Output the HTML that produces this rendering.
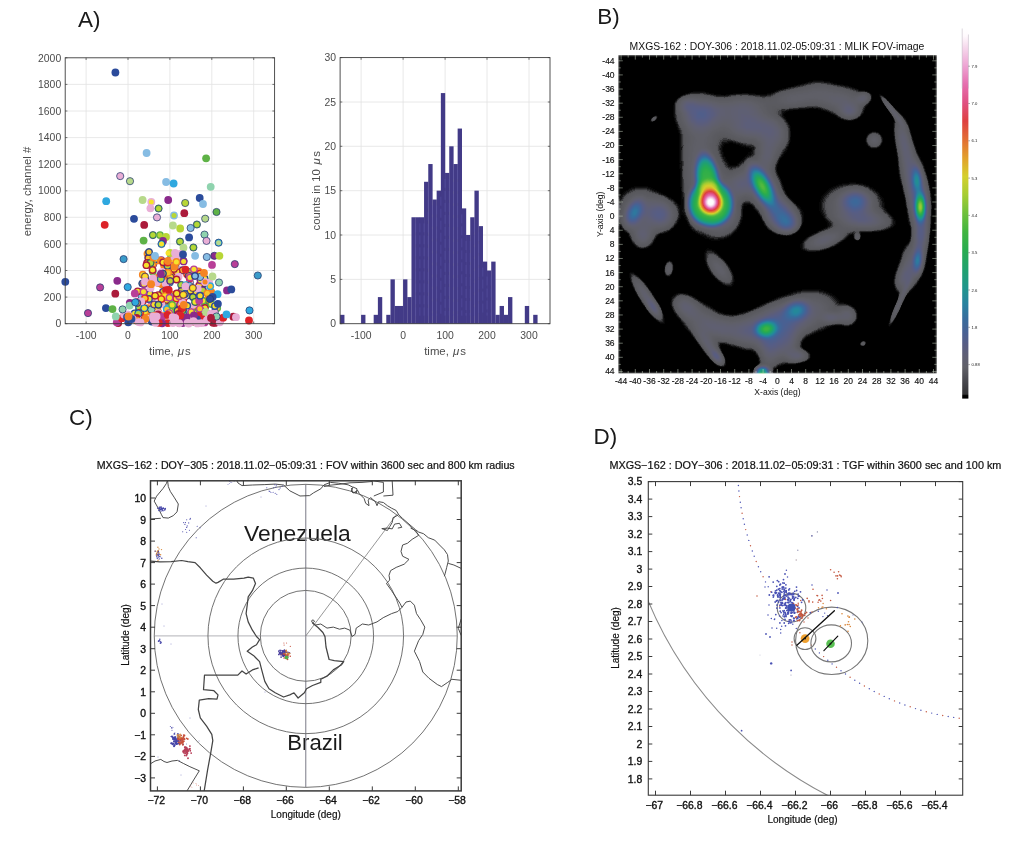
<!DOCTYPE html>
<html lang="en"><head><meta charset="utf-8"><title>Figure</title>
<style>
html,body{margin:0;padding:0;background:#fff;}
body{width:1029px;height:865px;overflow:hidden;font-family:"Liberation Sans",sans-serif;}
svg{display:block;font-family:"Liberation Sans",sans-serif;}
</style></head><body>
<svg width="1029" height="865" viewBox="0 0 1029 865">
<rect width="1029" height="865" fill="#ffffff"/>

<g font-size="22.5" fill="#1a1a1a">
<text x="78" y="27">A)</text>
<text x="597.2" y="23.8">B)</text>
<text x="69" y="425">C)</text>
<text x="593.5" y="443.8">D)</text>
</g>
<g id="panelA">
<line x1="86.1" y1="57.8" x2="86.1" y2="323.7" stroke="#e2e2e2" stroke-width="0.8"/>
<line x1="128.0" y1="57.8" x2="128.0" y2="323.7" stroke="#e2e2e2" stroke-width="0.8"/>
<line x1="169.9" y1="57.8" x2="169.9" y2="323.7" stroke="#e2e2e2" stroke-width="0.8"/>
<line x1="211.8" y1="57.8" x2="211.8" y2="323.7" stroke="#e2e2e2" stroke-width="0.8"/>
<line x1="253.7" y1="57.8" x2="253.7" y2="323.7" stroke="#e2e2e2" stroke-width="0.8"/>
<line x1="65.2" y1="297.1" x2="274.6" y2="297.1" stroke="#e2e2e2" stroke-width="0.8"/>
<line x1="65.2" y1="270.5" x2="274.6" y2="270.5" stroke="#e2e2e2" stroke-width="0.8"/>
<line x1="65.2" y1="243.9" x2="274.6" y2="243.9" stroke="#e2e2e2" stroke-width="0.8"/>
<line x1="65.2" y1="217.3" x2="274.6" y2="217.3" stroke="#e2e2e2" stroke-width="0.8"/>
<line x1="65.2" y1="190.8" x2="274.6" y2="190.8" stroke="#e2e2e2" stroke-width="0.8"/>
<line x1="65.2" y1="164.2" x2="274.6" y2="164.2" stroke="#e2e2e2" stroke-width="0.8"/>
<line x1="65.2" y1="137.6" x2="274.6" y2="137.6" stroke="#e2e2e2" stroke-width="0.8"/>
<line x1="65.2" y1="111.0" x2="274.6" y2="111.0" stroke="#e2e2e2" stroke-width="0.8"/>
<line x1="65.2" y1="84.4" x2="274.6" y2="84.4" stroke="#e2e2e2" stroke-width="0.8"/>
<circle cx="187.1" cy="274.2" r="3.9" fill="#dc2328"/>
<circle cx="187.1" cy="274.2" r="2.5" fill="#f6e22b"/>
<circle cx="183.7" cy="298.1" r="3.9" fill="#dc2328"/>
<circle cx="176.3" cy="311.6" r="3.9" fill="#b83f98"/>
<circle cx="166.3" cy="263.7" r="3.6" fill="#2b4b9b" stroke="#243a6e" stroke-width="0.75"/>
<circle cx="166.3" cy="263.7" r="2.5" fill="#b8d636"/>
<circle cx="146.8" cy="280.8" r="3.9" fill="#2fa8df"/>
<circle cx="146.8" cy="280.8" r="2.5" fill="#f6e22b"/>
<circle cx="168.2" cy="263.2" r="3.9" fill="#f58423"/>
<circle cx="168.2" cy="263.2" r="2.5" fill="#f6e22b"/>
<circle cx="192.9" cy="305.9" r="3.9" fill="#e9aed6"/>
<circle cx="177.4" cy="258.4" r="3.6" fill="#e9aed6" stroke="#243a6e" stroke-width="0.75"/>
<circle cx="207.6" cy="299.7" r="3.9" fill="#f58423"/>
<circle cx="198.5" cy="271.5" r="3.9" fill="#f58423"/>
<circle cx="198.5" cy="271.5" r="2.5" fill="#f9c52b"/>
<circle cx="190.0" cy="282.7" r="3.6" fill="#e9aed6" stroke="#243a6e" stroke-width="0.75"/>
<circle cx="140.7" cy="292.2" r="3.9" fill="#8a2a8b"/>
<circle cx="140.7" cy="292.2" r="2.5" fill="#f9c52b"/>
<circle cx="166.4" cy="296.3" r="3.9" fill="#dc2328"/>
<circle cx="189.1" cy="272.1" r="3.6" fill="#2fa8df" stroke="#243a6e" stroke-width="0.75"/>
<circle cx="189.1" cy="272.1" r="2.5" fill="#b8d636"/>
<circle cx="199.8" cy="298.9" r="3.9" fill="#2b4b9b"/>
<circle cx="199.8" cy="298.9" r="2.5" fill="#f6e22b"/>
<circle cx="204.9" cy="306.1" r="3.6" fill="#5eb246" stroke="#243a6e" stroke-width="0.75"/>
<circle cx="204.9" cy="306.1" r="2.5" fill="#b8d636"/>
<circle cx="139.1" cy="309.7" r="3.6" fill="#5eb246" stroke="#243a6e" stroke-width="0.75"/>
<circle cx="139.1" cy="309.7" r="2.5" fill="#b8d636"/>
<circle cx="143.8" cy="292.6" r="3.9" fill="#2fa8df"/>
<circle cx="143.8" cy="292.6" r="2.5" fill="#f6e22b"/>
<circle cx="199.1" cy="273.8" r="3.9" fill="#f58423"/>
<circle cx="169.8" cy="282.5" r="3.6" fill="#86bce3" stroke="#243a6e" stroke-width="0.75"/>
<circle cx="150.1" cy="299.2" r="3.9" fill="#dc2328"/>
<circle cx="165.6" cy="301.7" r="3.9" fill="#dc2328"/>
<circle cx="165.6" cy="301.7" r="2.5" fill="#f6e22b"/>
<circle cx="179.7" cy="269.9" r="3.6" fill="#2fa8df" stroke="#243a6e" stroke-width="0.75"/>
<circle cx="173.2" cy="263.6" r="3.9" fill="#f58423"/>
<circle cx="173.2" cy="263.6" r="2.5" fill="#f9c52b"/>
<circle cx="165.3" cy="272.2" r="3.9" fill="#e9aed6"/>
<circle cx="168.9" cy="293.3" r="3.9" fill="#ab1b3b"/>
<circle cx="168.9" cy="293.3" r="2.5" fill="#f9c52b"/>
<circle cx="202.7" cy="300.8" r="3.9" fill="#5eb246"/>
<circle cx="202.7" cy="300.8" r="2.5" fill="#f6e22b"/>
<circle cx="142.3" cy="283.5" r="3.6" fill="#2b4b9b" stroke="#243a6e" stroke-width="0.75"/>
<circle cx="142.3" cy="283.5" r="2.5" fill="#f6e22b"/>
<circle cx="161.9" cy="284.2" r="3.9" fill="#f58423"/>
<circle cx="149.7" cy="311.5" r="3.9" fill="#f58423"/>
<circle cx="174.2" cy="305.6" r="3.9" fill="#5eb246"/>
<circle cx="174.2" cy="305.6" r="2.5" fill="#f9c52b"/>
<circle cx="164.3" cy="273.1" r="3.9" fill="#dc2328"/>
<circle cx="164.3" cy="273.1" r="2.5" fill="#f6e22b"/>
<circle cx="205.0" cy="307.9" r="3.9" fill="#ab1b3b"/>
<circle cx="205.0" cy="307.9" r="2.5" fill="#f6e22b"/>
<circle cx="181.2" cy="284.9" r="3.6" fill="#5eb246" stroke="#243a6e" stroke-width="0.75"/>
<circle cx="181.2" cy="284.9" r="2.5" fill="#b8d636"/>
<circle cx="188.8" cy="275.8" r="3.6" fill="#8a2a8b" stroke="#243a6e" stroke-width="0.75"/>
<circle cx="188.8" cy="275.8" r="2.5" fill="#b8d636"/>
<circle cx="181.2" cy="258.4" r="3.9" fill="#e9aed6"/>
<circle cx="166.7" cy="288.1" r="3.9" fill="#2b4b9b"/>
<circle cx="166.7" cy="288.1" r="2.5" fill="#f6e22b"/>
<circle cx="142.8" cy="274.7" r="3.9" fill="#f58423"/>
<circle cx="142.8" cy="274.7" r="2.5" fill="#f6e22b"/>
<circle cx="176.0" cy="305.2" r="3.9" fill="#5eb246"/>
<circle cx="176.0" cy="305.2" r="2.5" fill="#f6e22b"/>
<circle cx="191.5" cy="312.7" r="3.6" fill="#e9aed6" stroke="#243a6e" stroke-width="0.75"/>
<circle cx="186.5" cy="293.7" r="3.9" fill="#f58423"/>
<circle cx="186.5" cy="293.7" r="2.5" fill="#f6e22b"/>
<circle cx="211.5" cy="304.1" r="3.9" fill="#5eb246"/>
<circle cx="211.5" cy="304.1" r="2.5" fill="#f6e22b"/>
<circle cx="143.0" cy="301.0" r="3.9" fill="#dc2328"/>
<circle cx="143.0" cy="301.0" r="2.5" fill="#f6e22b"/>
<circle cx="158.4" cy="283.1" r="3.9" fill="#f58423"/>
<circle cx="158.4" cy="283.1" r="2.5" fill="#f6e22b"/>
<circle cx="185.6" cy="285.6" r="3.9" fill="#2b4b9b"/>
<circle cx="185.6" cy="285.6" r="2.5" fill="#f6e22b"/>
<circle cx="141.6" cy="296.1" r="3.6" fill="#86bce3" stroke="#243a6e" stroke-width="0.75"/>
<circle cx="153.3" cy="263.9" r="3.9" fill="#8a2a8b"/>
<circle cx="153.3" cy="263.9" r="2.5" fill="#f6e22b"/>
<circle cx="150.6" cy="300.3" r="3.9" fill="#b83f98"/>
<circle cx="168.1" cy="274.7" r="3.9" fill="#f58423"/>
<circle cx="168.1" cy="274.7" r="2.5" fill="#f6e22b"/>
<circle cx="198.1" cy="310.6" r="3.9" fill="#f58423"/>
<circle cx="198.1" cy="310.6" r="2.5" fill="#f6e22b"/>
<circle cx="201.1" cy="311.0" r="3.6" fill="#2b4b9b" stroke="#243a6e" stroke-width="0.75"/>
<circle cx="201.1" cy="311.0" r="2.5" fill="#b8d636"/>
<circle cx="187.2" cy="295.5" r="3.6" fill="#2b4b9b" stroke="#243a6e" stroke-width="0.75"/>
<circle cx="187.2" cy="295.5" r="2.5" fill="#b8d636"/>
<circle cx="171.6" cy="294.7" r="3.9" fill="#f58423"/>
<circle cx="194.1" cy="292.4" r="3.6" fill="#8a2a8b" stroke="#243a6e" stroke-width="0.75"/>
<circle cx="194.1" cy="292.4" r="2.5" fill="#f6e22b"/>
<circle cx="175.9" cy="263.0" r="3.6" fill="#ab1b3b" stroke="#243a6e" stroke-width="0.75"/>
<circle cx="175.9" cy="263.0" r="2.5" fill="#f6e22b"/>
<circle cx="165.3" cy="274.0" r="3.9" fill="#dc2328"/>
<circle cx="165.3" cy="274.0" r="2.5" fill="#f6e22b"/>
<circle cx="177.0" cy="299.5" r="3.9" fill="#e9aed6"/>
<circle cx="173.6" cy="258.0" r="3.9" fill="#2fa8df"/>
<circle cx="173.6" cy="258.0" r="2.5" fill="#f9c52b"/>
<circle cx="168.3" cy="293.6" r="3.6" fill="#2fa8df" stroke="#243a6e" stroke-width="0.75"/>
<circle cx="168.3" cy="293.6" r="2.5" fill="#b8d636"/>
<circle cx="203.8" cy="283.5" r="3.6" fill="#8a2a8b" stroke="#243a6e" stroke-width="0.75"/>
<circle cx="203.8" cy="283.5" r="2.5" fill="#b8d636"/>
<circle cx="197.9" cy="311.3" r="3.9" fill="#5eb246"/>
<circle cx="197.9" cy="311.3" r="2.5" fill="#f6e22b"/>
<circle cx="170.6" cy="298.5" r="3.9" fill="#dc2328"/>
<circle cx="170.6" cy="298.5" r="2.5" fill="#f6e22b"/>
<circle cx="170.4" cy="297.8" r="3.9" fill="#2fa8df"/>
<circle cx="170.4" cy="297.8" r="2.5" fill="#f6e22b"/>
<circle cx="183.7" cy="312.4" r="3.9" fill="#f58423"/>
<circle cx="211.3" cy="292.2" r="3.9" fill="#f58423"/>
<circle cx="164.7" cy="296.3" r="3.6" fill="#ab1b3b" stroke="#243a6e" stroke-width="0.75"/>
<circle cx="164.7" cy="296.3" r="2.5" fill="#f6e22b"/>
<circle cx="143.6" cy="310.2" r="3.9" fill="#2fa8df"/>
<circle cx="143.6" cy="310.2" r="2.5" fill="#f6e22b"/>
<circle cx="183.5" cy="261.0" r="3.6" fill="#f58423" stroke="#243a6e" stroke-width="0.75"/>
<circle cx="183.5" cy="261.0" r="2.5" fill="#f9c52b"/>
<circle cx="182.8" cy="270.0" r="3.9" fill="#e9aed6"/>
<circle cx="170.7" cy="306.2" r="3.9" fill="#dc2328"/>
<circle cx="170.7" cy="306.2" r="2.5" fill="#f6e22b"/>
<circle cx="174.4" cy="260.5" r="3.9" fill="#ab1b3b"/>
<circle cx="174.4" cy="260.5" r="2.5" fill="#f6e22b"/>
<circle cx="166.8" cy="308.2" r="3.9" fill="#2fa8df"/>
<circle cx="166.8" cy="308.2" r="2.5" fill="#f6e22b"/>
<circle cx="167.1" cy="293.0" r="3.9" fill="#e9aed6"/>
<circle cx="217.2" cy="308.0" r="3.9" fill="#5eb246"/>
<circle cx="217.2" cy="308.0" r="2.5" fill="#f9c52b"/>
<circle cx="195.3" cy="312.2" r="3.9" fill="#f58423"/>
<circle cx="195.3" cy="312.2" r="2.5" fill="#f6e22b"/>
<circle cx="197.2" cy="301.9" r="3.9" fill="#dc2328"/>
<circle cx="197.2" cy="301.9" r="2.5" fill="#f6e22b"/>
<circle cx="146.4" cy="281.2" r="3.9" fill="#2b4b9b"/>
<circle cx="146.4" cy="281.2" r="2.5" fill="#f6e22b"/>
<circle cx="183.1" cy="298.8" r="3.9" fill="#dc2328"/>
<circle cx="183.1" cy="298.8" r="2.5" fill="#f6e22b"/>
<circle cx="179.6" cy="307.6" r="3.9" fill="#2b4b9b"/>
<circle cx="179.6" cy="307.6" r="2.5" fill="#f6e22b"/>
<circle cx="149.9" cy="294.1" r="3.6" fill="#2b4b9b" stroke="#243a6e" stroke-width="0.75"/>
<circle cx="149.9" cy="294.1" r="2.5" fill="#f6e22b"/>
<circle cx="183.6" cy="311.8" r="3.6" fill="#2fa8df" stroke="#243a6e" stroke-width="0.75"/>
<circle cx="183.6" cy="311.8" r="2.5" fill="#b8d636"/>
<circle cx="174.5" cy="309.8" r="3.9" fill="#b83f98"/>
<circle cx="156.7" cy="260.5" r="3.9" fill="#f58423"/>
<circle cx="156.7" cy="260.5" r="2.5" fill="#f6e22b"/>
<circle cx="149.4" cy="282.9" r="3.9" fill="#dc2328"/>
<circle cx="149.4" cy="282.9" r="2.5" fill="#f6e22b"/>
<circle cx="167.8" cy="291.8" r="3.9" fill="#e9aed6"/>
<circle cx="152.7" cy="271.4" r="3.9" fill="#5eb246"/>
<circle cx="152.7" cy="271.4" r="2.5" fill="#f9c52b"/>
<circle cx="137.7" cy="291.3" r="3.9" fill="#ab1b3b"/>
<circle cx="137.7" cy="291.3" r="2.5" fill="#f6e22b"/>
<circle cx="182.5" cy="310.2" r="3.6" fill="#5eb246" stroke="#243a6e" stroke-width="0.75"/>
<circle cx="182.5" cy="310.2" r="2.5" fill="#b8d636"/>
<circle cx="189.7" cy="278.2" r="3.9" fill="#dc2328"/>
<circle cx="189.7" cy="278.2" r="2.5" fill="#f9c52b"/>
<circle cx="153.6" cy="303.0" r="3.9" fill="#e9aed6"/>
<circle cx="155.4" cy="259.2" r="3.9" fill="#2b4b9b"/>
<circle cx="155.4" cy="259.2" r="2.5" fill="#f6e22b"/>
<circle cx="200.2" cy="276.6" r="3.9" fill="#5eb246"/>
<circle cx="200.2" cy="276.6" r="2.5" fill="#f6e22b"/>
<circle cx="145.3" cy="311.4" r="3.9" fill="#f58423"/>
<circle cx="145.3" cy="311.4" r="2.5" fill="#f6e22b"/>
<circle cx="189.3" cy="286.6" r="3.9" fill="#f58423"/>
<circle cx="189.3" cy="286.6" r="2.5" fill="#f6e22b"/>
<circle cx="200.1" cy="273.5" r="3.9" fill="#dc2328"/>
<circle cx="200.1" cy="273.5" r="2.5" fill="#f9c52b"/>
<circle cx="189.0" cy="289.8" r="3.6" fill="#2b4b9b" stroke="#243a6e" stroke-width="0.75"/>
<circle cx="189.0" cy="289.8" r="2.5" fill="#b8d636"/>
<circle cx="186.1" cy="285.1" r="3.9" fill="#2fa8df"/>
<circle cx="186.1" cy="285.1" r="2.5" fill="#f6e22b"/>
<circle cx="189.5" cy="285.9" r="3.6" fill="#86bce3" stroke="#243a6e" stroke-width="0.75"/>
<circle cx="180.3" cy="269.8" r="3.9" fill="#e9aed6"/>
<circle cx="147.5" cy="253.8" r="3.9" fill="#f58423"/>
<circle cx="147.5" cy="253.8" r="2.5" fill="#f9c52b"/>
<circle cx="134.6" cy="313.3" r="3.9" fill="#2b4b9b"/>
<circle cx="134.6" cy="313.3" r="2.5" fill="#f6e22b"/>
<circle cx="139.2" cy="307.0" r="3.6" fill="#2fa8df" stroke="#243a6e" stroke-width="0.75"/>
<circle cx="139.2" cy="307.0" r="2.5" fill="#b8d636"/>
<circle cx="181.3" cy="291.1" r="3.6" fill="#8a2a8b" stroke="#243a6e" stroke-width="0.75"/>
<circle cx="181.3" cy="291.1" r="2.5" fill="#b8d636"/>
<circle cx="163.0" cy="291.8" r="3.6" fill="#8a2a8b" stroke="#243a6e" stroke-width="0.75"/>
<circle cx="163.0" cy="291.8" r="2.5" fill="#b8d636"/>
<circle cx="166.8" cy="299.9" r="3.6" fill="#dc2328" stroke="#243a6e" stroke-width="0.75"/>
<circle cx="166.8" cy="299.9" r="2.5" fill="#f6e22b"/>
<circle cx="154.6" cy="310.0" r="3.9" fill="#8a2a8b"/>
<circle cx="154.6" cy="310.0" r="2.5" fill="#f6e22b"/>
<circle cx="140.0" cy="312.7" r="3.9" fill="#dc2328"/>
<circle cx="140.0" cy="312.7" r="2.5" fill="#f6e22b"/>
<circle cx="172.2" cy="259.7" r="3.9" fill="#8a2a8b"/>
<circle cx="172.2" cy="259.7" r="2.5" fill="#f6e22b"/>
<circle cx="164.1" cy="265.4" r="3.9" fill="#f58423"/>
<circle cx="204.6" cy="278.5" r="3.6" fill="#2b4b9b" stroke="#243a6e" stroke-width="0.75"/>
<circle cx="204.6" cy="278.5" r="2.5" fill="#f6e22b"/>
<circle cx="161.3" cy="260.1" r="3.9" fill="#8a2a8b"/>
<circle cx="160.7" cy="260.6" r="3.9" fill="#f58423"/>
<circle cx="145.1" cy="298.9" r="3.6" fill="#e9aed6" stroke="#243a6e" stroke-width="0.75"/>
<circle cx="167.9" cy="279.9" r="3.9" fill="#f58423"/>
<circle cx="165.6" cy="283.3" r="3.9" fill="#e9aed6"/>
<circle cx="150.5" cy="288.1" r="3.9" fill="#e9aed6"/>
<circle cx="199.2" cy="285.4" r="3.9" fill="#ab1b3b"/>
<circle cx="199.2" cy="285.4" r="2.5" fill="#f6e22b"/>
<circle cx="159.6" cy="276.5" r="3.9" fill="#2b4b9b"/>
<circle cx="159.6" cy="276.5" r="2.5" fill="#f9c52b"/>
<circle cx="202.9" cy="290.2" r="3.6" fill="#8a2a8b" stroke="#243a6e" stroke-width="0.75"/>
<circle cx="202.9" cy="290.2" r="2.5" fill="#b8d636"/>
<circle cx="161.3" cy="304.4" r="3.9" fill="#e9aed6"/>
<circle cx="134.8" cy="293.4" r="3.9" fill="#b83f98"/>
<circle cx="174.4" cy="267.1" r="3.6" fill="#2b4b9b" stroke="#243a6e" stroke-width="0.75"/>
<circle cx="174.4" cy="267.1" r="2.5" fill="#b8d636"/>
<circle cx="182.6" cy="270.3" r="3.6" fill="#dc2328" stroke="#243a6e" stroke-width="0.75"/>
<circle cx="182.6" cy="270.3" r="2.5" fill="#f9c52b"/>
<circle cx="166.2" cy="290.2" r="3.9" fill="#dc2328"/>
<circle cx="174.3" cy="273.2" r="3.9" fill="#f58423"/>
<circle cx="152.4" cy="264.6" r="3.9" fill="#f58423"/>
<circle cx="152.4" cy="264.6" r="2.5" fill="#f9c52b"/>
<circle cx="190.0" cy="277.5" r="3.9" fill="#b83f98"/>
<circle cx="190.0" cy="277.5" r="2.5" fill="#f6e22b"/>
<circle cx="196.9" cy="312.4" r="3.9" fill="#ab1b3b"/>
<circle cx="196.9" cy="312.4" r="2.5" fill="#f6e22b"/>
<circle cx="162.3" cy="274.7" r="3.9" fill="#dc2328"/>
<circle cx="162.3" cy="274.7" r="2.5" fill="#f6e22b"/>
<circle cx="180.0" cy="304.8" r="3.9" fill="#8a2a8b"/>
<circle cx="180.0" cy="304.8" r="2.5" fill="#f9c52b"/>
<circle cx="148.2" cy="308.1" r="3.9" fill="#f58423"/>
<circle cx="145.0" cy="276.6" r="3.6" fill="#f58423" stroke="#243a6e" stroke-width="0.75"/>
<circle cx="145.0" cy="276.6" r="2.5" fill="#f6e22b"/>
<circle cx="173.8" cy="310.2" r="3.6" fill="#dc2328" stroke="#243a6e" stroke-width="0.75"/>
<circle cx="173.8" cy="310.2" r="2.5" fill="#f6e22b"/>
<circle cx="157.5" cy="310.2" r="3.9" fill="#f58423"/>
<circle cx="157.5" cy="310.2" r="2.5" fill="#f6e22b"/>
<circle cx="176.7" cy="271.8" r="3.9" fill="#ab1b3b"/>
<circle cx="176.7" cy="271.8" r="2.5" fill="#f6e22b"/>
<circle cx="214.8" cy="312.1" r="3.6" fill="#e9aed6" stroke="#243a6e" stroke-width="0.75"/>
<circle cx="138.3" cy="313.5" r="3.6" fill="#2fa8df" stroke="#243a6e" stroke-width="0.75"/>
<circle cx="138.3" cy="313.5" r="2.5" fill="#b8d636"/>
<circle cx="158.7" cy="313.3" r="3.9" fill="#dc2328"/>
<circle cx="158.7" cy="313.3" r="2.5" fill="#f6e22b"/>
<circle cx="185.5" cy="269.6" r="3.9" fill="#dc2328"/>
<circle cx="178.6" cy="276.7" r="3.9" fill="#e9aed6"/>
<circle cx="143.9" cy="284.0" r="3.9" fill="#8a2a8b"/>
<circle cx="143.9" cy="284.0" r="2.5" fill="#f6e22b"/>
<circle cx="148.3" cy="257.9" r="3.6" fill="#ab1b3b" stroke="#243a6e" stroke-width="0.75"/>
<circle cx="148.3" cy="257.9" r="2.5" fill="#f9c52b"/>
<circle cx="170.5" cy="277.5" r="3.6" fill="#f58423" stroke="#243a6e" stroke-width="0.75"/>
<circle cx="170.5" cy="277.5" r="2.5" fill="#f6e22b"/>
<circle cx="181.7" cy="299.3" r="3.9" fill="#5eb246"/>
<circle cx="181.7" cy="299.3" r="2.5" fill="#f6e22b"/>
<circle cx="177.5" cy="310.4" r="3.6" fill="#2b4b9b" stroke="#243a6e" stroke-width="0.75"/>
<circle cx="177.5" cy="310.4" r="2.5" fill="#f9c52b"/>
<circle cx="151.4" cy="309.5" r="3.6" fill="#8fd3ae" stroke="#243a6e" stroke-width="0.75"/>
<circle cx="149.0" cy="298.9" r="3.9" fill="#2b4b9b"/>
<circle cx="149.0" cy="298.9" r="2.5" fill="#f6e22b"/>
<circle cx="158.0" cy="277.6" r="3.9" fill="#f58423"/>
<circle cx="144.9" cy="298.3" r="3.9" fill="#dc2328"/>
<circle cx="144.9" cy="298.3" r="2.5" fill="#f9c52b"/>
<circle cx="182.8" cy="301.7" r="3.9" fill="#dc2328"/>
<circle cx="182.8" cy="301.7" r="2.5" fill="#f6e22b"/>
<circle cx="184.5" cy="295.5" r="3.9" fill="#e9aed6"/>
<circle cx="170.8" cy="258.7" r="3.6" fill="#2fa8df" stroke="#243a6e" stroke-width="0.75"/>
<circle cx="170.8" cy="258.7" r="2.5" fill="#b8d636"/>
<circle cx="184.1" cy="306.8" r="3.9" fill="#dc2328"/>
<circle cx="184.1" cy="306.8" r="2.5" fill="#f9c52b"/>
<circle cx="209.2" cy="282.7" r="3.9" fill="#e9aed6"/>
<circle cx="144.3" cy="308.2" r="3.6" fill="#2fa8df" stroke="#243a6e" stroke-width="0.75"/>
<circle cx="144.3" cy="308.2" r="2.5" fill="#f6e22b"/>
<circle cx="129.8" cy="302.9" r="3.9" fill="#8a2a8b"/>
<circle cx="176.4" cy="298.4" r="3.9" fill="#dc2328"/>
<circle cx="176.4" cy="298.4" r="2.5" fill="#f6e22b"/>
<circle cx="179.9" cy="294.1" r="3.9" fill="#8a2a8b"/>
<circle cx="179.9" cy="294.1" r="2.5" fill="#f6e22b"/>
<circle cx="174.0" cy="268.9" r="3.9" fill="#ab1b3b"/>
<circle cx="174.0" cy="268.9" r="2.5" fill="#f6e22b"/>
<circle cx="167.6" cy="291.8" r="3.9" fill="#dc2328"/>
<circle cx="167.6" cy="291.8" r="2.5" fill="#f9c52b"/>
<circle cx="137.7" cy="301.9" r="3.9" fill="#b83f98"/>
<circle cx="137.7" cy="301.9" r="2.5" fill="#f6e22b"/>
<circle cx="190.4" cy="290.7" r="3.6" fill="#ab1b3b" stroke="#243a6e" stroke-width="0.75"/>
<circle cx="190.4" cy="290.7" r="2.5" fill="#f6e22b"/>
<circle cx="193.9" cy="269.3" r="3.9" fill="#b83f98"/>
<circle cx="193.9" cy="269.3" r="2.5" fill="#f6e22b"/>
<circle cx="163.2" cy="262.3" r="3.9" fill="#ab1b3b"/>
<circle cx="163.2" cy="262.3" r="2.5" fill="#f6e22b"/>
<circle cx="172.8" cy="265.2" r="3.9" fill="#f58423"/>
<circle cx="172.8" cy="265.2" r="2.5" fill="#f6e22b"/>
<circle cx="170.2" cy="311.2" r="3.9" fill="#5eb246"/>
<circle cx="170.2" cy="311.2" r="2.5" fill="#f6e22b"/>
<circle cx="182.5" cy="302.8" r="3.9" fill="#e9aed6"/>
<circle cx="166.8" cy="309.2" r="3.9" fill="#2fa8df"/>
<circle cx="166.8" cy="309.2" r="2.5" fill="#f9c52b"/>
<circle cx="192.9" cy="297.1" r="3.6" fill="#2b4b9b" stroke="#243a6e" stroke-width="0.75"/>
<circle cx="192.9" cy="297.1" r="2.5" fill="#b8d636"/>
<circle cx="158.3" cy="295.1" r="3.9" fill="#ab1b3b"/>
<circle cx="158.3" cy="295.1" r="2.5" fill="#f6e22b"/>
<circle cx="187.2" cy="305.7" r="3.9" fill="#2b4b9b"/>
<circle cx="187.2" cy="305.7" r="2.5" fill="#f6e22b"/>
<circle cx="197.8" cy="288.7" r="3.9" fill="#e9aed6"/>
<circle cx="156.8" cy="282.5" r="3.9" fill="#e9aed6"/>
<circle cx="183.6" cy="261.4" r="3.9" fill="#8a2a8b"/>
<circle cx="183.6" cy="261.4" r="2.5" fill="#f6e22b"/>
<circle cx="176.5" cy="279.5" r="3.9" fill="#ab1b3b"/>
<circle cx="176.5" cy="279.5" r="2.5" fill="#f6e22b"/>
<circle cx="207.3" cy="293.3" r="3.9" fill="#f58423"/>
<circle cx="207.3" cy="293.3" r="2.5" fill="#f9c52b"/>
<circle cx="185.5" cy="286.5" r="3.9" fill="#e9aed6"/>
<circle cx="147.1" cy="263.0" r="3.9" fill="#ab1b3b"/>
<circle cx="147.1" cy="263.0" r="2.5" fill="#f9c52b"/>
<circle cx="167.2" cy="297.2" r="3.9" fill="#b83f98"/>
<circle cx="167.2" cy="297.2" r="2.5" fill="#f6e22b"/>
<circle cx="179.1" cy="296.2" r="3.9" fill="#b83f98"/>
<circle cx="179.1" cy="296.2" r="2.5" fill="#f9c52b"/>
<circle cx="165.0" cy="296.1" r="3.9" fill="#f58423"/>
<circle cx="165.0" cy="296.1" r="2.5" fill="#f6e22b"/>
<circle cx="200.5" cy="280.3" r="3.9" fill="#8a2a8b"/>
<circle cx="200.5" cy="280.3" r="2.5" fill="#f6e22b"/>
<circle cx="141.2" cy="301.4" r="3.9" fill="#e9aed6"/>
<circle cx="167.5" cy="266.1" r="3.6" fill="#2b4b9b" stroke="#243a6e" stroke-width="0.75"/>
<circle cx="167.5" cy="266.1" r="2.5" fill="#b8d636"/>
<circle cx="158.3" cy="313.1" r="3.9" fill="#e9aed6"/>
<circle cx="165.7" cy="272.6" r="3.9" fill="#dc2328"/>
<circle cx="207.2" cy="313.4" r="3.6" fill="#2b4b9b" stroke="#243a6e" stroke-width="0.75"/>
<circle cx="207.2" cy="313.4" r="2.5" fill="#b8d636"/>
<circle cx="174.7" cy="262.1" r="3.9" fill="#e9aed6"/>
<circle cx="193.9" cy="313.0" r="3.9" fill="#5eb246"/>
<circle cx="193.9" cy="313.0" r="2.5" fill="#f6e22b"/>
<circle cx="168.7" cy="289.8" r="3.9" fill="#dc2328"/>
<circle cx="169.5" cy="297.7" r="3.9" fill="#b83f98"/>
<circle cx="169.5" cy="297.7" r="2.5" fill="#f6e22b"/>
<circle cx="191.2" cy="312.1" r="3.9" fill="#b83f98"/>
<circle cx="191.2" cy="312.1" r="2.5" fill="#f6e22b"/>
<circle cx="137.2" cy="303.0" r="3.6" fill="#8a2a8b" stroke="#243a6e" stroke-width="0.75"/>
<circle cx="137.2" cy="303.0" r="2.5" fill="#b8d636"/>
<circle cx="155.1" cy="295.8" r="3.9" fill="#ab1b3b"/>
<circle cx="155.1" cy="295.8" r="2.5" fill="#f6e22b"/>
<circle cx="181.5" cy="308.6" r="3.9" fill="#dc2328"/>
<circle cx="161.3" cy="299.1" r="3.9" fill="#dc2328"/>
<circle cx="161.3" cy="299.1" r="2.5" fill="#f6e22b"/>
<circle cx="167.5" cy="262.5" r="3.9" fill="#dc2328"/>
<circle cx="214.9" cy="306.1" r="3.9" fill="#2b4b9b"/>
<circle cx="214.9" cy="306.1" r="2.5" fill="#f6e22b"/>
<circle cx="162.1" cy="272.0" r="3.9" fill="#e9aed6"/>
<circle cx="195.1" cy="301.9" r="3.6" fill="#5eb246" stroke="#243a6e" stroke-width="0.75"/>
<circle cx="195.1" cy="301.9" r="2.5" fill="#f6e22b"/>
<circle cx="210.2" cy="286.2" r="3.9" fill="#2fa8df"/>
<circle cx="210.2" cy="286.2" r="2.5" fill="#f9c52b"/>
<circle cx="169.2" cy="313.1" r="3.9" fill="#b83f98"/>
<circle cx="169.2" cy="313.1" r="2.5" fill="#f6e22b"/>
<circle cx="152.6" cy="270.0" r="3.9" fill="#ab1b3b"/>
<circle cx="152.6" cy="270.0" r="2.5" fill="#f6e22b"/>
<circle cx="145.0" cy="281.5" r="3.9" fill="#e9aed6"/>
<circle cx="160.8" cy="278.9" r="3.6" fill="#2fa8df" stroke="#243a6e" stroke-width="0.75"/>
<circle cx="160.8" cy="278.9" r="2.5" fill="#b8d636"/>
<circle cx="154.2" cy="304.5" r="3.6" fill="#b83f98" stroke="#243a6e" stroke-width="0.75"/>
<circle cx="154.2" cy="304.5" r="2.5" fill="#f6e22b"/>
<circle cx="199.8" cy="308.8" r="3.9" fill="#b83f98"/>
<circle cx="199.8" cy="308.8" r="2.5" fill="#f9c52b"/>
<circle cx="150.5" cy="262.9" r="3.6" fill="#5eb246" stroke="#243a6e" stroke-width="0.75"/>
<circle cx="150.5" cy="262.9" r="2.5" fill="#b8d636"/>
<circle cx="171.9" cy="259.8" r="3.9" fill="#b83f98"/>
<circle cx="171.9" cy="259.8" r="2.5" fill="#f6e22b"/>
<circle cx="199.2" cy="300.7" r="3.9" fill="#b83f98"/>
<circle cx="192.8" cy="288.0" r="3.6" fill="#f58423" stroke="#243a6e" stroke-width="0.75"/>
<circle cx="192.8" cy="288.0" r="2.5" fill="#f6e22b"/>
<circle cx="167.9" cy="261.0" r="3.9" fill="#f58423"/>
<circle cx="170.2" cy="281.0" r="3.6" fill="#8a2a8b" stroke="#243a6e" stroke-width="0.75"/>
<circle cx="170.2" cy="281.0" r="2.5" fill="#b8d636"/>
<circle cx="158.4" cy="304.8" r="3.6" fill="#2b4b9b" stroke="#243a6e" stroke-width="0.75"/>
<circle cx="158.4" cy="304.8" r="2.5" fill="#b8d636"/>
<circle cx="174.4" cy="266.6" r="3.9" fill="#f58423"/>
<circle cx="176.7" cy="293.4" r="3.9" fill="#ab1b3b"/>
<circle cx="176.7" cy="293.4" r="2.5" fill="#f6e22b"/>
<circle cx="200.1" cy="295.7" r="3.9" fill="#2b4b9b"/>
<circle cx="200.1" cy="295.7" r="2.5" fill="#f6e22b"/>
<circle cx="174.4" cy="256.7" r="3.9" fill="#e9aed6"/>
<circle cx="153.2" cy="257.5" r="3.9" fill="#f58423"/>
<circle cx="143.5" cy="291.7" r="3.9" fill="#b83f98"/>
<circle cx="143.5" cy="291.7" r="2.5" fill="#f6e22b"/>
<circle cx="153.0" cy="278.5" r="3.9" fill="#e9aed6"/>
<circle cx="183.8" cy="304.8" r="3.9" fill="#f58423"/>
<circle cx="151.1" cy="284.2" r="3.9" fill="#f58423"/>
<circle cx="146.4" cy="265.2" r="3.9" fill="#ab1b3b"/>
<circle cx="146.4" cy="265.2" r="2.5" fill="#f6e22b"/>
<circle cx="168.0" cy="272.8" r="3.9" fill="#f58423"/>
<circle cx="168.0" cy="272.8" r="2.5" fill="#f9c52b"/>
<circle cx="184.9" cy="294.0" r="3.9" fill="#2b4b9b"/>
<circle cx="184.9" cy="294.0" r="2.5" fill="#f6e22b"/>
<circle cx="176.4" cy="261.9" r="3.9" fill="#f58423"/>
<circle cx="176.4" cy="261.9" r="2.5" fill="#f6e22b"/>
<circle cx="172.1" cy="304.9" r="3.9" fill="#5eb246"/>
<circle cx="172.1" cy="304.9" r="2.5" fill="#f6e22b"/>
<circle cx="162.9" cy="273.6" r="3.6" fill="#2b4b9b" stroke="#243a6e" stroke-width="0.75"/>
<circle cx="162.9" cy="273.6" r="2.5" fill="#b8d636"/>
<circle cx="160.9" cy="274.0" r="3.9" fill="#8a2a8b"/>
<circle cx="183.3" cy="294.8" r="3.6" fill="#f58423" stroke="#243a6e" stroke-width="0.75"/>
<circle cx="183.3" cy="294.8" r="2.5" fill="#f6e22b"/>
<circle cx="220.1" cy="320.5" r="3.9" fill="#b83f98"/>
<circle cx="179.7" cy="323.2" r="3.9" fill="#ab1b3b"/>
<circle cx="175.2" cy="317.9" r="3.9" fill="#2b4b9b"/>
<circle cx="173.4" cy="317.4" r="3.9" fill="#8a2a8b"/>
<circle cx="144.7" cy="318.8" r="3.9" fill="#ab1b3b"/>
<circle cx="182.2" cy="319.2" r="3.9" fill="#ab1b3b"/>
<circle cx="164.6" cy="315.8" r="3.9" fill="#f58423"/>
<circle cx="158.2" cy="314.3" r="3.9" fill="#ab1b3b"/>
<circle cx="198.8" cy="315.9" r="3.9" fill="#dc2328"/>
<circle cx="162.1" cy="317.0" r="3.9" fill="#b83f98"/>
<circle cx="136.6" cy="318.0" r="3.9" fill="#ab1b3b"/>
<circle cx="213.0" cy="322.7" r="3.9" fill="#ab1b3b"/>
<circle cx="174.5" cy="321.5" r="3.9" fill="#dc2328"/>
<circle cx="128.3" cy="322.3" r="3.9" fill="#2b4b9b"/>
<circle cx="179.3" cy="316.1" r="3.9" fill="#dc2328"/>
<circle cx="153.4" cy="321.0" r="3.9" fill="#dc2328"/>
<circle cx="153.0" cy="316.4" r="3.9" fill="#b83f98"/>
<circle cx="137.0" cy="320.7" r="3.9" fill="#f58423"/>
<circle cx="204.6" cy="322.4" r="3.9" fill="#b83f98"/>
<circle cx="193.6" cy="321.5" r="3.9" fill="#ab1b3b"/>
<circle cx="167.9" cy="323.1" r="3.9" fill="#dc2328"/>
<circle cx="151.8" cy="321.6" r="3.9" fill="#2b4b9b"/>
<circle cx="118.2" cy="323.1" r="3.9" fill="#ab1b3b"/>
<circle cx="116.8" cy="322.3" r="3.9" fill="#b83f98"/>
<circle cx="178.5" cy="317.9" r="3.9" fill="#ab1b3b"/>
<circle cx="203.2" cy="319.2" r="3.9" fill="#dc2328"/>
<circle cx="178.5" cy="313.8" r="3.9" fill="#ab1b3b"/>
<circle cx="182.6" cy="323.0" r="3.9" fill="#8a2a8b"/>
<circle cx="154.6" cy="321.7" r="3.9" fill="#2b4b9b"/>
<circle cx="178.7" cy="316.2" r="3.9" fill="#b83f98"/>
<circle cx="197.0" cy="319.5" r="3.9" fill="#2b4b9b"/>
<circle cx="186.6" cy="317.4" r="3.9" fill="#8a2a8b"/>
<circle cx="145.5" cy="318.7" r="3.9" fill="#f58423"/>
<circle cx="154.0" cy="315.9" r="3.9" fill="#f58423"/>
<circle cx="217.9" cy="318.1" r="3.9" fill="#dc2328"/>
<circle cx="214.8" cy="322.9" r="3.9" fill="#ab1b3b"/>
<circle cx="162.1" cy="323.3" r="3.9" fill="#8a2a8b"/>
<circle cx="121.9" cy="318.2" r="3.9" fill="#dc2328"/>
<circle cx="158.8" cy="322.8" r="3.9" fill="#dc2328"/>
<circle cx="180.4" cy="315.3" r="3.9" fill="#dc2328"/>
<circle cx="193.9" cy="315.3" r="3.9" fill="#8a2a8b"/>
<circle cx="167.6" cy="314.8" r="3.9" fill="#dc2328"/>
<circle cx="219.8" cy="322.3" r="3.9" fill="#e9aed6"/>
<circle cx="172.9" cy="323.1" r="3.9" fill="#e9aed6"/>
<circle cx="153.1" cy="316.4" r="3.9" fill="#e9aed6"/>
<circle cx="209.7" cy="317.9" r="3.9" fill="#e9aed6"/>
<circle cx="179.3" cy="323.3" r="3.9" fill="#e9aed6"/>
<circle cx="140.5" cy="322.4" r="3.9" fill="#e9aed6"/>
<circle cx="138.7" cy="322.1" r="3.9" fill="#e9aed6"/>
<circle cx="175.2" cy="317.8" r="3.9" fill="#e9aed6"/>
<circle cx="201.3" cy="323.1" r="3.9" fill="#e9aed6"/>
<circle cx="172.7" cy="317.1" r="3.9" fill="#e9aed6"/>
<circle cx="156.6" cy="316.5" r="3.9" fill="#e9aed6"/>
<circle cx="132.7" cy="318.9" r="3.9" fill="#e9aed6"/>
<circle cx="187.6" cy="322.8" r="3.9" fill="#e9aed6"/>
<circle cx="155.7" cy="317.0" r="3.9" fill="#e9aed6"/>
<circle cx="154.7" cy="318.2" r="3.9" fill="#e9aed6"/>
<circle cx="197.4" cy="323.4" r="3.9" fill="#e9aed6"/>
<circle cx="155.4" cy="317.1" r="3.9" fill="#e9aed6"/>
<circle cx="153.5" cy="319.2" r="3.9" fill="#e9aed6"/>
<circle cx="128.2" cy="314.7" r="3.9" fill="#e9aed6"/>
<circle cx="206.9" cy="320.1" r="3.9" fill="#e9aed6"/>
<circle cx="155.4" cy="322.8" r="3.9" fill="#e9aed6"/>
<circle cx="188.7" cy="323.6" r="3.9" fill="#e9aed6"/>
<circle cx="193.5" cy="321.1" r="3.9" fill="#e9aed6"/>
<circle cx="124.1" cy="314.6" r="3.9" fill="#e9aed6"/>
<circle cx="208.6" cy="314.8" r="3.9" fill="#e9aed6"/>
<circle cx="115.4" cy="72.5" r="3.9" fill="#2b4b9b"/>
<circle cx="146.6" cy="153.0" r="3.9" fill="#86bce3"/>
<circle cx="206.1" cy="158.3" r="3.9" fill="#5eb246"/>
<circle cx="120.2" cy="176.1" r="3.6" fill="#e9aed6" stroke="#243a6e" stroke-width="0.75"/>
<circle cx="130.0" cy="181.2" r="3.6" fill="#b7d98b" stroke="#243a6e" stroke-width="0.75"/>
<circle cx="166.1" cy="182.0" r="3.9" fill="#86bce3"/>
<circle cx="173.6" cy="183.5" r="3.9" fill="#2fa8df"/>
<circle cx="210.7" cy="186.8" r="3.9" fill="#8fd3ae"/>
<circle cx="106.2" cy="201.2" r="3.9" fill="#2fa8df"/>
<circle cx="142.6" cy="200.0" r="3.9" fill="#b7d98b"/>
<circle cx="168.2" cy="200.0" r="3.9" fill="#8a2a8b"/>
<circle cx="199.7" cy="198.0" r="3.9" fill="#2b4b9b"/>
<circle cx="203.0" cy="204.0" r="3.9" fill="#86bce3"/>
<circle cx="185.2" cy="203.0" r="3.6" fill="#b8d636" stroke="#243a6e" stroke-width="0.75"/>
<circle cx="151.3" cy="202.0" r="3.9" fill="#e9aed6"/>
<circle cx="151.3" cy="202.0" r="2.5" fill="#f6e22b"/>
<circle cx="150.4" cy="208.3" r="3.9" fill="#e9aed6"/>
<circle cx="158.6" cy="208.5" r="3.6" fill="#5eb246" stroke="#243a6e" stroke-width="0.75"/>
<circle cx="158.6" cy="208.5" r="2.5" fill="#b8d636"/>
<circle cx="216.5" cy="212.0" r="3.6" fill="#5eb246" stroke="#243a6e" stroke-width="0.75"/>
<circle cx="184.3" cy="213.2" r="3.9" fill="#ab1b3b"/>
<circle cx="174.0" cy="215.5" r="3.9" fill="#86bce3"/>
<circle cx="174.0" cy="215.5" r="2.5" fill="#b8d636"/>
<circle cx="157.0" cy="217.4" r="3.6" fill="#e9aed6" stroke="#243a6e" stroke-width="0.75"/>
<circle cx="205.2" cy="218.7" r="3.6" fill="#b7d98b" stroke="#243a6e" stroke-width="0.75"/>
<circle cx="134.0" cy="218.8" r="3.9" fill="#2b4b9b"/>
<circle cx="104.7" cy="224.8" r="3.9" fill="#dc2328"/>
<circle cx="144.2" cy="224.9" r="3.9" fill="#ab1b3b"/>
<circle cx="196.9" cy="224.5" r="3.6" fill="#5eb246" stroke="#243a6e" stroke-width="0.75"/>
<circle cx="196.9" cy="224.5" r="2.5" fill="#b8d636"/>
<circle cx="172.9" cy="225.5" r="3.9" fill="#b7d98b"/>
<circle cx="180.2" cy="228.5" r="3.9" fill="#b8d636"/>
<circle cx="190.6" cy="228.0" r="3.6" fill="#86bce3" stroke="#243a6e" stroke-width="0.75"/>
<circle cx="204.5" cy="234.6" r="3.6" fill="#8fd3ae" stroke="#243a6e" stroke-width="0.75"/>
<circle cx="152.9" cy="235.1" r="3.6" fill="#5eb246" stroke="#243a6e" stroke-width="0.75"/>
<circle cx="152.9" cy="235.1" r="2.5" fill="#b8d636"/>
<circle cx="160.0" cy="235.1" r="3.9" fill="#5eb246"/>
<circle cx="160.0" cy="235.1" r="2.5" fill="#b8d636"/>
<circle cx="166.0" cy="237.0" r="3.9" fill="#b8d636"/>
<circle cx="189.1" cy="237.4" r="3.9" fill="#2b4b9b"/>
<circle cx="206.5" cy="240.9" r="3.6" fill="#e9aed6" stroke="#243a6e" stroke-width="0.75"/>
<circle cx="143.6" cy="240.6" r="3.9" fill="#5eb246"/>
<circle cx="163.0" cy="241.0" r="3.9" fill="#8a2a8b"/>
<circle cx="161.5" cy="244.0" r="3.6" fill="#2fa8df" stroke="#243a6e" stroke-width="0.75"/>
<circle cx="161.5" cy="244.0" r="2.5" fill="#f6e22b"/>
<circle cx="180.0" cy="241.6" r="3.6" fill="#5eb246" stroke="#243a6e" stroke-width="0.75"/>
<circle cx="180.0" cy="241.6" r="2.5" fill="#b8d636"/>
<circle cx="218.6" cy="242.7" r="3.6" fill="#2fa8df" stroke="#243a6e" stroke-width="0.75"/>
<circle cx="218.6" cy="242.7" r="2.5" fill="#b7d98b"/>
<circle cx="193.4" cy="247.5" r="3.6" fill="#5eb246" stroke="#243a6e" stroke-width="0.75"/>
<circle cx="193.4" cy="247.5" r="2.5" fill="#b8d636"/>
<circle cx="183.5" cy="247.7" r="3.9" fill="#b7d98b"/>
<circle cx="123.6" cy="259.1" r="3.6" fill="#3a9bc9" stroke="#243a6e" stroke-width="0.75"/>
<circle cx="214.3" cy="255.8" r="3.6" fill="#8a2a8b" stroke="#243a6e" stroke-width="0.75"/>
<circle cx="219.4" cy="255.8" r="3.9" fill="#b8d636"/>
<circle cx="206.8" cy="257.0" r="3.6" fill="#86bce3" stroke="#243a6e" stroke-width="0.75"/>
<circle cx="195.1" cy="255.8" r="3.9" fill="#86bce3"/>
<circle cx="212.0" cy="264.9" r="3.9" fill="#b83f98"/>
<circle cx="234.8" cy="264.1" r="3.6" fill="#b83f98" stroke="#243a6e" stroke-width="0.75"/>
<circle cx="257.8" cy="275.5" r="3.6" fill="#3a9bc9" stroke="#243a6e" stroke-width="0.75"/>
<circle cx="65.3" cy="281.8" r="3.9" fill="#2b4b9b"/>
<circle cx="117.3" cy="280.8" r="3.9" fill="#8a2a8b"/>
<circle cx="100.1" cy="287.4" r="3.6" fill="#b83f98" stroke="#243a6e" stroke-width="0.75"/>
<circle cx="127.7" cy="287.1" r="3.6" fill="#2fa8df" stroke="#243a6e" stroke-width="0.75"/>
<circle cx="115.3" cy="293.7" r="3.9" fill="#ab1b3b"/>
<circle cx="227.0" cy="290.4" r="3.9" fill="#8a2a8b"/>
<circle cx="231.3" cy="289.4" r="3.9" fill="#2b4b9b"/>
<circle cx="217.6" cy="294.2" r="3.9" fill="#2fa8df"/>
<circle cx="212.6" cy="297.0" r="3.9" fill="#2b4b9b"/>
<circle cx="217.9" cy="303.8" r="3.9" fill="#2b4b9b"/>
<circle cx="249.5" cy="310.4" r="3.6" fill="#2fa8df" stroke="#243a6e" stroke-width="0.75"/>
<circle cx="88.0" cy="313.1" r="3.6" fill="#b83f98" stroke="#243a6e" stroke-width="0.75"/>
<circle cx="105.9" cy="308.1" r="3.9" fill="#2b4b9b"/>
<circle cx="112.5" cy="309.1" r="3.9" fill="#5eb246"/>
<circle cx="122.6" cy="309.4" r="3.6" fill="#8fd3ae" stroke="#243a6e" stroke-width="0.75"/>
<circle cx="129.7" cy="305.6" r="3.9" fill="#8fd3ae"/>
<circle cx="135.3" cy="302.3" r="3.6" fill="#2fa8df" stroke="#243a6e" stroke-width="0.75"/>
<circle cx="115.8" cy="316.4" r="3.9" fill="#8fd3ae"/>
<circle cx="249.0" cy="320.5" r="3.9" fill="#dc2328"/>
<circle cx="223.2" cy="317.7" r="3.9" fill="#dc2328"/>
<circle cx="233.3" cy="316.7" r="3.9" fill="#ab1b3b"/>
<circle cx="236.0" cy="317.2" r="3.9" fill="#e9aed6"/>
<circle cx="226.5" cy="314.4" r="3.9" fill="#2fa8df"/>
<circle cx="212.5" cy="276.5" r="3.9" fill="#b7d98b"/>
<circle cx="205.0" cy="282.0" r="3.9" fill="#e9aed6"/>
<circle cx="205.0" cy="282.0" r="2.5" fill="#f58423"/>
<circle cx="200.0" cy="277.0" r="3.6" fill="#86bce3" stroke="#243a6e" stroke-width="0.75"/>
<circle cx="195.0" cy="276.0" r="3.6" fill="#2b4b9b" stroke="#243a6e" stroke-width="0.75"/>
<circle cx="195.0" cy="276.0" r="2.5" fill="#86bce3"/>
<circle cx="219.0" cy="282.5" r="3.6" fill="#8fd3ae" stroke="#243a6e" stroke-width="0.75"/>
<circle cx="204.0" cy="273.0" r="3.9" fill="#f58423"/>
<circle cx="210.0" cy="299.0" r="3.6" fill="#2b4b9b" stroke="#243a6e" stroke-width="0.75"/>
<circle cx="131.5" cy="319.0" r="3.9" fill="#2b4b9b"/>
<circle cx="127.0" cy="317.0" r="3.9" fill="#2b4b9b"/>
<circle cx="128.5" cy="316.5" r="3.9" fill="#f58423"/>
<circle cx="206.0" cy="312.0" r="3.9" fill="#b7d98b"/>
<circle cx="211.0" cy="314.0" r="3.9" fill="#e9aed6"/>
<circle cx="216.5" cy="316.5" r="3.6" fill="#8fd3ae" stroke="#243a6e" stroke-width="0.75"/>
<circle cx="211.0" cy="318.0" r="3.9" fill="#ab1b3b"/>
<circle cx="170.0" cy="253.0" r="3.9" fill="#b8d636"/>
<circle cx="168.0" cy="253.0" r="2.5" fill="#f6e22b"/>
<circle cx="175.0" cy="253.0" r="3.9" fill="#e9aed6"/>
<circle cx="180.0" cy="254.0" r="3.9" fill="#e9aed6"/>
<circle cx="183.0" cy="254.5" r="3.9" fill="#2b4b9b"/>
<circle cx="149.0" cy="252.0" r="3.6" fill="#2b4b9b" stroke="#243a6e" stroke-width="0.75"/>
<circle cx="149.0" cy="252.0" r="2.5" fill="#f9c52b"/>
<circle cx="155.0" cy="256.0" r="3.9" fill="#86bce3"/>
<rect x="65.2" y="57.8" width="209.4" height="265.9" fill="none" stroke="#3c3c3c" stroke-width="0.9"/>
<line x1="86.1" y1="323.7" x2="86.1" y2="321.5" stroke="#3c3c3c" stroke-width="0.7"/>
<line x1="86.1" y1="57.8" x2="86.1" y2="60.0" stroke="#3c3c3c" stroke-width="0.7"/>
<text x="86.1" y="338.7" font-size="10.4" fill="#4c4c4c" text-anchor="middle">-100</text>
<line x1="128.0" y1="323.7" x2="128.0" y2="321.5" stroke="#3c3c3c" stroke-width="0.7"/>
<line x1="128.0" y1="57.8" x2="128.0" y2="60.0" stroke="#3c3c3c" stroke-width="0.7"/>
<text x="128.0" y="338.7" font-size="10.4" fill="#4c4c4c" text-anchor="middle">0</text>
<line x1="169.9" y1="323.7" x2="169.9" y2="321.5" stroke="#3c3c3c" stroke-width="0.7"/>
<line x1="169.9" y1="57.8" x2="169.9" y2="60.0" stroke="#3c3c3c" stroke-width="0.7"/>
<text x="169.9" y="338.7" font-size="10.4" fill="#4c4c4c" text-anchor="middle">100</text>
<line x1="211.8" y1="323.7" x2="211.8" y2="321.5" stroke="#3c3c3c" stroke-width="0.7"/>
<line x1="211.8" y1="57.8" x2="211.8" y2="60.0" stroke="#3c3c3c" stroke-width="0.7"/>
<text x="211.8" y="338.7" font-size="10.4" fill="#4c4c4c" text-anchor="middle">200</text>
<line x1="253.7" y1="323.7" x2="253.7" y2="321.5" stroke="#3c3c3c" stroke-width="0.7"/>
<line x1="253.7" y1="57.8" x2="253.7" y2="60.0" stroke="#3c3c3c" stroke-width="0.7"/>
<text x="253.7" y="338.7" font-size="10.4" fill="#4c4c4c" text-anchor="middle">300</text>
<line x1="65.2" y1="323.7" x2="67.4" y2="323.7" stroke="#3c3c3c" stroke-width="0.7"/>
<line x1="274.6" y1="323.7" x2="272.40000000000003" y2="323.7" stroke="#3c3c3c" stroke-width="0.7"/>
<text x="61.2" y="327.4" font-size="10.4" fill="#4c4c4c" text-anchor="end">0</text>
<line x1="65.2" y1="297.1" x2="67.4" y2="297.1" stroke="#3c3c3c" stroke-width="0.7"/>
<line x1="274.6" y1="297.1" x2="272.40000000000003" y2="297.1" stroke="#3c3c3c" stroke-width="0.7"/>
<text x="61.2" y="300.8" font-size="10.4" fill="#4c4c4c" text-anchor="end">200</text>
<line x1="65.2" y1="270.5" x2="67.4" y2="270.5" stroke="#3c3c3c" stroke-width="0.7"/>
<line x1="274.6" y1="270.5" x2="272.40000000000003" y2="270.5" stroke="#3c3c3c" stroke-width="0.7"/>
<text x="61.2" y="274.2" font-size="10.4" fill="#4c4c4c" text-anchor="end">400</text>
<line x1="65.2" y1="243.9" x2="67.4" y2="243.9" stroke="#3c3c3c" stroke-width="0.7"/>
<line x1="274.6" y1="243.9" x2="272.40000000000003" y2="243.9" stroke="#3c3c3c" stroke-width="0.7"/>
<text x="61.2" y="247.6" font-size="10.4" fill="#4c4c4c" text-anchor="end">600</text>
<line x1="65.2" y1="217.3" x2="67.4" y2="217.3" stroke="#3c3c3c" stroke-width="0.7"/>
<line x1="274.6" y1="217.3" x2="272.40000000000003" y2="217.3" stroke="#3c3c3c" stroke-width="0.7"/>
<text x="61.2" y="221.0" font-size="10.4" fill="#4c4c4c" text-anchor="end">800</text>
<line x1="65.2" y1="190.8" x2="67.4" y2="190.8" stroke="#3c3c3c" stroke-width="0.7"/>
<line x1="274.6" y1="190.8" x2="272.40000000000003" y2="190.8" stroke="#3c3c3c" stroke-width="0.7"/>
<text x="61.2" y="194.4" font-size="10.4" fill="#4c4c4c" text-anchor="end">1000</text>
<line x1="65.2" y1="164.2" x2="67.4" y2="164.2" stroke="#3c3c3c" stroke-width="0.7"/>
<line x1="274.6" y1="164.2" x2="272.40000000000003" y2="164.2" stroke="#3c3c3c" stroke-width="0.7"/>
<text x="61.2" y="167.9" font-size="10.4" fill="#4c4c4c" text-anchor="end">1200</text>
<line x1="65.2" y1="137.6" x2="67.4" y2="137.6" stroke="#3c3c3c" stroke-width="0.7"/>
<line x1="274.6" y1="137.6" x2="272.40000000000003" y2="137.6" stroke="#3c3c3c" stroke-width="0.7"/>
<text x="61.2" y="141.3" font-size="10.4" fill="#4c4c4c" text-anchor="end">1400</text>
<line x1="65.2" y1="111.0" x2="67.4" y2="111.0" stroke="#3c3c3c" stroke-width="0.7"/>
<line x1="274.6" y1="111.0" x2="272.40000000000003" y2="111.0" stroke="#3c3c3c" stroke-width="0.7"/>
<text x="61.2" y="114.7" font-size="10.4" fill="#4c4c4c" text-anchor="end">1600</text>
<line x1="65.2" y1="84.4" x2="67.4" y2="84.4" stroke="#3c3c3c" stroke-width="0.7"/>
<line x1="274.6" y1="84.4" x2="272.40000000000003" y2="84.4" stroke="#3c3c3c" stroke-width="0.7"/>
<text x="61.2" y="88.1" font-size="10.4" fill="#4c4c4c" text-anchor="end">1800</text>
<line x1="65.2" y1="57.8" x2="67.4" y2="57.8" stroke="#3c3c3c" stroke-width="0.7"/>
<line x1="274.6" y1="57.8" x2="272.40000000000003" y2="57.8" stroke="#3c3c3c" stroke-width="0.7"/>
<text x="61.2" y="61.5" font-size="10.4" fill="#4c4c4c" text-anchor="end">2000</text>
<text x="169.9" y="354.5" font-size="11.4" fill="#4c4c4c" text-anchor="middle">time, <tspan font-style="italic" dx="1">μ</tspan><tspan dx="1">s</tspan></text>
<text transform="translate(30.6,191.5) rotate(-90)" font-size="11.4" fill="#4c4c4c" text-anchor="middle">energy, channel #</text>
<line x1="361.1" y1="57.6" x2="361.1" y2="323.7" stroke="#e2e2e2" stroke-width="0.8"/>
<line x1="403.1" y1="57.6" x2="403.1" y2="323.7" stroke="#e2e2e2" stroke-width="0.8"/>
<line x1="445.1" y1="57.6" x2="445.1" y2="323.7" stroke="#e2e2e2" stroke-width="0.8"/>
<line x1="487.0" y1="57.6" x2="487.0" y2="323.7" stroke="#e2e2e2" stroke-width="0.8"/>
<line x1="529.0" y1="57.6" x2="529.0" y2="323.7" stroke="#e2e2e2" stroke-width="0.8"/>
<line x1="340.1" y1="279.4" x2="550.0" y2="279.4" stroke="#e2e2e2" stroke-width="0.8"/>
<line x1="340.1" y1="235.0" x2="550.0" y2="235.0" stroke="#e2e2e2" stroke-width="0.8"/>
<line x1="340.1" y1="190.7" x2="550.0" y2="190.7" stroke="#e2e2e2" stroke-width="0.8"/>
<line x1="340.1" y1="146.3" x2="550.0" y2="146.3" stroke="#e2e2e2" stroke-width="0.8"/>
<line x1="340.1" y1="102.0" x2="550.0" y2="102.0" stroke="#e2e2e2" stroke-width="0.8"/>
<rect x="340.10" y="314.83" width="4.35" height="8.87" fill="#423a87"/>
<rect x="361.09" y="314.83" width="4.35" height="8.87" fill="#423a87"/>
<rect x="373.68" y="314.83" width="4.35" height="8.87" fill="#423a87"/>
<rect x="377.88" y="297.09" width="4.35" height="26.61" fill="#423a87"/>
<rect x="386.28" y="314.83" width="4.35" height="8.87" fill="#423a87"/>
<rect x="390.48" y="279.35" width="4.35" height="44.35" fill="#423a87"/>
<rect x="394.67" y="305.96" width="4.35" height="17.74" fill="#423a87"/>
<rect x="398.87" y="305.96" width="4.35" height="17.74" fill="#423a87"/>
<rect x="403.07" y="279.35" width="4.35" height="44.35" fill="#423a87"/>
<rect x="407.27" y="297.09" width="4.35" height="26.61" fill="#423a87"/>
<rect x="411.47" y="217.26" width="4.35" height="106.44" fill="#423a87"/>
<rect x="415.66" y="217.26" width="4.35" height="106.44" fill="#423a87"/>
<rect x="419.86" y="217.26" width="4.35" height="106.44" fill="#423a87"/>
<rect x="424.06" y="181.78" width="4.35" height="141.92" fill="#423a87"/>
<rect x="428.26" y="164.04" width="4.35" height="159.66" fill="#423a87"/>
<rect x="432.46" y="199.52" width="4.35" height="124.18" fill="#423a87"/>
<rect x="436.65" y="190.65" width="4.35" height="133.05" fill="#423a87"/>
<rect x="440.85" y="93.08" width="4.35" height="230.62" fill="#423a87"/>
<rect x="445.05" y="172.91" width="4.35" height="150.79" fill="#423a87"/>
<rect x="449.25" y="146.30" width="4.35" height="177.40" fill="#423a87"/>
<rect x="453.45" y="164.04" width="4.35" height="159.66" fill="#423a87"/>
<rect x="457.64" y="128.56" width="4.35" height="195.14" fill="#423a87"/>
<rect x="461.84" y="208.39" width="4.35" height="115.31" fill="#423a87"/>
<rect x="466.04" y="235.00" width="4.35" height="88.70" fill="#423a87"/>
<rect x="470.24" y="217.26" width="4.35" height="106.44" fill="#423a87"/>
<rect x="474.44" y="190.65" width="4.35" height="133.05" fill="#423a87"/>
<rect x="478.63" y="226.13" width="4.35" height="97.57" fill="#423a87"/>
<rect x="482.83" y="261.61" width="4.35" height="62.09" fill="#423a87"/>
<rect x="487.03" y="270.48" width="4.35" height="53.22" fill="#423a87"/>
<rect x="491.23" y="261.61" width="4.35" height="62.09" fill="#423a87"/>
<rect x="495.43" y="314.83" width="4.35" height="8.87" fill="#423a87"/>
<rect x="499.62" y="305.96" width="4.35" height="17.74" fill="#423a87"/>
<rect x="503.82" y="314.83" width="4.35" height="8.87" fill="#423a87"/>
<rect x="508.02" y="297.09" width="4.35" height="26.61" fill="#423a87"/>
<rect x="524.81" y="305.96" width="4.35" height="17.74" fill="#423a87"/>
<rect x="533.21" y="314.83" width="4.35" height="8.87" fill="#423a87"/>
<line x1="415.66" y1="223.3" x2="415.66" y2="315.7" stroke="#5a55a8" stroke-width="0.5" stroke-dasharray="9 3"/>
<line x1="419.86" y1="223.3" x2="419.86" y2="315.7" stroke="#5a55a8" stroke-width="0.5" stroke-dasharray="9 3"/>
<line x1="424.06" y1="223.3" x2="424.06" y2="315.7" stroke="#5a55a8" stroke-width="0.5" stroke-dasharray="9 3"/>
<line x1="428.26" y1="187.8" x2="428.26" y2="315.7" stroke="#5a55a8" stroke-width="0.5" stroke-dasharray="9 3"/>
<line x1="432.46" y1="205.5" x2="432.46" y2="315.7" stroke="#5a55a8" stroke-width="0.5" stroke-dasharray="9 3"/>
<line x1="436.65" y1="205.5" x2="436.65" y2="315.7" stroke="#5a55a8" stroke-width="0.5" stroke-dasharray="9 3"/>
<line x1="440.85" y1="196.7" x2="440.85" y2="315.7" stroke="#5a55a8" stroke-width="0.5" stroke-dasharray="9 3"/>
<line x1="445.05" y1="178.9" x2="445.05" y2="315.7" stroke="#5a55a8" stroke-width="0.5" stroke-dasharray="9 3"/>
<line x1="449.25" y1="178.9" x2="449.25" y2="315.7" stroke="#5a55a8" stroke-width="0.5" stroke-dasharray="9 3"/>
<line x1="453.45" y1="170.0" x2="453.45" y2="315.7" stroke="#5a55a8" stroke-width="0.5" stroke-dasharray="9 3"/>
<line x1="457.64" y1="170.0" x2="457.64" y2="315.7" stroke="#5a55a8" stroke-width="0.5" stroke-dasharray="9 3"/>
<line x1="461.84" y1="214.4" x2="461.84" y2="315.7" stroke="#5a55a8" stroke-width="0.5" stroke-dasharray="9 3"/>
<line x1="466.04" y1="241.0" x2="466.04" y2="315.7" stroke="#5a55a8" stroke-width="0.5" stroke-dasharray="9 3"/>
<line x1="470.24" y1="241.0" x2="470.24" y2="315.7" stroke="#5a55a8" stroke-width="0.5" stroke-dasharray="9 3"/>
<line x1="474.44" y1="223.3" x2="474.44" y2="315.7" stroke="#5a55a8" stroke-width="0.5" stroke-dasharray="9 3"/>
<line x1="478.63" y1="232.1" x2="478.63" y2="315.7" stroke="#5a55a8" stroke-width="0.5" stroke-dasharray="9 3"/>
<line x1="482.83" y1="267.6" x2="482.83" y2="315.7" stroke="#5a55a8" stroke-width="0.5" stroke-dasharray="9 3"/>
<line x1="487.03" y1="276.5" x2="487.03" y2="315.7" stroke="#5a55a8" stroke-width="0.5" stroke-dasharray="9 3"/>
<line x1="491.23" y1="276.5" x2="491.23" y2="315.7" stroke="#5a55a8" stroke-width="0.5" stroke-dasharray="9 3"/>
<rect x="340.1" y="57.6" width="209.9" height="266.1" fill="none" stroke="#3c3c3c" stroke-width="0.9"/>
<line x1="361.1" y1="57.6" x2="361.1" y2="59.800000000000004" stroke="#3c3c3c" stroke-width="0.7"/>
<text x="361.1" y="338.7" font-size="10.4" fill="#4c4c4c" text-anchor="middle">-100</text>
<line x1="403.1" y1="57.6" x2="403.1" y2="59.800000000000004" stroke="#3c3c3c" stroke-width="0.7"/>
<text x="403.1" y="338.7" font-size="10.4" fill="#4c4c4c" text-anchor="middle">0</text>
<line x1="445.1" y1="57.6" x2="445.1" y2="59.800000000000004" stroke="#3c3c3c" stroke-width="0.7"/>
<text x="445.1" y="338.7" font-size="10.4" fill="#4c4c4c" text-anchor="middle">100</text>
<line x1="487.0" y1="57.6" x2="487.0" y2="59.800000000000004" stroke="#3c3c3c" stroke-width="0.7"/>
<text x="487.0" y="338.7" font-size="10.4" fill="#4c4c4c" text-anchor="middle">200</text>
<line x1="529.0" y1="57.6" x2="529.0" y2="59.800000000000004" stroke="#3c3c3c" stroke-width="0.7"/>
<text x="529.0" y="338.7" font-size="10.4" fill="#4c4c4c" text-anchor="middle">300</text>
<line x1="340.1" y1="323.7" x2="342.3" y2="323.7" stroke="#3c3c3c" stroke-width="0.7"/>
<line x1="550.0" y1="323.7" x2="547.8" y2="323.7" stroke="#3c3c3c" stroke-width="0.7"/>
<text x="336.1" y="327.4" font-size="10.4" fill="#4c4c4c" text-anchor="end">0</text>
<line x1="340.1" y1="279.4" x2="342.3" y2="279.4" stroke="#3c3c3c" stroke-width="0.7"/>
<line x1="550.0" y1="279.4" x2="547.8" y2="279.4" stroke="#3c3c3c" stroke-width="0.7"/>
<text x="336.1" y="283.1" font-size="10.4" fill="#4c4c4c" text-anchor="end">5</text>
<line x1="340.1" y1="235.0" x2="342.3" y2="235.0" stroke="#3c3c3c" stroke-width="0.7"/>
<line x1="550.0" y1="235.0" x2="547.8" y2="235.0" stroke="#3c3c3c" stroke-width="0.7"/>
<text x="336.1" y="238.7" font-size="10.4" fill="#4c4c4c" text-anchor="end">10</text>
<line x1="340.1" y1="190.7" x2="342.3" y2="190.7" stroke="#3c3c3c" stroke-width="0.7"/>
<line x1="550.0" y1="190.7" x2="547.8" y2="190.7" stroke="#3c3c3c" stroke-width="0.7"/>
<text x="336.1" y="194.3" font-size="10.4" fill="#4c4c4c" text-anchor="end">15</text>
<line x1="340.1" y1="146.3" x2="342.3" y2="146.3" stroke="#3c3c3c" stroke-width="0.7"/>
<line x1="550.0" y1="146.3" x2="547.8" y2="146.3" stroke="#3c3c3c" stroke-width="0.7"/>
<text x="336.1" y="150.0" font-size="10.4" fill="#4c4c4c" text-anchor="end">20</text>
<line x1="340.1" y1="102.0" x2="342.3" y2="102.0" stroke="#3c3c3c" stroke-width="0.7"/>
<line x1="550.0" y1="102.0" x2="547.8" y2="102.0" stroke="#3c3c3c" stroke-width="0.7"/>
<text x="336.1" y="105.7" font-size="10.4" fill="#4c4c4c" text-anchor="end">25</text>
<line x1="340.1" y1="57.6" x2="342.3" y2="57.6" stroke="#3c3c3c" stroke-width="0.7"/>
<line x1="550.0" y1="57.6" x2="547.8" y2="57.6" stroke="#3c3c3c" stroke-width="0.7"/>
<text x="336.1" y="61.3" font-size="10.4" fill="#4c4c4c" text-anchor="end">30</text>
<text x="445.1" y="354.5" font-size="11.4" fill="#4c4c4c" text-anchor="middle">time, <tspan font-style="italic" dx="1">μ</tspan><tspan dx="1">s</tspan></text>
<text transform="translate(319.6,190.8) rotate(-90)" font-size="11.4" fill="#4c4c4c" text-anchor="middle">counts in 10 <tspan font-style="italic" dx="1.5">μ</tspan><tspan dx="1.5">s</tspan></text>
</g>
<g id="panelB">
<defs>
<radialGradient id="gb"><stop offset="0" stop-color="#fff" stop-opacity="1"/><stop offset="0.18" stop-color="#fff" stop-opacity="0.9"/><stop offset="0.35" stop-color="#fff" stop-opacity="0.68"/><stop offset="0.5" stop-color="#fff" stop-opacity="0.44"/><stop offset="0.65" stop-color="#fff" stop-opacity="0.24"/><stop offset="0.8" stop-color="#fff" stop-opacity="0.09"/><stop offset="1" stop-color="#fff" stop-opacity="0"/></radialGradient>
<radialGradient id="gp"><stop offset="0" stop-color="#fff" stop-opacity="1"/><stop offset="0.35" stop-color="#fff" stop-opacity="0.95"/><stop offset="0.55" stop-color="#fff" stop-opacity="0.75"/><stop offset="0.7" stop-color="#fff" stop-opacity="0.45"/><stop offset="0.85" stop-color="#fff" stop-opacity="0.18"/><stop offset="1" stop-color="#fff" stop-opacity="0"/></radialGradient>
<radialGradient id="gq"><stop offset="0" stop-color="#fff" stop-opacity="1"/><stop offset="0.55" stop-color="#fff" stop-opacity="0.96"/><stop offset="0.7" stop-color="#fff" stop-opacity="0.78"/><stop offset="0.8" stop-color="#fff" stop-opacity="0.5"/><stop offset="0.9" stop-color="#fff" stop-opacity="0.2"/><stop offset="1" stop-color="#fff" stop-opacity="0"/></radialGradient>
<radialGradient id="gc"><stop offset="0" stop-color="#fff" stop-opacity="1"/><stop offset="0.2" stop-color="#fff" stop-opacity="0.985"/><stop offset="0.3" stop-color="#fff" stop-opacity="0.9"/><stop offset="0.4" stop-color="#fff" stop-opacity="0.74"/><stop offset="0.55" stop-color="#fff" stop-opacity="0.57"/><stop offset="0.72" stop-color="#fff" stop-opacity="0.4"/><stop offset="0.82" stop-color="#fff" stop-opacity="0.27"/><stop offset="0.92" stop-color="#fff" stop-opacity="0.13"/><stop offset="1" stop-color="#fff" stop-opacity="0"/></radialGradient>
<filter id="cm" x="0" y="0" width="1" height="1" filterUnits="objectBoundingBox" color-interpolation-filters="sRGB">
<feGaussianBlur stdDeviation="0.8"/>
<feComponentTransfer><feFuncR type="table" tableValues="0.000 0.000 0.000 0.000 0.000 0.070 0.205 0.340 0.350 0.354 0.359 0.364 0.369 0.374 0.376 0.375 0.375 0.374 0.373 0.369 0.363 0.358 0.352 0.346 0.336 0.325 0.313 0.302 0.290 0.279 0.268 0.257 0.246 0.235 0.224 0.214 0.204 0.194 0.184 0.175 0.165 0.156 0.152 0.147 0.143 0.139 0.134 0.130 0.125 0.125 0.125 0.125 0.125 0.125 0.125 0.125 0.125 0.129 0.133 0.137 0.141 0.145 0.149 0.153 0.157 0.169 0.180 0.192 0.204 0.216 0.227 0.239 0.251 0.274 0.296 0.319 0.341 0.364 0.386 0.409 0.431 0.458 0.485 0.512 0.539 0.566 0.593 0.620 0.647 0.670 0.693 0.716 0.739 0.762 0.785 0.808 0.831 0.838 0.845 0.852 0.859 0.866 0.873 0.879 0.886 0.886 0.886 0.886 0.886 0.886 0.886 0.886 0.886 0.884 0.882 0.880 0.878 0.876 0.875 0.873 0.871 0.872 0.873 0.874 0.875 0.875 0.876 0.877 0.878 0.881 0.884 0.887 0.890 0.893 0.896 0.899 0.902 0.906 0.910 0.914 0.918 0.922 0.925 0.929 0.933 0.937 0.941 0.945 0.949 0.953 0.957 0.961 0.965 0.972 0.979 0.987 0.994 1.000 1.000 1.000 1.000"/><feFuncG type="table" tableValues="0.000 0.000 0.000 0.000 0.000 0.070 0.205 0.340 0.350 0.354 0.359 0.364 0.369 0.374 0.376 0.375 0.375 0.374 0.373 0.372 0.370 0.368 0.367 0.365 0.367 0.369 0.372 0.374 0.376 0.384 0.391 0.399 0.406 0.413 0.421 0.432 0.445 0.459 0.472 0.486 0.499 0.512 0.523 0.534 0.545 0.556 0.566 0.577 0.588 0.594 0.600 0.606 0.612 0.618 0.624 0.629 0.635 0.640 0.645 0.650 0.655 0.660 0.665 0.670 0.675 0.678 0.682 0.686 0.690 0.694 0.698 0.702 0.706 0.712 0.718 0.724 0.729 0.735 0.741 0.747 0.753 0.759 0.766 0.772 0.778 0.785 0.791 0.798 0.804 0.805 0.807 0.808 0.810 0.811 0.813 0.814 0.816 0.792 0.769 0.745 0.722 0.698 0.675 0.651 0.627 0.603 0.578 0.554 0.529 0.505 0.480 0.456 0.431 0.409 0.386 0.364 0.341 0.319 0.296 0.274 0.251 0.259 0.267 0.275 0.282 0.290 0.298 0.306 0.314 0.328 0.343 0.358 0.373 0.387 0.402 0.417 0.431 0.458 0.485 0.512 0.539 0.566 0.593 0.620 0.647 0.673 0.699 0.725 0.751 0.777 0.803 0.829 0.855 0.881 0.907 0.933 0.959 0.982 0.988 0.994 1.000"/><feFuncB type="table" tableValues="0.000 0.000 0.000 0.000 0.000 0.073 0.214 0.355 0.368 0.375 0.382 0.389 0.396 0.404 0.412 0.422 0.431 0.441 0.451 0.462 0.475 0.487 0.499 0.511 0.524 0.536 0.548 0.560 0.573 0.579 0.585 0.591 0.597 0.603 0.609 0.613 0.616 0.618 0.621 0.623 0.625 0.625 0.614 0.603 0.593 0.582 0.571 0.560 0.549 0.534 0.520 0.505 0.490 0.475 0.461 0.446 0.431 0.417 0.402 0.387 0.373 0.358 0.343 0.328 0.314 0.306 0.298 0.290 0.282 0.275 0.267 0.259 0.251 0.249 0.247 0.245 0.243 0.241 0.239 0.237 0.235 0.230 0.225 0.221 0.216 0.211 0.206 0.201 0.196 0.193 0.190 0.187 0.184 0.181 0.178 0.175 0.173 0.173 0.173 0.173 0.173 0.173 0.173 0.173 0.173 0.176 0.180 0.184 0.188 0.192 0.196 0.200 0.204 0.210 0.216 0.222 0.227 0.233 0.239 0.245 0.251 0.283 0.316 0.348 0.380 0.413 0.445 0.477 0.510 0.532 0.554 0.576 0.598 0.620 0.642 0.664 0.686 0.704 0.723 0.741 0.759 0.777 0.795 0.813 0.831 0.844 0.856 0.868 0.880 0.893 0.905 0.917 0.929 0.942 0.956 0.969 0.982 0.993 0.995 0.998 1.000"/></feComponentTransfer>
<feGaussianBlur stdDeviation="0.55"/>
</filter>
<clipPath id="clipB"><rect x="618.2" y="55.0" width="318.7" height="318.6"/></clipPath>
<linearGradient id="cbg" x1="0" y1="1" x2="0" y2="0">
<stop offset="0.000" stop-color="rgb(0,0,0)"/>
<stop offset="0.008" stop-color="rgb(0,0,0)"/>
<stop offset="0.012" stop-color="rgb(52,52,54)"/>
<stop offset="0.050" stop-color="rgb(74,74,80)"/>
<stop offset="0.085" stop-color="rgb(96,96,104)"/>
<stop offset="0.115" stop-color="rgb(95,95,116)"/>
<stop offset="0.145" stop-color="rgb(88,93,131)"/>
<stop offset="0.175" stop-color="rgb(74,96,146)"/>
<stop offset="0.215" stop-color="rgb(56,108,156)"/>
<stop offset="0.255" stop-color="rgb(40,130,160)"/>
<stop offset="0.300" stop-color="rgb(32,150,140)"/>
<stop offset="0.350" stop-color="rgb(32,162,110)"/>
<stop offset="0.400" stop-color="rgb(40,172,80)"/>
<stop offset="0.450" stop-color="rgb(64,180,64)"/>
<stop offset="0.500" stop-color="rgb(110,192,60)"/>
<stop offset="0.550" stop-color="rgb(165,205,50)"/>
<stop offset="0.600" stop-color="rgb(212,208,44)"/>
<stop offset="0.650" stop-color="rgb(226,160,44)"/>
<stop offset="0.700" stop-color="rgb(226,110,52)"/>
<stop offset="0.750" stop-color="rgb(222,64,64)"/>
<stop offset="0.800" stop-color="rgb(224,80,130)"/>
<stop offset="0.850" stop-color="rgb(230,110,175)"/>
<stop offset="0.900" stop-color="rgb(238,165,212)"/>
<stop offset="0.950" stop-color="rgb(246,218,237)"/>
<stop offset="0.980" stop-color="rgb(255,250,253)"/>
<stop offset="1.000" stop-color="rgb(255,255,255)"/>
</linearGradient></defs>
<g clip-path="url(#clipB)"><g filter="url(#cm)"><rect x="618.2" y="55.0" width="318.7" height="318.6" fill="#000"/>
<ellipse cx="710.5" cy="203.5" rx="25.6" ry="26.4" fill="url(#gq)" fill-opacity="0.37" transform="rotate(0 710.5 203.5)"/>
<ellipse cx="707.5" cy="180" rx="14.4" ry="32.0" fill="url(#gp)" fill-opacity="0.36" transform="rotate(-8 707.5 180)"/>
<ellipse cx="710.7" cy="202.3" rx="13.6" ry="14.2" fill="url(#gc)" fill-opacity="1.0" transform="rotate(0 710.7 202.3)"/>
<ellipse cx="711" cy="196" rx="41.6" ry="64.0" fill="url(#gb)" fill-opacity="0.131" transform="rotate(-5 711 196)"/>
<ellipse cx="698" cy="140" rx="33.3" ry="77.7" fill="url(#gb)" fill-opacity="0.08" transform="rotate(0 698 140)"/>
<ellipse cx="740" cy="185" rx="20.4" ry="24.1" fill="url(#gb)" fill-opacity="0.085" transform="rotate(0 740 185)"/>
<ellipse cx="724" cy="214" rx="27.8" ry="31.5" fill="url(#gb)" fill-opacity="0.08" transform="rotate(0 724 214)"/>
<ellipse cx="697" cy="212" rx="14.8" ry="25.9" fill="url(#gb)" fill-opacity="0.06" transform="rotate(0 697 212)"/>
<ellipse cx="785" cy="218" rx="31.5" ry="24.1" fill="url(#gb)" fill-opacity="0.085" transform="rotate(-20 785 218)"/>
<ellipse cx="767" cy="155" rx="16.7" ry="24.1" fill="url(#gb)" fill-opacity="0.075" transform="rotate(-10 767 155)"/>
<ellipse cx="699" cy="113" rx="37.0" ry="25.9" fill="url(#gb)" fill-opacity="0.1" transform="rotate(0 699 113)"/>
<ellipse cx="686" cy="104" rx="16.7" ry="13.0" fill="url(#gb)" fill-opacity="0.06" transform="rotate(0 686 104)"/>
<ellipse cx="735" cy="119" rx="51.8" ry="38.9" fill="url(#gb)" fill-opacity="0.075" transform="rotate(0 735 119)"/>
<ellipse cx="758.6" cy="127" rx="44.4" ry="27.8" fill="url(#gb)" fill-opacity="0.095" transform="rotate(0 758.6 127)"/>
<ellipse cx="776" cy="140" rx="24.1" ry="31.5" fill="url(#gb)" fill-opacity="0.075" transform="rotate(0 776 140)"/>
<ellipse cx="745" cy="105" rx="55.5" ry="18.5" fill="url(#gb)" fill-opacity="0.055" transform="rotate(-5 745 105)"/>
<ellipse cx="762.3" cy="186.3" rx="12.8" ry="32.0" fill="url(#gb)" fill-opacity="0.4" transform="rotate(-27 762.3 186.3)"/>
<ellipse cx="763" cy="187" rx="27.2" ry="49.6" fill="url(#gb)" fill-opacity="0.156" transform="rotate(-25 763 187)"/>
<ellipse cx="780" cy="214" rx="20.8" ry="27.2" fill="url(#gb)" fill-opacity="0.115" transform="rotate(-20 780 214)"/>
<ellipse cx="789" cy="224" rx="16.7" ry="14.8" fill="url(#gb)" fill-opacity="0.1" transform="rotate(0 789 224)"/>
<ellipse cx="790" cy="99" rx="33.3" ry="20.4" fill="url(#gb)" fill-opacity="0.075" transform="rotate(0 790 99)"/>
<ellipse cx="818" cy="94" rx="35.1" ry="24.1" fill="url(#gb)" fill-opacity="0.08" transform="rotate(0 818 94)"/>
<ellipse cx="846" cy="102" rx="35.1" ry="25.9" fill="url(#gb)" fill-opacity="0.09" transform="rotate(0 846 102)"/>
<ellipse cx="850" cy="112" rx="16.7" ry="13.0" fill="url(#gb)" fill-opacity="0.07" transform="rotate(0 850 112)"/>
<ellipse cx="864" cy="98" rx="13.0" ry="9.2" fill="url(#gb)" fill-opacity="0.07" transform="rotate(-20 864 98)"/>
<ellipse cx="874.2" cy="140.1" rx="14.8" ry="14.8" fill="url(#gb)" fill-opacity="0.085" transform="rotate(0 874.2 140.1)"/>
<ellipse cx="891" cy="109" rx="4.8" ry="31.5" fill="url(#gb)" fill-opacity="0.1" transform="rotate(-38 891 109)"/>
<ellipse cx="903" cy="138" rx="13.9" ry="38.9" fill="url(#gb)" fill-opacity="0.105" transform="rotate(-10 903 138)"/>
<ellipse cx="911" cy="172" rx="19.2" ry="41.6" fill="url(#gb)" fill-opacity="0.115" transform="rotate(-8 911 172)"/>
<ellipse cx="917" cy="180" rx="7.2" ry="20.8" fill="url(#gb)" fill-opacity="0.18" transform="rotate(-5 917 180)"/>
<ellipse cx="920.4" cy="207" rx="8.0" ry="20.8" fill="url(#gb)" fill-opacity="0.5" transform="rotate(0 920.4 207)"/>
<ellipse cx="919" cy="203" rx="18.4" ry="48.0" fill="url(#gb)" fill-opacity="0.156" transform="rotate(-3 919 203)"/>
<ellipse cx="921" cy="236" rx="12.8" ry="32.0" fill="url(#gb)" fill-opacity="0.115" transform="rotate(3 921 236)"/>
<ellipse cx="917.7" cy="261" rx="7.2" ry="19.2" fill="url(#gb)" fill-opacity="0.18" transform="rotate(5 917.7 261)"/>
<ellipse cx="913" cy="262" rx="20.8" ry="35.2" fill="url(#gb)" fill-opacity="0.107" transform="rotate(8 913 262)"/>
<ellipse cx="904" cy="280" rx="16.7" ry="24.1" fill="url(#gb)" fill-opacity="0.09" transform="rotate(15 904 280)"/>
<ellipse cx="898.5" cy="305" rx="4.8" ry="38.9" fill="url(#gb)" fill-opacity="0.1" transform="rotate(24 898.5 305)"/>
<ellipse cx="855.7" cy="201.1" rx="22.4" ry="17.6" fill="url(#gb)" fill-opacity="0.131" transform="rotate(0 855.7 201.1)"/>
<ellipse cx="852" cy="206" rx="51.8" ry="37.0" fill="url(#gb)" fill-opacity="0.1" transform="rotate(0 852 206)"/>
<ellipse cx="868" cy="221" rx="46.2" ry="16.7" fill="url(#gb)" fill-opacity="0.085" transform="rotate(5 868 221)"/>
<ellipse cx="824" cy="240" rx="38.9" ry="15.7" fill="url(#gb)" fill-opacity="0.1" transform="rotate(-18 824 240)"/>
<ellipse cx="857.5" cy="237.2" rx="5.6" ry="6.5" fill="url(#gb)" fill-opacity="0.075" transform="rotate(0 857.5 237.2)"/>
<ellipse cx="634" cy="213" rx="12.8" ry="22.4" fill="url(#gb)" fill-opacity="0.164" transform="rotate(25 634 213)"/>
<ellipse cx="641" cy="211" rx="38.9" ry="38.9" fill="url(#gb)" fill-opacity="0.11" transform="rotate(0 641 211)"/>
<ellipse cx="663" cy="215" rx="24.1" ry="25.9" fill="url(#gb)" fill-opacity="0.115" transform="rotate(0 663 215)"/>
<ellipse cx="643" cy="237" rx="18.5" ry="20.4" fill="url(#gb)" fill-opacity="0.085" transform="rotate(0 643 237)"/>
<ellipse cx="654" cy="118.8" rx="9.2" ry="4.1" fill="url(#gb)" fill-opacity="0.07" transform="rotate(-40 654 118.8)"/>
<ellipse cx="668.9" cy="268.6" rx="8.0" ry="14.8" fill="url(#gb)" fill-opacity="0.08" transform="rotate(8 668.9 268.6)"/>
<ellipse cx="719.5" cy="269" rx="15.7" ry="35.1" fill="url(#gb)" fill-opacity="0.09" transform="rotate(-38 719.5 269)"/>
<ellipse cx="647" cy="298" rx="11.1" ry="48.1" fill="url(#gb)" fill-opacity="0.105" transform="rotate(-33 647 298)"/>
<ellipse cx="654" cy="308" rx="7.4" ry="14.8" fill="url(#gb)" fill-opacity="0.06" transform="rotate(-33 654 308)"/>
<ellipse cx="684" cy="305" rx="24.1" ry="18.5" fill="url(#gb)" fill-opacity="0.085" transform="rotate(35 684 305)"/>
<ellipse cx="701" cy="320" rx="35.1" ry="27.8" fill="url(#gb)" fill-opacity="0.09" transform="rotate(30 701 320)"/>
<ellipse cx="722" cy="329" rx="31.5" ry="22.2" fill="url(#gb)" fill-opacity="0.075" transform="rotate(0 722 329)"/>
<ellipse cx="745" cy="332" rx="35.1" ry="29.6" fill="url(#gb)" fill-opacity="0.085" transform="rotate(0 745 332)"/>
<ellipse cx="766" cy="329" rx="16.0" ry="12.0" fill="url(#gb)" fill-opacity="0.34" transform="rotate(-10 766 329)"/>
<ellipse cx="774" cy="326" rx="44.8" ry="32.0" fill="url(#gb)" fill-opacity="0.156" transform="rotate(-10 774 326)"/>
<ellipse cx="796.5" cy="310" rx="19.2" ry="14.4" fill="url(#gb)" fill-opacity="0.172" transform="rotate(-15 796.5 310)"/>
<ellipse cx="806" cy="312" rx="55.5" ry="35.1" fill="url(#gb)" fill-opacity="0.11" transform="rotate(-8 806 312)"/>
<ellipse cx="847.5" cy="316" rx="16.7" ry="16.7" fill="url(#gb)" fill-opacity="0.09" transform="rotate(0 847.5 316)"/>
<ellipse cx="832" cy="318" rx="14.8" ry="9.2" fill="url(#gb)" fill-opacity="0.07" transform="rotate(0 832 318)"/>
<ellipse cx="711" cy="349" rx="12.0" ry="35.1" fill="url(#gb)" fill-opacity="0.102" transform="rotate(-38 711 349)"/>
<ellipse cx="717" cy="357" rx="7.4" ry="13.0" fill="url(#gb)" fill-opacity="0.08" transform="rotate(-38 717 357)"/>
<ellipse cx="770" cy="350" rx="19.2" ry="35.2" fill="url(#gb)" fill-opacity="0.107" transform="rotate(5 770 350)"/>
<ellipse cx="762.3" cy="371.5" rx="11.2" ry="8.0" fill="url(#gb)" fill-opacity="0.36" transform="rotate(0 762.3 371.5)"/>
<ellipse cx="788" cy="348" rx="20.4" ry="27.8" fill="url(#gb)" fill-opacity="0.09" transform="rotate(0 788 348)"/>
<ellipse cx="800" cy="356" rx="18.5" ry="11.1" fill="url(#gb)" fill-opacity="0.085" transform="rotate(0 800 356)"/>
<ellipse cx="863" cy="343.6" rx="6.1" ry="4.8" fill="url(#gb)" fill-opacity="0.075" transform="rotate(-30 863 343.6)"/>
</g></g>
<path d="M621.10 55.0v4.6M621.10 373.6v-4.6M618.2 60.80h4.6M936.9 60.80h-4.6M628.20 55.0v2.6M628.20 373.6v-2.6M618.2 67.86h2.6M936.9 67.86h-2.6M635.30 55.0v4.6M635.30 373.6v-4.6M618.2 74.92h4.6M936.9 74.92h-4.6M642.40 55.0v2.6M642.40 373.6v-2.6M618.2 81.98h2.6M936.9 81.98h-2.6M649.50 55.0v4.6M649.50 373.6v-4.6M618.2 89.04h4.6M936.9 89.04h-4.6M656.60 55.0v2.6M656.60 373.6v-2.6M618.2 96.10h2.6M936.9 96.10h-2.6M663.70 55.0v4.6M663.70 373.6v-4.6M618.2 103.16h4.6M936.9 103.16h-4.6M670.80 55.0v2.6M670.80 373.6v-2.6M618.2 110.22h2.6M936.9 110.22h-2.6M677.90 55.0v4.6M677.90 373.6v-4.6M618.2 117.28h4.6M936.9 117.28h-4.6M685.00 55.0v2.6M685.00 373.6v-2.6M618.2 124.34h2.6M936.9 124.34h-2.6M692.10 55.0v4.6M692.10 373.6v-4.6M618.2 131.40h4.6M936.9 131.40h-4.6M699.20 55.0v2.6M699.20 373.6v-2.6M618.2 138.46h2.6M936.9 138.46h-2.6M706.30 55.0v4.6M706.30 373.6v-4.6M618.2 145.52h4.6M936.9 145.52h-4.6M713.40 55.0v2.6M713.40 373.6v-2.6M618.2 152.58h2.6M936.9 152.58h-2.6M720.50 55.0v4.6M720.50 373.6v-4.6M618.2 159.64h4.6M936.9 159.64h-4.6M727.60 55.0v2.6M727.60 373.6v-2.6M618.2 166.70h2.6M936.9 166.70h-2.6M734.70 55.0v4.6M734.70 373.6v-4.6M618.2 173.76h4.6M936.9 173.76h-4.6M741.80 55.0v2.6M741.80 373.6v-2.6M618.2 180.82h2.6M936.9 180.82h-2.6M748.90 55.0v4.6M748.90 373.6v-4.6M618.2 187.88h4.6M936.9 187.88h-4.6M756.00 55.0v2.6M756.00 373.6v-2.6M618.2 194.94h2.6M936.9 194.94h-2.6M763.10 55.0v4.6M763.10 373.6v-4.6M618.2 202.00h4.6M936.9 202.00h-4.6M770.20 55.0v2.6M770.20 373.6v-2.6M618.2 209.06h2.6M936.9 209.06h-2.6M777.30 55.0v4.6M777.30 373.6v-4.6M618.2 216.12h4.6M936.9 216.12h-4.6M784.40 55.0v2.6M784.40 373.6v-2.6M618.2 223.18h2.6M936.9 223.18h-2.6M791.50 55.0v4.6M791.50 373.6v-4.6M618.2 230.24h4.6M936.9 230.24h-4.6M798.60 55.0v2.6M798.60 373.6v-2.6M618.2 237.30h2.6M936.9 237.30h-2.6M805.70 55.0v4.6M805.70 373.6v-4.6M618.2 244.36h4.6M936.9 244.36h-4.6M812.80 55.0v2.6M812.80 373.6v-2.6M618.2 251.42h2.6M936.9 251.42h-2.6M819.90 55.0v4.6M819.90 373.6v-4.6M618.2 258.48h4.6M936.9 258.48h-4.6M827.00 55.0v2.6M827.00 373.6v-2.6M618.2 265.54h2.6M936.9 265.54h-2.6M834.10 55.0v4.6M834.10 373.6v-4.6M618.2 272.60h4.6M936.9 272.60h-4.6M841.20 55.0v2.6M841.20 373.6v-2.6M618.2 279.66h2.6M936.9 279.66h-2.6M848.30 55.0v4.6M848.30 373.6v-4.6M618.2 286.72h4.6M936.9 286.72h-4.6M855.40 55.0v2.6M855.40 373.6v-2.6M618.2 293.78h2.6M936.9 293.78h-2.6M862.50 55.0v4.6M862.50 373.6v-4.6M618.2 300.84h4.6M936.9 300.84h-4.6M869.60 55.0v2.6M869.60 373.6v-2.6M618.2 307.90h2.6M936.9 307.90h-2.6M876.70 55.0v4.6M876.70 373.6v-4.6M618.2 314.96h4.6M936.9 314.96h-4.6M883.80 55.0v2.6M883.80 373.6v-2.6M618.2 322.02h2.6M936.9 322.02h-2.6M890.90 55.0v4.6M890.90 373.6v-4.6M618.2 329.08h4.6M936.9 329.08h-4.6M898.00 55.0v2.6M898.00 373.6v-2.6M618.2 336.14h2.6M936.9 336.14h-2.6M905.10 55.0v4.6M905.10 373.6v-4.6M618.2 343.20h4.6M936.9 343.20h-4.6M912.20 55.0v2.6M912.20 373.6v-2.6M618.2 350.26h2.6M936.9 350.26h-2.6M919.30 55.0v4.6M919.30 373.6v-4.6M618.2 357.32h4.6M936.9 357.32h-4.6M926.40 55.0v2.6M926.40 373.6v-2.6M618.2 364.38h2.6M936.9 364.38h-2.6M933.50 55.0v4.6M933.50 373.6v-4.6M618.2 371.44h4.6M936.9 371.44h-4.6" stroke="#ccd8c6" stroke-width="0.55" fill="none" opacity="0.9"/>
<text x="621.1" y="384.4" font-size="8.5" fill="#111" stroke="#111" stroke-width="0.15" text-anchor="middle">-44</text>
<text x="614.6" y="63.7" font-size="8.5" fill="#111" stroke="#111" stroke-width="0.15" text-anchor="end">-44</text>
<text x="635.3" y="384.4" font-size="8.5" fill="#111" stroke="#111" stroke-width="0.15" text-anchor="middle">-40</text>
<text x="614.6" y="77.8" font-size="8.5" fill="#111" stroke="#111" stroke-width="0.15" text-anchor="end">-40</text>
<text x="649.5" y="384.4" font-size="8.5" fill="#111" stroke="#111" stroke-width="0.15" text-anchor="middle">-36</text>
<text x="614.6" y="91.9" font-size="8.5" fill="#111" stroke="#111" stroke-width="0.15" text-anchor="end">-36</text>
<text x="663.7" y="384.4" font-size="8.5" fill="#111" stroke="#111" stroke-width="0.15" text-anchor="middle">-32</text>
<text x="614.6" y="106.1" font-size="8.5" fill="#111" stroke="#111" stroke-width="0.15" text-anchor="end">-32</text>
<text x="677.9" y="384.4" font-size="8.5" fill="#111" stroke="#111" stroke-width="0.15" text-anchor="middle">-28</text>
<text x="614.6" y="120.2" font-size="8.5" fill="#111" stroke="#111" stroke-width="0.15" text-anchor="end">-28</text>
<text x="692.1" y="384.4" font-size="8.5" fill="#111" stroke="#111" stroke-width="0.15" text-anchor="middle">-24</text>
<text x="614.6" y="134.3" font-size="8.5" fill="#111" stroke="#111" stroke-width="0.15" text-anchor="end">-24</text>
<text x="706.3" y="384.4" font-size="8.5" fill="#111" stroke="#111" stroke-width="0.15" text-anchor="middle">-20</text>
<text x="614.6" y="148.4" font-size="8.5" fill="#111" stroke="#111" stroke-width="0.15" text-anchor="end">-20</text>
<text x="720.5" y="384.4" font-size="8.5" fill="#111" stroke="#111" stroke-width="0.15" text-anchor="middle">-16</text>
<text x="614.6" y="162.5" font-size="8.5" fill="#111" stroke="#111" stroke-width="0.15" text-anchor="end">-16</text>
<text x="734.7" y="384.4" font-size="8.5" fill="#111" stroke="#111" stroke-width="0.15" text-anchor="middle">-12</text>
<text x="614.6" y="176.7" font-size="8.5" fill="#111" stroke="#111" stroke-width="0.15" text-anchor="end">-12</text>
<text x="748.9" y="384.4" font-size="8.5" fill="#111" stroke="#111" stroke-width="0.15" text-anchor="middle">-8</text>
<text x="614.6" y="190.8" font-size="8.5" fill="#111" stroke="#111" stroke-width="0.15" text-anchor="end">-8</text>
<text x="763.1" y="384.4" font-size="8.5" fill="#111" stroke="#111" stroke-width="0.15" text-anchor="middle">-4</text>
<text x="614.6" y="204.9" font-size="8.5" fill="#111" stroke="#111" stroke-width="0.15" text-anchor="end">-4</text>
<text x="777.3" y="384.4" font-size="8.5" fill="#111" stroke="#111" stroke-width="0.15" text-anchor="middle">0</text>
<text x="614.6" y="219.0" font-size="8.5" fill="#111" stroke="#111" stroke-width="0.15" text-anchor="end">0</text>
<text x="791.5" y="384.4" font-size="8.5" fill="#111" stroke="#111" stroke-width="0.15" text-anchor="middle">4</text>
<text x="614.6" y="233.1" font-size="8.5" fill="#111" stroke="#111" stroke-width="0.15" text-anchor="end">4</text>
<text x="805.7" y="384.4" font-size="8.5" fill="#111" stroke="#111" stroke-width="0.15" text-anchor="middle">8</text>
<text x="614.6" y="247.3" font-size="8.5" fill="#111" stroke="#111" stroke-width="0.15" text-anchor="end">8</text>
<text x="819.9" y="384.4" font-size="8.5" fill="#111" stroke="#111" stroke-width="0.15" text-anchor="middle">12</text>
<text x="614.6" y="261.4" font-size="8.5" fill="#111" stroke="#111" stroke-width="0.15" text-anchor="end">12</text>
<text x="834.1" y="384.4" font-size="8.5" fill="#111" stroke="#111" stroke-width="0.15" text-anchor="middle">16</text>
<text x="614.6" y="275.5" font-size="8.5" fill="#111" stroke="#111" stroke-width="0.15" text-anchor="end">16</text>
<text x="848.3" y="384.4" font-size="8.5" fill="#111" stroke="#111" stroke-width="0.15" text-anchor="middle">20</text>
<text x="614.6" y="289.6" font-size="8.5" fill="#111" stroke="#111" stroke-width="0.15" text-anchor="end">20</text>
<text x="862.5" y="384.4" font-size="8.5" fill="#111" stroke="#111" stroke-width="0.15" text-anchor="middle">24</text>
<text x="614.6" y="303.7" font-size="8.5" fill="#111" stroke="#111" stroke-width="0.15" text-anchor="end">24</text>
<text x="876.7" y="384.4" font-size="8.5" fill="#111" stroke="#111" stroke-width="0.15" text-anchor="middle">28</text>
<text x="614.6" y="317.9" font-size="8.5" fill="#111" stroke="#111" stroke-width="0.15" text-anchor="end">28</text>
<text x="890.9" y="384.4" font-size="8.5" fill="#111" stroke="#111" stroke-width="0.15" text-anchor="middle">32</text>
<text x="614.6" y="332.0" font-size="8.5" fill="#111" stroke="#111" stroke-width="0.15" text-anchor="end">32</text>
<text x="905.1" y="384.4" font-size="8.5" fill="#111" stroke="#111" stroke-width="0.15" text-anchor="middle">36</text>
<text x="614.6" y="346.1" font-size="8.5" fill="#111" stroke="#111" stroke-width="0.15" text-anchor="end">36</text>
<text x="919.3" y="384.4" font-size="8.5" fill="#111" stroke="#111" stroke-width="0.15" text-anchor="middle">40</text>
<text x="614.6" y="360.2" font-size="8.5" fill="#111" stroke="#111" stroke-width="0.15" text-anchor="end">40</text>
<text x="933.5" y="384.4" font-size="8.5" fill="#111" stroke="#111" stroke-width="0.15" text-anchor="middle">44</text>
<text x="614.6" y="374.3" font-size="8.5" fill="#111" stroke="#111" stroke-width="0.15" text-anchor="end">44</text>
<text x="777.5" y="394.5" font-size="8.6" fill="#111" text-anchor="middle">X-axis (deg)</text>
<text transform="translate(602.5,214.3) rotate(-90)" font-size="8.6" fill="#111" text-anchor="middle">Y-axis (deg)</text>
<text x="629.6" y="49.6" font-size="10.2" fill="#111" textLength="294.7" lengthAdjust="spacingAndGlyphs">MXGS-162 : DOY-306 : 2018.11.02-05:09:31 : MLIK FOV-image</text>
<rect x="962.2" y="28.5" width="6.2" height="370.1" fill="url(#cbg)"/>
<path d="M962.2 88.5V28.5M968.4 88.5V34.5" stroke="#b8b0bc" stroke-width="0.5" fill="none"/>
<line x1="968.4" y1="364.6" x2="969.9" y2="364.6" stroke="#444" stroke-width="0.5"/>
<text x="971.6" y="366.1" font-size="4.2" fill="#222">0.88</text>
<line x1="968.4" y1="327.3" x2="969.9" y2="327.3" stroke="#444" stroke-width="0.5"/>
<text x="971.6" y="328.8" font-size="4.2" fill="#222">1.8</text>
<line x1="968.4" y1="290.0" x2="969.9" y2="290.0" stroke="#444" stroke-width="0.5"/>
<text x="971.6" y="291.5" font-size="4.2" fill="#222">2.6</text>
<line x1="968.4" y1="252.7" x2="969.9" y2="252.7" stroke="#444" stroke-width="0.5"/>
<text x="971.6" y="254.2" font-size="4.2" fill="#222">3.5</text>
<line x1="968.4" y1="215.4" x2="969.9" y2="215.4" stroke="#444" stroke-width="0.5"/>
<text x="971.6" y="216.9" font-size="4.2" fill="#222">4.4</text>
<line x1="968.4" y1="178.1" x2="969.9" y2="178.1" stroke="#444" stroke-width="0.5"/>
<text x="971.6" y="179.6" font-size="4.2" fill="#222">5.3</text>
<line x1="968.4" y1="140.8" x2="969.9" y2="140.8" stroke="#444" stroke-width="0.5"/>
<text x="971.6" y="142.3" font-size="4.2" fill="#222">6.1</text>
<line x1="968.4" y1="103.5" x2="969.9" y2="103.5" stroke="#444" stroke-width="0.5"/>
<text x="971.6" y="105.0" font-size="4.2" fill="#222">7.0</text>
<line x1="968.4" y1="66.2" x2="969.9" y2="66.2" stroke="#444" stroke-width="0.5"/>
<text x="971.6" y="67.7" font-size="4.2" fill="#222">7.9</text>
</g>
<g id="panelC">
<defs><clipPath id="clipC"><rect x="150.5" y="480.8" width="310.7" height="310.1"/></clipPath></defs>
<g clip-path="url(#clipC)">
<text x="244" y="540.8" font-size="22.6" fill="#1a1a1a" textLength="106.8" lengthAdjust="spacingAndGlyphs">Venezuela</text>
<text x="287.3" y="749.8" font-size="22.6" fill="#1a1a1a" textLength="55.4" lengthAdjust="spacingAndGlyphs">Brazil</text>
<line x1="154.25" y1="635.85" x2="457.25" y2="635.85" stroke="#c2c2c6" stroke-width="1.1"/>
<line x1="305.75" y1="484.35" x2="305.75" y2="787.35" stroke="#8c8c96" stroke-width="1.15"/>
<circle cx="305.75" cy="635.85" r="45.4" fill="none" stroke="#626262" stroke-width="0.9"/>
<circle cx="305.75" cy="635.85" r="67.8" fill="none" stroke="#626262" stroke-width="0.9"/>
<circle cx="305.75" cy="635.85" r="97.8" fill="none" stroke="#626262" stroke-width="0.9"/>
<circle cx="305.75" cy="635.85" r="151.5" fill="none" stroke="#626262" stroke-width="0.9"/>
<line x1="305.8" y1="635.9" x2="396.6" y2="514.6" stroke="#6a6a6a" stroke-width="0.7"/>
<path d="M167.3 480.8L166.4 483.5L163.0 488.5L156.6 496.2L154.2 501.1L158.6 508.9L161.5 514.7L163.0 517.6L168.3 518.1L173.2 515.7L177.1 511.8L178.3 504.0L174.1 497.2L170.3 491.4L168.3 486.5L167.6 480.8" fill="none" stroke="#454545" stroke-width="0.95" stroke-linejoin="round"/>
<path d="M236.8 480.8L238.0 483.0L242.0 485.6L252.4 485.0L264.8 484.6L275.2 484.1L283.6 485.0L289.8 490.8L298.1 495.0L300.0 496.0L309.6 495.6L313.6 492.8L320.8 488.8L324.1 484.8L330.5 482.4L338.5 483.2L348.1 484.8L352.9 487.2L351.3 491.2L353.7 492.8L357.7 490.4L359.3 493.6L364.1 498.5L365.7 503.3L369.0 505.7L368.2 500.1L370.6 497.6L375.4 501.7L377.0 505.7L378.6 501.7L383.4 502.5L387.4 505.7L391.4 508.1L396.2 510.5L398.6 514.5L396.2 516.1L393.0 517.7L392.2 522.5L389.8 526.5L387.4 530.5L381.8 528.6L387.4 528.1L392.2 528.9L394.6 524.1L399.4 523.3L401.8 527.3L397.8 528.1" fill="none" stroke="#454545" stroke-width="0.95" stroke-linejoin="round"/>
<path d="M351.5 488.0L352.5 492.5L356.5 493.0L357.0 488.8L353.0 487.0" fill="none" stroke="#454545" stroke-width="0.95" stroke-linejoin="round"/>
<path d="M398.6 514.5L402.6 518.5L409.0 524.1L415.5 529.7L418.7 532.1L423.5 533.7L428.3 537.7L434.7 540.1L439.5 545.0L444.3 549.8L447.5 554.6L448.3 561.0L446.7 567.4L445.1 573.8L444.3 576.2" fill="none" stroke="#454545" stroke-width="0.95" stroke-linejoin="round"/>
<path d="M448.3 563.4L453.9 565.0L461.2 568.4" fill="none" stroke="#454545" stroke-width="0.95" stroke-linejoin="round"/>
<path d="M373.0 480.8L383.4 482.4L383.4 492.0L373.8 496.0" fill="none" stroke="#454545" stroke-width="0.95" stroke-linejoin="round"/>
<path d="M392.2 480.8L393.0 495.2L383.4 496.0" fill="none" stroke="#454545" stroke-width="0.95" stroke-linejoin="round"/>
<path d="M324.0 486.5L330.0 485.2L340.0 484.2L350.0 482.8L362.0 482.4L372.0 481.5" fill="none" stroke="#454545" stroke-width="0.95" stroke-linejoin="round"/>
<path d="M150.8 518.9L160.8 518.3" fill="none" stroke="#454545" stroke-width="0.95" stroke-linejoin="round"/>
<path d="M150.8 561.1L160.0 561.8L171.2 561.6L181.6 560.5L187.9 561.6L195.1 562.6L200.3 567.8L206.6 575.1L212.8 581.3L216.0 583.2L218.0 582.4L223.2 579.2L233.6 579.2L244.0 578.2L248.2 577.2L253.4 578.2L255.5 583.4L252.4 590.7L248.2 596.9L247.2 605.2L246.1 613.6L248.2 621.9L252.4 630.2L256.5 636.5L259.6 639.6L256.5 644.8L252.4 647.0L247.2 651.2L253.4 655.4L259.6 661.6L261.7 669.9L264.8 681.4L269.0 688.7L275.2 692.8L283.6 697.0L289.8 694.9L294.0 692.8L298.1 698.0L304.4 692.8L306.5 688.7L312.5 685.5L320.8 682.4L320.8 679.3L327.0 676.2L333.3 669.9L341.6 664.7L343.7 661.6L334.3 660.6L329.1 659.5L327.5 653.0L326.0 647.0L325.0 636.6L322.9 632.5L318.0 627.5L312.5 622.9" fill="none" stroke="#454545" stroke-width="1.25" stroke-linejoin="round"/>
<path d="M258.6 667.9L252.4 669.9L246.1 674.1L242.0 671.0L237.8 675.1L204.5 675.1L203.5 689.7L213.9 690.7L218.0 694.9L217.0 699.1L208.7 698.7L199.3 700.1L198.3 709.5L200.3 717.8L206.6 726.1L211.8 734.4L212.8 740.7L210.7 753.2L207.6 769.8L204.2 790.9" fill="none" stroke="#454545" stroke-width="1.25" stroke-linejoin="round"/>
<path d="M150.8 763.6L155.0 761.0L160.8 759.4L164.0 761.5L167.0 762.5L172.0 761.0L177.5 760.4L183.7 763.6L189.9 766.7L199.3 770.8L193.0 781.0L187.0 790.9" fill="none" stroke="#454545" stroke-width="0.95" stroke-linejoin="round"/>
<path d="M312.5 622.9L315.6 625.0L320.8 624.0L327.0 628.1L333.3 627.1L339.5 629.2L344.7 628.1L349.9 630.2L352.0 636.5L355.1 634.4L356.2 628.1L362.4 624.0L368.7 625.0L377.0 621.9L383.2 617.7L391.6 613.6L397.8 611.5L402.0 607.3" fill="none" stroke="#454545" stroke-width="0.95" stroke-linejoin="round"/>
<path d="M312.5 622.9L311.5 620.8L313.2 619.8L314.6 621.5L312.5 622.9" fill="none" stroke="#454545" stroke-width="0.95" stroke-linejoin="round"/>
<path d="M410.6 528.1L415.5 530.5L418.7 535.3L412.2 539.3L407.4 543.3L402.6 545.0L401.0 551.4L402.6 556.2L409.0 559.4L404.2 564.2L396.2 567.4L390.6 570.6L389.0 575.4L389.8 580.0L386.4 583.4L391.6 590.7L395.7 596.9L399.9 603.2L402.0 607.3L406.0 602.0L410.3 601.1L414.4 605.2L416.5 613.6L420.7 619.8L424.8 627.1L422.8 634.4L418.6 640.7L414.4 651.2L419.6 661.6L422.8 672.0L429.0 678.3L437.3 684.5L441.5 686.6L447.7 682.4L451.9 679.3L461.2 680.3" fill="none" stroke="#454545" stroke-width="0.95" stroke-linejoin="round"/>
<path d="M461.2 619.0L458.3 628.3L461.2 635.5" fill="none" stroke="#454545" stroke-width="0.95" stroke-linejoin="round"/>
<circle cx="280.0" cy="653.8" r="0.85" fill="#4a3f9e"/>
<circle cx="284.7" cy="651.9" r="0.85" fill="#4a3f9e"/>
<circle cx="279.8" cy="652.9" r="0.85" fill="#4a3f9e"/>
<circle cx="283.6" cy="655.3" r="0.85" fill="#4a3f9e"/>
<circle cx="280.0" cy="650.3" r="0.85" fill="#4a3f9e"/>
<circle cx="284.1" cy="654.0" r="0.85" fill="#4a3f9e"/>
<circle cx="285.8" cy="655.1" r="0.85" fill="#4a3f9e"/>
<circle cx="282.4" cy="652.4" r="0.85" fill="#4a3f9e"/>
<circle cx="288.0" cy="652.4" r="0.85" fill="#4a3f9e"/>
<circle cx="281.0" cy="650.6" r="0.85" fill="#4a3f9e"/>
<circle cx="282.8" cy="653.3" r="0.85" fill="#4a3f9e"/>
<circle cx="281.9" cy="652.9" r="0.85" fill="#4a3f9e"/>
<circle cx="283.2" cy="654.5" r="0.85" fill="#4a3f9e"/>
<circle cx="284.9" cy="653.4" r="0.85" fill="#4a3f9e"/>
<circle cx="278.8" cy="654.5" r="0.85" fill="#4a3f9e"/>
<circle cx="279.6" cy="652.6" r="0.85" fill="#4a3f9e"/>
<circle cx="279.5" cy="653.0" r="0.85" fill="#4a3f9e"/>
<circle cx="281.0" cy="653.4" r="0.85" fill="#4a3f9e"/>
<circle cx="289.5" cy="652.9" r="0.85" fill="#4a3f9e"/>
<circle cx="284.4" cy="650.2" r="0.85" fill="#4a3f9e"/>
<circle cx="282.0" cy="654.4" r="0.85" fill="#4a3f9e"/>
<circle cx="282.4" cy="653.8" r="0.85" fill="#4a3f9e"/>
<circle cx="282.8" cy="650.9" r="0.85" fill="#4a3f9e"/>
<circle cx="283.8" cy="651.3" r="0.85" fill="#4a3f9e"/>
<circle cx="286.5" cy="651.9" r="0.85" fill="#4a3f9e"/>
<circle cx="284.0" cy="653.0" r="0.85" fill="#4a3f9e"/>
<circle cx="284.6" cy="651.7" r="0.85" fill="#4a3f9e"/>
<circle cx="284.7" cy="652.7" r="0.85" fill="#4a3f9e"/>
<circle cx="285.3" cy="654.3" r="0.85" fill="#4a3f9e"/>
<circle cx="282.9" cy="651.4" r="0.85" fill="#4a3f9e"/>
<circle cx="284.2" cy="654.0" r="0.85" fill="#4a3f9e"/>
<circle cx="286.0" cy="652.2" r="0.85" fill="#4a3f9e"/>
<circle cx="283.8" cy="654.1" r="0.85" fill="#4a3f9e"/>
<circle cx="283.2" cy="653.4" r="0.85" fill="#4a3f9e"/>
<circle cx="283.0" cy="651.7" r="0.85" fill="#4a3f9e"/>
<circle cx="280.5" cy="652.2" r="0.85" fill="#4a3f9e"/>
<circle cx="283.8" cy="656.2" r="0.85" fill="#4a3f9e"/>
<circle cx="284.7" cy="655.2" r="0.85" fill="#4a3f9e"/>
<circle cx="284.2" cy="654.5" r="0.85" fill="#4a3f9e"/>
<circle cx="283.0" cy="654.6" r="0.85" fill="#4a3f9e"/>
<circle cx="286.3" cy="652.3" r="0.85" fill="#4a3f9e"/>
<circle cx="281.1" cy="657.1" r="0.85" fill="#4a3f9e"/>
<circle cx="283.1" cy="655.0" r="0.85" fill="#4a3f9e"/>
<circle cx="284.4" cy="650.6" r="0.85" fill="#4a3f9e"/>
<circle cx="287.7" cy="656.7" r="0.85" fill="#4a3f9e"/>
<circle cx="283.0" cy="654.6" r="0.85" fill="#4a3f9e"/>
<circle cx="282.9" cy="651.1" r="0.85" fill="#4a3f9e"/>
<circle cx="282.4" cy="653.8" r="0.85" fill="#4a3f9e"/>
<circle cx="284.9" cy="654.5" r="0.85" fill="#4a3f9e"/>
<circle cx="282.7" cy="655.8" r="0.85" fill="#4a3f9e"/>
<circle cx="281.0" cy="654.7" r="0.85" fill="#4a3f9e"/>
<circle cx="284.9" cy="652.4" r="0.85" fill="#4a3f9e"/>
<circle cx="278.8" cy="651.1" r="0.85" fill="#4a3f9e"/>
<circle cx="283.1" cy="654.1" r="0.85" fill="#4a3f9e"/>
<circle cx="285.9" cy="650.9" r="0.85" fill="#4a3f9e"/>
<circle cx="286.3" cy="656.4" r="0.8" fill="#c8503c"/>
<circle cx="286.0" cy="650.9" r="0.8" fill="#c8503c"/>
<circle cx="287.6" cy="659.4" r="0.8" fill="#c8503c"/>
<circle cx="287.9" cy="653.5" r="0.8" fill="#c8503c"/>
<circle cx="285.6" cy="655.6" r="0.8" fill="#c8503c"/>
<circle cx="290.3" cy="656.3" r="0.8" fill="#c8503c"/>
<circle cx="286.5" cy="658.0" r="0.8" fill="#c8503c"/>
<circle cx="286.2" cy="658.6" r="0.8" fill="#c8503c"/>
<circle cx="285.2" cy="654.3" r="0.8" fill="#c8503c"/>
<circle cx="287.5" cy="657.8" r="0.8" fill="#c8503c"/>
<circle cx="287.3" cy="655.7" r="0.8" fill="#c8503c"/>
<circle cx="283.4" cy="653.9" r="0.8" fill="#c8503c"/>
<circle cx="285.3" cy="654.2" r="0.8" fill="#c8503c"/>
<circle cx="287.2" cy="654.6" r="0.8" fill="#c8503c"/>
<circle cx="287.6" cy="655.3" r="0.8" fill="#c8503c"/>
<circle cx="285.8" cy="655.4" r="0.8" fill="#c8503c"/>
<circle cx="287.0" cy="656.7" r="0.8" fill="#c8503c"/>
<circle cx="285.5" cy="654.8" r="0.8" fill="#c8503c"/>
<circle cx="284.1" cy="658.1" r="0.8" fill="#c8503c"/>
<circle cx="288.6" cy="654.9" r="0.8" fill="#c8503c"/>
<circle cx="286.6" cy="651.7" r="0.8" fill="#d98a3a"/>
<circle cx="287.4" cy="653.4" r="0.8" fill="#d98a3a"/>
<circle cx="289.8" cy="653.5" r="0.8" fill="#d98a3a"/>
<circle cx="286.3" cy="650.3" r="0.8" fill="#d98a3a"/>
<circle cx="288.9" cy="653.4" r="0.8" fill="#d98a3a"/>
<circle cx="285.3" cy="653.4" r="0.8" fill="#d98a3a"/>
<circle cx="285.3" cy="657.4" r="0.8" fill="#d98a3a"/>
<circle cx="288.5" cy="653.9" r="0.8" fill="#d98a3a"/>
<circle cx="283.9" cy="643.0" r="0.55" fill="#c8503c"/>
<circle cx="284.1" cy="645.1" r="0.55" fill="#c8503c"/>
<circle cx="286.6" cy="643.0" r="0.55" fill="#c8503c"/>
<circle cx="281.3" cy="654.8" r="0.55" fill="#c8503c"/>
<circle cx="290.3" cy="646.4" r="0.55" fill="#c8503c"/>
<circle cx="286.6" cy="657.4" r="1.9" fill="#4fb04a"/>
<circle cx="172.1" cy="743.6" r="0.9" fill="#4646a8"/>
<circle cx="177.8" cy="738.0" r="0.9" fill="#4646a8"/>
<circle cx="174.1" cy="738.9" r="0.9" fill="#4646a8"/>
<circle cx="172.9" cy="739.0" r="0.9" fill="#4646a8"/>
<circle cx="178.8" cy="743.1" r="0.9" fill="#4646a8"/>
<circle cx="180.7" cy="740.7" r="0.9" fill="#4646a8"/>
<circle cx="175.5" cy="738.1" r="0.9" fill="#4646a8"/>
<circle cx="175.5" cy="737.1" r="0.9" fill="#4646a8"/>
<circle cx="171.5" cy="743.1" r="0.9" fill="#4646a8"/>
<circle cx="179.3" cy="743.5" r="0.9" fill="#4646a8"/>
<circle cx="179.0" cy="741.8" r="0.9" fill="#4646a8"/>
<circle cx="174.1" cy="741.3" r="0.9" fill="#4646a8"/>
<circle cx="174.9" cy="737.7" r="0.9" fill="#4646a8"/>
<circle cx="171.7" cy="736.6" r="0.9" fill="#4646a8"/>
<circle cx="175.8" cy="741.5" r="0.9" fill="#4646a8"/>
<circle cx="174.7" cy="745.3" r="0.9" fill="#4646a8"/>
<circle cx="176.2" cy="742.7" r="0.9" fill="#4646a8"/>
<circle cx="178.7" cy="738.5" r="0.9" fill="#4646a8"/>
<circle cx="171.1" cy="743.3" r="0.9" fill="#4646a8"/>
<circle cx="174.1" cy="744.9" r="0.9" fill="#4646a8"/>
<circle cx="176.6" cy="744.0" r="0.9" fill="#4646a8"/>
<circle cx="177.6" cy="734.8" r="0.9" fill="#4646a8"/>
<circle cx="177.5" cy="739.0" r="0.9" fill="#4646a8"/>
<circle cx="174.0" cy="739.7" r="0.9" fill="#4646a8"/>
<circle cx="177.6" cy="743.7" r="0.9" fill="#4646a8"/>
<circle cx="178.2" cy="736.0" r="0.9" fill="#4646a8"/>
<circle cx="174.4" cy="733.9" r="0.9" fill="#4646a8"/>
<circle cx="175.6" cy="742.8" r="0.9" fill="#4646a8"/>
<circle cx="174.0" cy="741.7" r="0.9" fill="#4646a8"/>
<circle cx="176.4" cy="744.0" r="0.9" fill="#4646a8"/>
<circle cx="173.8" cy="738.5" r="0.9" fill="#4646a8"/>
<circle cx="174.0" cy="746.3" r="0.9" fill="#4646a8"/>
<circle cx="178.4" cy="740.6" r="0.9" fill="#4646a8"/>
<circle cx="176.3" cy="741.3" r="0.9" fill="#4646a8"/>
<circle cx="176.3" cy="740.4" r="0.9" fill="#4646a8"/>
<circle cx="175.0" cy="737.2" r="0.9" fill="#4646a8"/>
<circle cx="174.3" cy="746.0" r="0.9" fill="#4646a8"/>
<circle cx="177.1" cy="741.2" r="0.9" fill="#4646a8"/>
<circle cx="175.3" cy="741.2" r="0.9" fill="#4646a8"/>
<circle cx="176.6" cy="739.1" r="0.9" fill="#4646a8"/>
<circle cx="176.3" cy="741.7" r="0.9" fill="#4646a8"/>
<circle cx="174.0" cy="738.6" r="0.9" fill="#4646a8"/>
<circle cx="173.4" cy="737.8" r="0.9" fill="#4646a8"/>
<circle cx="177.9" cy="733.9" r="0.9" fill="#4646a8"/>
<circle cx="175.2" cy="739.2" r="0.9" fill="#4646a8"/>
<circle cx="174.3" cy="741.3" r="0.9" fill="#4646a8"/>
<circle cx="178.5" cy="741.2" r="0.9" fill="#4646a8"/>
<circle cx="175.5" cy="739.2" r="0.9" fill="#4646a8"/>
<circle cx="175.5" cy="743.7" r="0.9" fill="#4646a8"/>
<circle cx="174.9" cy="737.6" r="0.9" fill="#4646a8"/>
<circle cx="172.8" cy="737.7" r="0.9" fill="#4646a8"/>
<circle cx="172.5" cy="744.3" r="0.9" fill="#4646a8"/>
<circle cx="176.7" cy="740.3" r="0.9" fill="#4646a8"/>
<circle cx="179.3" cy="739.0" r="0.9" fill="#4646a8"/>
<circle cx="177.6" cy="743.4" r="0.9" fill="#4646a8"/>
<circle cx="172.1" cy="736.3" r="0.9" fill="#4646a8"/>
<circle cx="173.6" cy="743.7" r="0.9" fill="#4646a8"/>
<circle cx="178.9" cy="737.3" r="0.9" fill="#4646a8"/>
<circle cx="178.3" cy="739.9" r="0.9" fill="#4646a8"/>
<circle cx="174.9" cy="739.3" r="0.9" fill="#4646a8"/>
<circle cx="181.1" cy="735.4" r="0.9" fill="#c8503c"/>
<circle cx="179.6" cy="736.8" r="0.9" fill="#c8503c"/>
<circle cx="182.9" cy="744.8" r="0.9" fill="#c8503c"/>
<circle cx="187.8" cy="739.0" r="0.9" fill="#c8503c"/>
<circle cx="178.0" cy="738.8" r="0.9" fill="#c8503c"/>
<circle cx="179.7" cy="744.6" r="0.9" fill="#c8503c"/>
<circle cx="183.1" cy="738.1" r="0.9" fill="#c8503c"/>
<circle cx="183.9" cy="741.1" r="0.9" fill="#c8503c"/>
<circle cx="178.2" cy="738.5" r="0.9" fill="#c8503c"/>
<circle cx="181.3" cy="739.8" r="0.9" fill="#c8503c"/>
<circle cx="182.1" cy="739.0" r="0.9" fill="#c8503c"/>
<circle cx="182.2" cy="738.4" r="0.9" fill="#c8503c"/>
<circle cx="179.8" cy="743.4" r="0.9" fill="#c8503c"/>
<circle cx="182.6" cy="740.9" r="0.9" fill="#c8503c"/>
<circle cx="178.3" cy="739.4" r="0.9" fill="#c8503c"/>
<circle cx="183.6" cy="736.7" r="0.9" fill="#c8503c"/>
<circle cx="184.2" cy="738.9" r="0.9" fill="#c8503c"/>
<circle cx="182.7" cy="739.5" r="0.9" fill="#c8503c"/>
<circle cx="182.3" cy="742.7" r="0.9" fill="#c8503c"/>
<circle cx="180.9" cy="743.6" r="0.9" fill="#c8503c"/>
<circle cx="180.1" cy="737.6" r="0.9" fill="#c8503c"/>
<circle cx="183.4" cy="737.2" r="0.9" fill="#c8503c"/>
<circle cx="181.0" cy="742.0" r="0.9" fill="#c8503c"/>
<circle cx="184.5" cy="735.5" r="0.9" fill="#c8503c"/>
<circle cx="182.9" cy="744.3" r="0.9" fill="#c8503c"/>
<circle cx="184.4" cy="739.2" r="0.9" fill="#c8503c"/>
<circle cx="180.5" cy="739.1" r="0.9" fill="#c8503c"/>
<circle cx="179.3" cy="739.2" r="0.9" fill="#c8503c"/>
<circle cx="181.4" cy="739.5" r="0.9" fill="#c8503c"/>
<circle cx="184.4" cy="739.2" r="0.9" fill="#c8503c"/>
<circle cx="178.6" cy="742.3" r="0.9" fill="#c8503c"/>
<circle cx="179.4" cy="738.7" r="0.9" fill="#c8503c"/>
<circle cx="181.5" cy="739.0" r="0.9" fill="#c8503c"/>
<circle cx="179.6" cy="739.2" r="0.9" fill="#c8503c"/>
<circle cx="186.6" cy="738.3" r="0.9" fill="#c8503c"/>
<circle cx="181.5" cy="742.5" r="0.9" fill="#c8503c"/>
<circle cx="183.4" cy="741.6" r="0.9" fill="#c8503c"/>
<circle cx="183.7" cy="735.1" r="0.9" fill="#c8503c"/>
<circle cx="179.9" cy="740.1" r="0.9" fill="#c8503c"/>
<circle cx="182.9" cy="742.9" r="0.9" fill="#c8503c"/>
<circle cx="182.8" cy="739.2" r="0.9" fill="#c8503c"/>
<circle cx="181.9" cy="739.3" r="0.9" fill="#c8503c"/>
<circle cx="182.3" cy="741.4" r="0.9" fill="#c8503c"/>
<circle cx="181.1" cy="737.8" r="0.9" fill="#c8503c"/>
<circle cx="179.9" cy="742.4" r="0.9" fill="#c8503c"/>
<circle cx="180.9" cy="737.5" r="0.8" fill="#d98a3a"/>
<circle cx="180.3" cy="737.2" r="0.8" fill="#d98a3a"/>
<circle cx="179.0" cy="737.0" r="0.8" fill="#d98a3a"/>
<circle cx="177.4" cy="735.7" r="0.8" fill="#d98a3a"/>
<circle cx="177.9" cy="737.1" r="0.8" fill="#d98a3a"/>
<circle cx="178.1" cy="735.8" r="0.8" fill="#d98a3a"/>
<circle cx="179.6" cy="738.0" r="0.8" fill="#d98a3a"/>
<circle cx="177.8" cy="734.6" r="0.8" fill="#d98a3a"/>
<circle cx="180.2" cy="734.3" r="0.8" fill="#d98a3a"/>
<circle cx="179.7" cy="735.1" r="0.8" fill="#d98a3a"/>
<circle cx="186.4" cy="747.6" r="0.95" fill="#b8405a"/>
<circle cx="188.0" cy="750.2" r="0.95" fill="#b8405a"/>
<circle cx="184.8" cy="755.4" r="0.95" fill="#b8405a"/>
<circle cx="188.0" cy="758.2" r="0.95" fill="#b8405a"/>
<circle cx="187.4" cy="750.5" r="0.95" fill="#b8405a"/>
<circle cx="186.8" cy="754.4" r="0.95" fill="#b8405a"/>
<circle cx="186.5" cy="752.1" r="0.95" fill="#b8405a"/>
<circle cx="187.6" cy="749.4" r="0.95" fill="#b8405a"/>
<circle cx="186.9" cy="750.2" r="0.95" fill="#b8405a"/>
<circle cx="184.1" cy="752.9" r="0.95" fill="#b8405a"/>
<circle cx="187.9" cy="751.3" r="0.95" fill="#b8405a"/>
<circle cx="184.8" cy="747.2" r="0.95" fill="#b8405a"/>
<circle cx="187.6" cy="751.0" r="0.95" fill="#b8405a"/>
<circle cx="183.2" cy="751.1" r="0.95" fill="#b8405a"/>
<circle cx="183.6" cy="751.1" r="0.95" fill="#b8405a"/>
<circle cx="186.9" cy="751.9" r="0.95" fill="#b8405a"/>
<circle cx="187.0" cy="751.5" r="0.95" fill="#b8405a"/>
<circle cx="184.3" cy="750.4" r="0.95" fill="#b8405a"/>
<circle cx="185.6" cy="750.7" r="0.95" fill="#b8405a"/>
<circle cx="187.1" cy="752.4" r="0.95" fill="#b8405a"/>
<circle cx="189.9" cy="746.1" r="0.95" fill="#b8405a"/>
<circle cx="187.4" cy="750.8" r="0.95" fill="#b8405a"/>
<circle cx="191.2" cy="753.1" r="0.95" fill="#b8405a"/>
<circle cx="183.3" cy="752.0" r="0.95" fill="#b8405a"/>
<circle cx="185.6" cy="753.2" r="0.95" fill="#b8405a"/>
<circle cx="184.5" cy="751.0" r="0.95" fill="#b8405a"/>
<circle cx="186.3" cy="751.0" r="0.95" fill="#b8405a"/>
<circle cx="185.4" cy="747.5" r="0.95" fill="#b8405a"/>
<circle cx="187.5" cy="753.2" r="0.95" fill="#b8405a"/>
<circle cx="186.5" cy="749.2" r="0.95" fill="#b8405a"/>
<circle cx="187.0" cy="752.3" r="0.95" fill="#b8405a"/>
<circle cx="186.2" cy="751.2" r="0.95" fill="#b8405a"/>
<circle cx="189.4" cy="749.0" r="0.95" fill="#b8405a"/>
<circle cx="185.5" cy="747.4" r="0.95" fill="#b8405a"/>
<circle cx="185.2" cy="749.7" r="0.95" fill="#b8405a"/>
<circle cx="184.7" cy="749.8" r="0.95" fill="#b8405a"/>
<circle cx="190.2" cy="750.8" r="0.95" fill="#b8405a"/>
<circle cx="186.4" cy="755.6" r="0.95" fill="#b8405a"/>
<circle cx="186.5" cy="747.7" r="0.95" fill="#b8405a"/>
<circle cx="187.4" cy="749.3" r="0.95" fill="#b8405a"/>
<circle cx="189.9" cy="748.7" r="0.95" fill="#b8405a"/>
<circle cx="185.4" cy="748.0" r="0.95" fill="#b8405a"/>
<circle cx="186.8" cy="749.2" r="0.95" fill="#b8405a"/>
<circle cx="186.5" cy="750.4" r="0.95" fill="#b8405a"/>
<circle cx="185.4" cy="753.1" r="0.95" fill="#b8405a"/>
<circle cx="183.6" cy="744.4" r="0.45" fill="#4646a8"/>
<circle cx="172.6" cy="736.5" r="0.45" fill="#4646a8"/>
<circle cx="179.6" cy="760.7" r="0.45" fill="#4646a8"/>
<circle cx="175.3" cy="738.5" r="0.45" fill="#4646a8"/>
<circle cx="173.8" cy="736.3" r="0.45" fill="#4646a8"/>
<circle cx="172.2" cy="742.6" r="0.45" fill="#4646a8"/>
<circle cx="186.6" cy="744.0" r="0.45" fill="#4646a8"/>
<circle cx="174.9" cy="732.7" r="0.45" fill="#4646a8"/>
<circle cx="179.3" cy="743.8" r="0.45" fill="#4646a8"/>
<circle cx="170.6" cy="736.4" r="0.45" fill="#4646a8"/>
<circle cx="171.9" cy="728.5" r="0.5" fill="#4646a8"/>
<circle cx="172.9" cy="727.3" r="0.5" fill="#4646a8"/>
<circle cx="171.5" cy="727.5" r="0.5" fill="#4646a8"/>
<circle cx="172.0" cy="730.3" r="0.5" fill="#4646a8"/>
<circle cx="170.3" cy="726.4" r="0.5" fill="#4646a8"/>
<circle cx="163.5" cy="508.3" r="0.75" fill="#4646a8"/>
<circle cx="163.8" cy="508.6" r="0.75" fill="#4646a8"/>
<circle cx="161.7" cy="508.2" r="0.75" fill="#4646a8"/>
<circle cx="159.3" cy="507.3" r="0.75" fill="#4646a8"/>
<circle cx="165.0" cy="509.6" r="0.75" fill="#4646a8"/>
<circle cx="162.5" cy="510.0" r="0.75" fill="#4646a8"/>
<circle cx="162.4" cy="510.1" r="0.75" fill="#4646a8"/>
<circle cx="161.1" cy="508.4" r="0.75" fill="#4646a8"/>
<circle cx="163.1" cy="508.2" r="0.75" fill="#4646a8"/>
<circle cx="159.4" cy="508.4" r="0.75" fill="#4646a8"/>
<circle cx="160.6" cy="509.6" r="0.75" fill="#4646a8"/>
<circle cx="160.3" cy="507.2" r="0.75" fill="#4646a8"/>
<circle cx="161.0" cy="510.9" r="0.75" fill="#4646a8"/>
<circle cx="161.4" cy="508.9" r="0.75" fill="#4646a8"/>
<circle cx="161.5" cy="509.1" r="0.75" fill="#4646a8"/>
<circle cx="163.0" cy="510.7" r="0.75" fill="#4646a8"/>
<circle cx="158.9" cy="510.6" r="0.75" fill="#4646a8"/>
<circle cx="161.5" cy="508.3" r="0.75" fill="#4646a8"/>
<circle cx="165.3" cy="508.5" r="0.75" fill="#4646a8"/>
<circle cx="164.6" cy="510.1" r="0.75" fill="#4646a8"/>
<circle cx="159.9" cy="509.4" r="0.75" fill="#4646a8"/>
<circle cx="162.7" cy="508.5" r="0.75" fill="#4646a8"/>
<circle cx="157.8" cy="508.2" r="0.75" fill="#4646a8"/>
<circle cx="161.2" cy="507.1" r="0.75" fill="#4646a8"/>
<circle cx="197.2" cy="526.3" r="0.55" fill="#4646a8"/>
<circle cx="187.2" cy="525.9" r="0.55" fill="#4646a8"/>
<circle cx="185.5" cy="522.6" r="0.55" fill="#4646a8"/>
<circle cx="189.4" cy="530.2" r="0.55" fill="#4646a8"/>
<circle cx="186.7" cy="527.4" r="0.55" fill="#4646a8"/>
<circle cx="182.7" cy="531.7" r="0.55" fill="#4646a8"/>
<circle cx="185.6" cy="529.5" r="0.55" fill="#4646a8"/>
<circle cx="184.9" cy="524.4" r="0.55" fill="#4646a8"/>
<circle cx="190.0" cy="519.5" r="0.55" fill="#4646a8"/>
<circle cx="200.1" cy="527.7" r="0.55" fill="#4646a8"/>
<circle cx="188.7" cy="522.9" r="0.55" fill="#4646a8"/>
<circle cx="196.2" cy="537.7" r="0.55" fill="#4646a8"/>
<circle cx="190.3" cy="518.4" r="0.55" fill="#4646a8"/>
<circle cx="186.7" cy="532.3" r="0.55" fill="#4646a8"/>
<circle cx="186.7" cy="519.7" r="0.55" fill="#4646a8"/>
<circle cx="183.7" cy="522.6" r="0.55" fill="#4646a8"/>
<circle cx="158.0" cy="550.7" r="0.7" fill="#d98a3a"/>
<circle cx="158.0" cy="560.3" r="0.7" fill="#d98a3a"/>
<circle cx="161.5" cy="549.6" r="0.7" fill="#d98a3a"/>
<circle cx="158.7" cy="552.7" r="0.7" fill="#d98a3a"/>
<circle cx="157.7" cy="555.4" r="0.7" fill="#d98a3a"/>
<circle cx="157.3" cy="551.6" r="0.7" fill="#d98a3a"/>
<circle cx="157.3" cy="552.2" r="0.7" fill="#d98a3a"/>
<circle cx="160.6" cy="554.7" r="0.7" fill="#d98a3a"/>
<circle cx="155.3" cy="551.3" r="0.7" fill="#d98a3a"/>
<circle cx="156.4" cy="554.8" r="0.7" fill="#d98a3a"/>
<circle cx="158.4" cy="555.0" r="0.7" fill="#d98a3a"/>
<circle cx="157.9" cy="547.2" r="0.7" fill="#d98a3a"/>
<circle cx="158.9" cy="553.1" r="0.7" fill="#d98a3a"/>
<circle cx="159.0" cy="548.9" r="0.7" fill="#d98a3a"/>
<circle cx="158.2" cy="550.6" r="0.7" fill="#d98a3a"/>
<circle cx="156.6" cy="553.5" r="0.7" fill="#d98a3a"/>
<circle cx="159.2" cy="554.2" r="0.7" fill="#4646a8"/>
<circle cx="155.1" cy="551.1" r="0.7" fill="#4646a8"/>
<circle cx="157.3" cy="558.2" r="0.7" fill="#4646a8"/>
<circle cx="158.4" cy="551.5" r="0.7" fill="#4646a8"/>
<circle cx="156.8" cy="556.8" r="0.7" fill="#4646a8"/>
<circle cx="161.8" cy="558.3" r="0.7" fill="#4646a8"/>
<circle cx="159.2" cy="556.4" r="0.7" fill="#4646a8"/>
<circle cx="156.4" cy="555.1" r="0.7" fill="#4646a8"/>
<circle cx="157.8" cy="554.5" r="0.7" fill="#4646a8"/>
<circle cx="158.6" cy="555.2" r="0.7" fill="#4646a8"/>
<circle cx="159.2" cy="558.9" r="0.7" fill="#4646a8"/>
<circle cx="160.0" cy="556.8" r="0.7" fill="#4646a8"/>
<circle cx="158.0" cy="553.0" r="0.7" fill="#4646a8"/>
<circle cx="158.3" cy="557.1" r="0.7" fill="#4646a8"/>
<circle cx="228.0" cy="484.5" r="0.45" fill="#4646a8"/>
<circle cx="229.3" cy="483.4" r="0.45" fill="#4646a8"/>
<circle cx="229.3" cy="481.5" r="0.45" fill="#4646a8"/>
<circle cx="234.1" cy="481.6" r="0.45" fill="#4646a8"/>
<circle cx="231.8" cy="482.3" r="0.45" fill="#4646a8"/>
<circle cx="230.6" cy="482.0" r="0.45" fill="#4646a8"/>
<circle cx="270.9" cy="492.2" r="0.55" fill="#4646a8"/>
<circle cx="282.7" cy="486.0" r="0.55" fill="#4646a8"/>
<circle cx="273.1" cy="492.3" r="0.55" fill="#4646a8"/>
<circle cx="269.8" cy="491.5" r="0.55" fill="#4646a8"/>
<circle cx="269.1" cy="491.1" r="0.55" fill="#4646a8"/>
<circle cx="275.2" cy="493.2" r="0.55" fill="#4646a8"/>
<circle cx="274.8" cy="484.8" r="0.55" fill="#4646a8"/>
<circle cx="276.3" cy="485.1" r="0.55" fill="#4646a8"/>
<circle cx="276.8" cy="494.3" r="0.55" fill="#4646a8"/>
<circle cx="276.0" cy="487.1" r="0.55" fill="#4646a8"/>
<circle cx="279.0" cy="489.6" r="0.55" fill="#4646a8"/>
<circle cx="266.8" cy="487.8" r="0.55" fill="#4646a8"/>
<circle cx="280.1" cy="487.9" r="0.55" fill="#4646a8"/>
<circle cx="273.6" cy="487.8" r="0.55" fill="#4646a8"/>
<circle cx="158.5" cy="640.9" r="0.7" fill="#4646a8"/>
<circle cx="160.3" cy="641.7" r="0.7" fill="#4646a8"/>
<circle cx="159.8" cy="639.2" r="0.7" fill="#4646a8"/>
<circle cx="161.1" cy="642.3" r="0.7" fill="#4646a8"/>
<circle cx="160.9" cy="642.9" r="0.7" fill="#4646a8"/>
<circle cx="159.6" cy="640.8" r="0.7" fill="#4646a8"/>
<circle cx="160.3" cy="643.3" r="0.7" fill="#4646a8"/>
<circle cx="158.5" cy="641.2" r="0.7" fill="#4646a8"/>
<circle cx="191.9" cy="787.1" r="0.45" fill="#c8503c"/>
<circle cx="198.4" cy="785.4" r="0.45" fill="#c8503c"/>
<circle cx="190.3" cy="786.1" r="0.45" fill="#c8503c"/>
<circle cx="193.1" cy="782.9" r="0.45" fill="#c8503c"/>
<circle cx="196.7" cy="785.0" r="0.45" fill="#c8503c"/>
<circle cx="196.0" cy="783.4" r="0.45" fill="#c8503c"/>
<circle cx="206" cy="506" r="0.45" fill="#4646a8"/>
<circle cx="162" cy="604" r="0.45" fill="#4646a8"/>
<circle cx="164" cy="626" r="0.45" fill="#4646a8"/>
<circle cx="171" cy="644" r="0.45" fill="#4646a8"/>
<circle cx="261" cy="497" r="0.45" fill="#4646a8"/>
<circle cx="199" cy="741" r="0.45" fill="#4646a8"/>
<circle cx="158" cy="757" r="0.45" fill="#4646a8"/>
<circle cx="181" cy="775" r="0.45" fill="#4646a8"/>
<circle cx="190" cy="718" r="0.45" fill="#4646a8"/>
<circle cx="265" cy="692" r="0.45" fill="#4646a8"/>
</g>
<rect x="150.5" y="480.8" width="310.7" height="310.1" fill="none" stroke="#3a3a3a" stroke-width="1.5"/>
<path d="M157.4 790.9v-4.5M157.4 480.8v4.5" stroke="#3a3a3a" stroke-width="1"/>
<text x="156.2" y="804.1" font-size="10.4" fill="#111" stroke="#111" stroke-width="0.35" text-anchor="middle">−72</text>
<path d="M200.4 790.9v-4.5M200.4 480.8v4.5" stroke="#3a3a3a" stroke-width="1"/>
<text x="199.2" y="804.1" font-size="10.4" fill="#111" stroke="#111" stroke-width="0.35" text-anchor="middle">−70</text>
<path d="M243.4 790.9v-4.5M243.4 480.8v4.5" stroke="#3a3a3a" stroke-width="1"/>
<text x="242.2" y="804.1" font-size="10.4" fill="#111" stroke="#111" stroke-width="0.35" text-anchor="middle">−68</text>
<path d="M286.3 790.9v-4.5M286.3 480.8v4.5" stroke="#3a3a3a" stroke-width="1"/>
<text x="285.1" y="804.1" font-size="10.4" fill="#111" stroke="#111" stroke-width="0.35" text-anchor="middle">−66</text>
<path d="M329.3 790.9v-4.5M329.3 480.8v4.5" stroke="#3a3a3a" stroke-width="1"/>
<text x="328.1" y="804.1" font-size="10.4" fill="#111" stroke="#111" stroke-width="0.35" text-anchor="middle">−64</text>
<path d="M372.3 790.9v-4.5M372.3 480.8v4.5" stroke="#3a3a3a" stroke-width="1"/>
<text x="371.1" y="804.1" font-size="10.4" fill="#111" stroke="#111" stroke-width="0.35" text-anchor="middle">−62</text>
<path d="M415.3 790.9v-4.5M415.3 480.8v4.5" stroke="#3a3a3a" stroke-width="1"/>
<text x="414.1" y="804.1" font-size="10.4" fill="#111" stroke="#111" stroke-width="0.35" text-anchor="middle">−60</text>
<path d="M458.3 790.9v-4.5M458.3 480.8v4.5" stroke="#3a3a3a" stroke-width="1"/>
<text x="457.1" y="804.1" font-size="10.4" fill="#111" stroke="#111" stroke-width="0.35" text-anchor="middle">−58</text>
<path d="M150.5 777.9h4.5M461.2 777.9h-4.5" stroke="#3a3a3a" stroke-width="1"/>
<text x="146.0" y="781.9" font-size="10.4" fill="#111" stroke="#111" stroke-width="0.35" text-anchor="end">−3</text>
<path d="M150.5 756.4h4.5M461.2 756.4h-4.5" stroke="#3a3a3a" stroke-width="1"/>
<text x="146.0" y="760.4" font-size="10.4" fill="#111" stroke="#111" stroke-width="0.35" text-anchor="end">−2</text>
<path d="M150.5 734.8h4.5M461.2 734.8h-4.5" stroke="#3a3a3a" stroke-width="1"/>
<text x="146.0" y="738.8" font-size="10.4" fill="#111" stroke="#111" stroke-width="0.35" text-anchor="end">−1</text>
<path d="M150.5 713.3h4.5M461.2 713.3h-4.5" stroke="#3a3a3a" stroke-width="1"/>
<text x="146.0" y="717.3" font-size="10.4" fill="#111" stroke="#111" stroke-width="0.35" text-anchor="end">0</text>
<path d="M150.5 691.8h4.5M461.2 691.8h-4.5" stroke="#3a3a3a" stroke-width="1"/>
<text x="146.0" y="695.8" font-size="10.4" fill="#111" stroke="#111" stroke-width="0.35" text-anchor="end">1</text>
<path d="M150.5 670.2h4.5M461.2 670.2h-4.5" stroke="#3a3a3a" stroke-width="1"/>
<text x="146.0" y="674.2" font-size="10.4" fill="#111" stroke="#111" stroke-width="0.35" text-anchor="end">2</text>
<path d="M150.5 648.7h4.5M461.2 648.7h-4.5" stroke="#3a3a3a" stroke-width="1"/>
<text x="146.0" y="652.7" font-size="10.4" fill="#111" stroke="#111" stroke-width="0.35" text-anchor="end">3</text>
<path d="M150.5 627.2h4.5M461.2 627.2h-4.5" stroke="#3a3a3a" stroke-width="1"/>
<text x="146.0" y="631.2" font-size="10.4" fill="#111" stroke="#111" stroke-width="0.35" text-anchor="end">4</text>
<path d="M150.5 605.6h4.5M461.2 605.6h-4.5" stroke="#3a3a3a" stroke-width="1"/>
<text x="146.0" y="609.6" font-size="10.4" fill="#111" stroke="#111" stroke-width="0.35" text-anchor="end">5</text>
<path d="M150.5 584.1h4.5M461.2 584.1h-4.5" stroke="#3a3a3a" stroke-width="1"/>
<text x="146.0" y="588.1" font-size="10.4" fill="#111" stroke="#111" stroke-width="0.35" text-anchor="end">6</text>
<path d="M150.5 562.6h4.5M461.2 562.6h-4.5" stroke="#3a3a3a" stroke-width="1"/>
<text x="146.0" y="566.6" font-size="10.4" fill="#111" stroke="#111" stroke-width="0.35" text-anchor="end">7</text>
<path d="M150.5 541.1h4.5M461.2 541.1h-4.5" stroke="#3a3a3a" stroke-width="1"/>
<text x="146.0" y="545.1" font-size="10.4" fill="#111" stroke="#111" stroke-width="0.35" text-anchor="end">8</text>
<path d="M150.5 519.5h4.5M461.2 519.5h-4.5" stroke="#3a3a3a" stroke-width="1"/>
<text x="146.0" y="523.5" font-size="10.4" fill="#111" stroke="#111" stroke-width="0.35" text-anchor="end">9</text>
<path d="M150.5 498.0h4.5M461.2 498.0h-4.5" stroke="#3a3a3a" stroke-width="1"/>
<text x="146.0" y="502.0" font-size="10.4" fill="#111" stroke="#111" stroke-width="0.35" text-anchor="end">10</text>
<text x="305.8" y="817.8" font-size="10" fill="#111" stroke="#111" stroke-width="0.2" text-anchor="middle">Longitude (deg)</text>
<text transform="translate(128.6,635) rotate(-90)" font-size="10" fill="#111" stroke="#111" stroke-width="0.2" text-anchor="middle">Latitude (deg)</text>
<text x="96.7" y="469" font-size="10" fill="#111" stroke="#111" stroke-width="0.2" textLength="418" lengthAdjust="spacingAndGlyphs">MXGS−162 : DOY−305 : 2018.11.02−05:09:31 : FOV within 3600 sec and 800 km radius</text>
</g>
<g id="panelD">
<defs><clipPath id="clipD"><rect x="648.3" y="481.6" width="314.4" height="313.6"/></clipPath></defs>
<g clip-path="url(#clipD)">
<circle cx="1004.9" cy="451.7" r="386.7" fill="none" stroke="#8a8a8a" stroke-width="1.1"/>
<circle cx="1009.5" cy="719.7" r="0.7" fill="#c4573f"/>
<circle cx="1003.9" cy="720.0" r="0.7" fill="#4a52b4"/>
<circle cx="998.3" cy="720.2" r="0.7" fill="#4a52b4"/>
<circle cx="992.7" cy="720.3" r="0.7" fill="#c4573f"/>
<circle cx="987.1" cy="720.3" r="0.7" fill="#4a52b4"/>
<circle cx="981.5" cy="720.1" r="0.7" fill="#4a52b4"/>
<circle cx="975.9" cy="719.8" r="0.7" fill="#c4573f"/>
<circle cx="970.4" cy="719.4" r="0.7" fill="#4a52b4"/>
<circle cx="964.8" cy="718.9" r="0.7" fill="#4a52b4"/>
<circle cx="959.2" cy="718.2" r="0.7" fill="#c4573f"/>
<circle cx="953.7" cy="717.4" r="0.7" fill="#4a52b4"/>
<circle cx="948.2" cy="716.5" r="0.7" fill="#4a52b4"/>
<circle cx="942.7" cy="715.5" r="0.7" fill="#c4573f"/>
<circle cx="937.2" cy="714.4" r="0.7" fill="#4a52b4"/>
<circle cx="931.7" cy="713.1" r="0.7" fill="#4a52b4"/>
<circle cx="926.3" cy="711.7" r="0.7" fill="#c4573f"/>
<circle cx="920.9" cy="710.2" r="0.7" fill="#4a52b4"/>
<circle cx="915.5" cy="708.6" r="0.7" fill="#4a52b4"/>
<circle cx="910.2" cy="706.8" r="0.7" fill="#c4573f"/>
<circle cx="904.9" cy="705.0" r="0.7" fill="#4a52b4"/>
<circle cx="899.7" cy="703.0" r="0.7" fill="#4a52b4"/>
<circle cx="894.5" cy="700.9" r="0.7" fill="#c4573f"/>
<circle cx="889.3" cy="698.7" r="0.7" fill="#4a52b4"/>
<circle cx="884.2" cy="696.4" r="0.7" fill="#4a52b4"/>
<circle cx="879.2" cy="694.0" r="0.7" fill="#c4573f"/>
<circle cx="874.2" cy="691.5" r="0.7" fill="#4a52b4"/>
<circle cx="869.3" cy="688.8" r="0.7" fill="#4a52b4"/>
<circle cx="864.4" cy="686.0" r="0.7" fill="#c4573f"/>
<circle cx="859.6" cy="683.2" r="0.7" fill="#4a52b4"/>
<circle cx="854.8" cy="680.2" r="0.7" fill="#4a52b4"/>
<circle cx="850.1" cy="677.2" r="0.7" fill="#c4573f"/>
<circle cx="845.5" cy="674.0" r="0.7" fill="#4a52b4"/>
<circle cx="841.0" cy="670.7" r="0.7" fill="#4a52b4"/>
<circle cx="836.5" cy="667.3" r="0.7" fill="#c4573f"/>
<circle cx="832.1" cy="663.9" r="0.7" fill="#4a52b4"/>
<circle cx="827.8" cy="660.3" r="0.7" fill="#4a52b4"/>
<circle cx="823.6" cy="656.6" r="0.7" fill="#c4573f"/>
<circle cx="819.4" cy="652.9" r="0.7" fill="#4a52b4"/>
<circle cx="815.3" cy="649.0" r="0.7" fill="#4a52b4"/>
<circle cx="811.4" cy="645.1" r="0.7" fill="#c4573f"/>
<circle cx="807.5" cy="641.1" r="0.7" fill="#4a52b4"/>
<circle cx="803.6" cy="637.0" r="0.7" fill="#4a52b4"/>
<circle cx="799.9" cy="632.8" r="0.7" fill="#c4573f"/>
<circle cx="796.3" cy="628.5" r="0.7" fill="#4a52b4"/>
<circle cx="792.8" cy="624.2" r="0.7" fill="#4a52b4"/>
<circle cx="789.3" cy="619.7" r="0.7" fill="#c4573f"/>
<circle cx="786.0" cy="615.3" r="0.7" fill="#4a52b4"/>
<circle cx="782.8" cy="610.7" r="0.7" fill="#4a52b4"/>
<circle cx="779.6" cy="606.0" r="0.7" fill="#c4573f"/>
<circle cx="776.6" cy="601.3" r="0.7" fill="#4a52b4"/>
<circle cx="773.7" cy="596.6" r="0.7" fill="#4a52b4"/>
<circle cx="770.9" cy="591.7" r="0.7" fill="#c4573f"/>
<circle cx="768.2" cy="586.8" r="0.7" fill="#4a52b4"/>
<circle cx="765.5" cy="581.9" r="0.7" fill="#4a52b4"/>
<circle cx="763.1" cy="576.8" r="0.7" fill="#c4573f"/>
<circle cx="760.7" cy="571.8" r="0.7" fill="#4a52b4"/>
<circle cx="758.4" cy="566.7" r="0.7" fill="#4a52b4"/>
<circle cx="756.2" cy="561.5" r="0.7" fill="#c4573f"/>
<circle cx="754.2" cy="556.3" r="0.7" fill="#4a52b4"/>
<circle cx="752.3" cy="551.0" r="0.7" fill="#4a52b4"/>
<circle cx="750.5" cy="545.7" r="0.7" fill="#c4573f"/>
<circle cx="748.8" cy="540.4" r="0.7" fill="#4a52b4"/>
<circle cx="747.2" cy="535.0" r="0.7" fill="#4a52b4"/>
<circle cx="745.7" cy="529.6" r="0.7" fill="#c4573f"/>
<circle cx="744.4" cy="524.2" r="0.7" fill="#4a52b4"/>
<circle cx="743.2" cy="518.7" r="0.7" fill="#4a52b4"/>
<circle cx="742.1" cy="513.2" r="0.7" fill="#c4573f"/>
<circle cx="741.1" cy="507.7" r="0.7" fill="#4a52b4"/>
<circle cx="740.3" cy="502.2" r="0.7" fill="#4a52b4"/>
<circle cx="739.5" cy="496.6" r="0.7" fill="#c4573f"/>
<circle cx="738.9" cy="491.0" r="0.7" fill="#4a52b4"/>
<circle cx="738.4" cy="485.5" r="0.7" fill="#4a52b4"/>
<circle cx="738.1" cy="479.9" r="0.7" fill="#c4573f"/>
<circle cx="737.8" cy="474.3" r="0.7" fill="#4a52b4"/>
<circle cx="737.7" cy="468.7" r="0.7" fill="#4a52b4"/>
<circle cx="737.7" cy="463.1" r="0.7" fill="#c4573f"/>
<circle cx="737.8" cy="457.5" r="0.7" fill="#4a52b4"/>
<circle cx="738.1" cy="451.9" r="0.7" fill="#4a52b4"/>
<circle cx="738.5" cy="446.3" r="0.7" fill="#c4573f"/>
<circle cx="739.0" cy="440.7" r="0.7" fill="#4a52b4"/>
<circle cx="739.6" cy="435.2" r="0.7" fill="#4a52b4"/>
<circle cx="740.3" cy="429.6" r="0.7" fill="#c4573f"/>
<circle cx="741.2" cy="424.1" r="0.7" fill="#4a52b4"/>
<circle cx="791.5" cy="607.7" r="14.3" fill="none" stroke="#777" stroke-width="1.1"/>
<circle cx="805" cy="638.6" r="10.9" fill="none" stroke="#777" stroke-width="1.1"/>
<ellipse cx="831.2" cy="643.4" rx="20.3" ry="18.5" fill="none" stroke="#777" stroke-width="1.1"/>
<ellipse cx="831.7" cy="640.8" rx="36.1" ry="33.7" fill="none" stroke="#777" stroke-width="1.1"/>
<circle cx="775.8" cy="593.4" r="0.9" fill="#4a52b4"/>
<circle cx="783.5" cy="579.6" r="0.9" fill="#4a52b4"/>
<circle cx="778.7" cy="581.7" r="0.9" fill="#4a52b4"/>
<circle cx="793.8" cy="599.8" r="0.9" fill="#4a52b4"/>
<circle cx="793.2" cy="593.2" r="0.9" fill="#4a52b4"/>
<circle cx="788.1" cy="597.2" r="0.9" fill="#4a52b4"/>
<circle cx="782.4" cy="603.4" r="0.9" fill="#4a52b4"/>
<circle cx="777.7" cy="600.3" r="0.9" fill="#4a52b4"/>
<circle cx="790.9" cy="599.4" r="0.9" fill="#4a52b4"/>
<circle cx="790.7" cy="619.9" r="0.9" fill="#4a52b4"/>
<circle cx="785.0" cy="595.4" r="0.9" fill="#4a52b4"/>
<circle cx="785.9" cy="595.7" r="0.9" fill="#4a52b4"/>
<circle cx="783.1" cy="598.4" r="0.9" fill="#4a52b4"/>
<circle cx="798.9" cy="596.2" r="0.9" fill="#4a52b4"/>
<circle cx="789.6" cy="605.8" r="0.9" fill="#4a52b4"/>
<circle cx="798.1" cy="594.1" r="0.9" fill="#4a52b4"/>
<circle cx="790.3" cy="622.8" r="0.9" fill="#4a52b4"/>
<circle cx="776.5" cy="600.6" r="0.9" fill="#4a52b4"/>
<circle cx="797.6" cy="618.3" r="0.9" fill="#4a52b4"/>
<circle cx="773.2" cy="582.1" r="0.9" fill="#4a52b4"/>
<circle cx="788.9" cy="594.6" r="0.9" fill="#4a52b4"/>
<circle cx="785.6" cy="605.3" r="0.9" fill="#4a52b4"/>
<circle cx="788.8" cy="602.5" r="0.9" fill="#4a52b4"/>
<circle cx="787.8" cy="612.4" r="0.9" fill="#4a52b4"/>
<circle cx="795.8" cy="597.4" r="0.9" fill="#4a52b4"/>
<circle cx="786.0" cy="607.7" r="0.9" fill="#4a52b4"/>
<circle cx="786.2" cy="590.6" r="0.9" fill="#4a52b4"/>
<circle cx="786.9" cy="610.4" r="0.9" fill="#4a52b4"/>
<circle cx="784.9" cy="597.9" r="0.9" fill="#4a52b4"/>
<circle cx="787.7" cy="599.7" r="0.9" fill="#4a52b4"/>
<circle cx="780.5" cy="584.2" r="0.9" fill="#4a52b4"/>
<circle cx="797.8" cy="598.3" r="0.9" fill="#4a52b4"/>
<circle cx="784.2" cy="610.7" r="0.9" fill="#4a52b4"/>
<circle cx="788.4" cy="600.0" r="0.9" fill="#4a52b4"/>
<circle cx="799.9" cy="617.3" r="0.9" fill="#4a52b4"/>
<circle cx="794.8" cy="612.7" r="0.9" fill="#4a52b4"/>
<circle cx="796.5" cy="587.1" r="0.9" fill="#4a52b4"/>
<circle cx="785.7" cy="608.2" r="0.9" fill="#4a52b4"/>
<circle cx="775.2" cy="602.0" r="0.9" fill="#4a52b4"/>
<circle cx="797.6" cy="606.4" r="0.9" fill="#4a52b4"/>
<circle cx="784.2" cy="583.2" r="0.9" fill="#4a52b4"/>
<circle cx="802.6" cy="599.9" r="0.9" fill="#4a52b4"/>
<circle cx="792.7" cy="603.0" r="0.9" fill="#4a52b4"/>
<circle cx="771.6" cy="592.2" r="0.9" fill="#4a52b4"/>
<circle cx="785.0" cy="619.4" r="0.9" fill="#4a52b4"/>
<circle cx="780.7" cy="600.3" r="0.9" fill="#4a52b4"/>
<circle cx="786.7" cy="605.9" r="0.9" fill="#4a52b4"/>
<circle cx="790.4" cy="601.7" r="0.9" fill="#4a52b4"/>
<circle cx="769.1" cy="576.8" r="0.9" fill="#4a52b4"/>
<circle cx="788.3" cy="602.4" r="0.9" fill="#4a52b4"/>
<circle cx="793.7" cy="596.9" r="0.9" fill="#4a52b4"/>
<circle cx="784.0" cy="605.3" r="0.9" fill="#4a52b4"/>
<circle cx="773.8" cy="595.1" r="0.9" fill="#4a52b4"/>
<circle cx="781.2" cy="605.2" r="0.9" fill="#4a52b4"/>
<circle cx="801.6" cy="602.3" r="0.9" fill="#4a52b4"/>
<circle cx="794.2" cy="600.0" r="0.9" fill="#4a52b4"/>
<circle cx="786.8" cy="596.1" r="0.9" fill="#4a52b4"/>
<circle cx="777.3" cy="580.6" r="0.9" fill="#4a52b4"/>
<circle cx="775.2" cy="592.3" r="0.9" fill="#4a52b4"/>
<circle cx="793.7" cy="604.2" r="0.9" fill="#4a52b4"/>
<circle cx="798.3" cy="611.1" r="0.9" fill="#4a52b4"/>
<circle cx="787.9" cy="610.1" r="0.9" fill="#4a52b4"/>
<circle cx="798.4" cy="596.1" r="0.9" fill="#4a52b4"/>
<circle cx="792.6" cy="596.7" r="0.9" fill="#4a52b4"/>
<circle cx="777.0" cy="605.1" r="0.9" fill="#4a52b4"/>
<circle cx="781.8" cy="603.2" r="0.9" fill="#4a52b4"/>
<circle cx="784.7" cy="604.2" r="0.9" fill="#4a52b4"/>
<circle cx="779.9" cy="622.9" r="0.9" fill="#4a52b4"/>
<circle cx="793.7" cy="594.5" r="0.9" fill="#4a52b4"/>
<circle cx="781.0" cy="602.6" r="0.9" fill="#4a52b4"/>
<circle cx="791.9" cy="602.6" r="0.9" fill="#4a52b4"/>
<circle cx="782.9" cy="582.9" r="0.9" fill="#4a52b4"/>
<circle cx="783.7" cy="614.4" r="0.9" fill="#4a52b4"/>
<circle cx="783.3" cy="587.1" r="0.9" fill="#4a52b4"/>
<circle cx="776.7" cy="590.2" r="0.9" fill="#4a52b4"/>
<circle cx="783.9" cy="612.8" r="0.9" fill="#4a52b4"/>
<circle cx="788.6" cy="610.6" r="0.9" fill="#4a52b4"/>
<circle cx="783.0" cy="587.2" r="0.9" fill="#4a52b4"/>
<circle cx="789.6" cy="621.6" r="0.9" fill="#4a52b4"/>
<circle cx="778.5" cy="593.2" r="0.9" fill="#4a52b4"/>
<circle cx="794.4" cy="598.5" r="0.9" fill="#4a52b4"/>
<circle cx="791.1" cy="613.1" r="0.9" fill="#4a52b4"/>
<circle cx="776.9" cy="608.1" r="0.9" fill="#4a52b4"/>
<circle cx="775.5" cy="590.8" r="0.9" fill="#4a52b4"/>
<circle cx="785.0" cy="612.3" r="0.9" fill="#4a52b4"/>
<circle cx="779.9" cy="585.0" r="0.9" fill="#4a52b4"/>
<circle cx="784.4" cy="616.2" r="0.9" fill="#4a52b4"/>
<circle cx="789.5" cy="588.8" r="0.9" fill="#4a52b4"/>
<circle cx="800.5" cy="591.8" r="0.9" fill="#4a52b4"/>
<circle cx="778.6" cy="602.0" r="0.9" fill="#4a52b4"/>
<circle cx="797.4" cy="612.3" r="0.9" fill="#4a52b4"/>
<circle cx="791.6" cy="594.5" r="0.9" fill="#4a52b4"/>
<circle cx="778.4" cy="589.2" r="0.9" fill="#4a52b4"/>
<circle cx="784.2" cy="595.5" r="0.9" fill="#4a52b4"/>
<circle cx="784.0" cy="589.0" r="0.9" fill="#4a52b4"/>
<circle cx="780.5" cy="594.1" r="0.9" fill="#4a52b4"/>
<circle cx="775.3" cy="593.0" r="0.9" fill="#4a52b4"/>
<circle cx="776.4" cy="592.6" r="0.9" fill="#4a52b4"/>
<circle cx="790.4" cy="600.1" r="0.9" fill="#4a52b4"/>
<circle cx="779.9" cy="607.9" r="0.9" fill="#4a52b4"/>
<circle cx="792.9" cy="612.5" r="0.9" fill="#4a52b4"/>
<circle cx="784.6" cy="599.1" r="0.9" fill="#4a52b4"/>
<circle cx="782.6" cy="603.1" r="0.9" fill="#4a52b4"/>
<circle cx="790.1" cy="600.9" r="0.9" fill="#4a52b4"/>
<circle cx="786.7" cy="606.0" r="0.9" fill="#4a52b4"/>
<circle cx="787.9" cy="602.4" r="0.9" fill="#4a52b4"/>
<circle cx="781.3" cy="604.4" r="0.9" fill="#4a52b4"/>
<circle cx="777.6" cy="595.5" r="0.9" fill="#4a52b4"/>
<circle cx="794.1" cy="618.4" r="0.9" fill="#4a52b4"/>
<circle cx="792.7" cy="598.3" r="0.9" fill="#4a52b4"/>
<circle cx="788.5" cy="609.5" r="0.9" fill="#4a52b4"/>
<circle cx="799.0" cy="607.9" r="0.9" fill="#4a52b4"/>
<circle cx="785.9" cy="602.6" r="0.9" fill="#4a52b4"/>
<circle cx="783.5" cy="598.8" r="0.9" fill="#4a52b4"/>
<circle cx="780.4" cy="600.3" r="0.9" fill="#4a52b4"/>
<circle cx="769.3" cy="595.0" r="0.9" fill="#4a52b4"/>
<circle cx="786.2" cy="591.5" r="0.9" fill="#4a52b4"/>
<circle cx="785.8" cy="588.1" r="0.9" fill="#4a52b4"/>
<circle cx="785.4" cy="604.8" r="0.9" fill="#4a52b4"/>
<circle cx="777.8" cy="596.7" r="0.9" fill="#4a52b4"/>
<circle cx="796.6" cy="590.5" r="0.9" fill="#4a52b4"/>
<circle cx="780.4" cy="591.1" r="0.9" fill="#4a52b4"/>
<circle cx="784.2" cy="593.9" r="0.9" fill="#4a52b4"/>
<circle cx="789.0" cy="598.1" r="0.9" fill="#4a52b4"/>
<circle cx="781.9" cy="592.2" r="0.9" fill="#4a52b4"/>
<circle cx="776.8" cy="586.3" r="0.9" fill="#4a52b4"/>
<circle cx="780.2" cy="597.7" r="0.9" fill="#4a52b4"/>
<circle cx="784.6" cy="598.1" r="0.9" fill="#4a52b4"/>
<circle cx="788.8" cy="593.2" r="0.9" fill="#4a52b4"/>
<circle cx="794.7" cy="591.3" r="0.9" fill="#4a52b4"/>
<circle cx="780.8" cy="591.8" r="0.9" fill="#4a52b4"/>
<circle cx="789.8" cy="593.3" r="0.9" fill="#4a52b4"/>
<circle cx="780.2" cy="596.2" r="0.9" fill="#4a52b4"/>
<circle cx="789.8" cy="593.4" r="0.9" fill="#4a52b4"/>
<circle cx="782.7" cy="599.5" r="0.9" fill="#4a52b4"/>
<circle cx="789.0" cy="598.8" r="0.9" fill="#4a52b4"/>
<circle cx="780.1" cy="595.4" r="0.9" fill="#4a52b4"/>
<circle cx="785.9" cy="584.8" r="0.9" fill="#4a52b4"/>
<circle cx="790.1" cy="594.5" r="0.9" fill="#4a52b4"/>
<circle cx="782.3" cy="605.6" r="0.9" fill="#4a52b4"/>
<circle cx="784.7" cy="590.3" r="0.9" fill="#4a52b4"/>
<circle cx="783.7" cy="596.9" r="0.9" fill="#4a52b4"/>
<circle cx="788.2" cy="593.7" r="0.9" fill="#4a52b4"/>
<circle cx="779.6" cy="590.4" r="0.9" fill="#4a52b4"/>
<circle cx="779.8" cy="588.6" r="0.9" fill="#4a52b4"/>
<circle cx="783.9" cy="591.5" r="0.9" fill="#4a52b4"/>
<circle cx="784.3" cy="589.8" r="0.9" fill="#4a52b4"/>
<circle cx="779.6" cy="593.1" r="0.9" fill="#4a52b4"/>
<circle cx="782.2" cy="599.9" r="0.9" fill="#4a52b4"/>
<circle cx="779.4" cy="595.1" r="0.9" fill="#4a52b4"/>
<circle cx="783.8" cy="587.3" r="0.9" fill="#4a52b4"/>
<circle cx="787.7" cy="594.9" r="0.9" fill="#4a52b4"/>
<circle cx="773.3" cy="597.1" r="0.9" fill="#4a52b4"/>
<circle cx="788.8" cy="589.9" r="0.9" fill="#4a52b4"/>
<circle cx="792.6" cy="594.8" r="0.9" fill="#4a52b4"/>
<circle cx="778.1" cy="596.9" r="0.9" fill="#4a52b4"/>
<circle cx="782.2" cy="587.2" r="0.9" fill="#4a52b4"/>
<circle cx="773.1" cy="595.3" r="0.9" fill="#4a52b4"/>
<circle cx="780.2" cy="597.3" r="0.9" fill="#4a52b4"/>
<circle cx="786.0" cy="591.3" r="0.9" fill="#4a52b4"/>
<circle cx="781.3" cy="603.0" r="0.9" fill="#4a52b4"/>
<circle cx="792.7" cy="597.8" r="0.9" fill="#4a52b4"/>
<circle cx="782.2" cy="589.0" r="0.9" fill="#4a52b4"/>
<circle cx="782.0" cy="602.5" r="0.9" fill="#4a52b4"/>
<circle cx="786.3" cy="592.5" r="0.9" fill="#4a52b4"/>
<circle cx="777.7" cy="594.9" r="0.9" fill="#4a52b4"/>
<circle cx="779.5" cy="594.1" r="0.9" fill="#4a52b4"/>
<circle cx="787.8" cy="599.5" r="0.9" fill="#4a52b4"/>
<circle cx="784.7" cy="592.3" r="0.9" fill="#4a52b4"/>
<circle cx="785.2" cy="603.2" r="0.9" fill="#4a52b4"/>
<circle cx="791.3" cy="607.9" r="0.88" fill="#4a52b4"/>
<circle cx="798.5" cy="616.3" r="0.88" fill="#4a52b4"/>
<circle cx="810.3" cy="612.6" r="0.88" fill="#4a52b4"/>
<circle cx="788.4" cy="613.5" r="0.88" fill="#4a52b4"/>
<circle cx="791.3" cy="612.1" r="0.88" fill="#4a52b4"/>
<circle cx="780.0" cy="605.2" r="0.88" fill="#4a52b4"/>
<circle cx="788.2" cy="612.4" r="0.88" fill="#4a52b4"/>
<circle cx="785.5" cy="625.8" r="0.88" fill="#4a52b4"/>
<circle cx="793.9" cy="620.5" r="0.88" fill="#4a52b4"/>
<circle cx="786.0" cy="616.5" r="0.88" fill="#4a52b4"/>
<circle cx="787.7" cy="614.0" r="0.88" fill="#4a52b4"/>
<circle cx="793.6" cy="618.1" r="0.88" fill="#4a52b4"/>
<circle cx="790.9" cy="615.8" r="0.88" fill="#4a52b4"/>
<circle cx="780.2" cy="611.2" r="0.88" fill="#4a52b4"/>
<circle cx="791.3" cy="613.1" r="0.88" fill="#4a52b4"/>
<circle cx="784.3" cy="616.8" r="0.88" fill="#4a52b4"/>
<circle cx="783.4" cy="611.6" r="0.88" fill="#4a52b4"/>
<circle cx="794.4" cy="613.2" r="0.88" fill="#4a52b4"/>
<circle cx="797.7" cy="617.7" r="0.88" fill="#4a52b4"/>
<circle cx="793.9" cy="620.7" r="0.88" fill="#4a52b4"/>
<circle cx="775.8" cy="614.6" r="0.88" fill="#4a52b4"/>
<circle cx="781.1" cy="612.6" r="0.88" fill="#4a52b4"/>
<circle cx="788.4" cy="621.3" r="0.88" fill="#4a52b4"/>
<circle cx="788.7" cy="623.3" r="0.88" fill="#4a52b4"/>
<circle cx="785.8" cy="614.7" r="0.88" fill="#4a52b4"/>
<circle cx="789.6" cy="619.8" r="0.88" fill="#4a52b4"/>
<circle cx="788.7" cy="611.9" r="0.88" fill="#4a52b4"/>
<circle cx="787.0" cy="607.9" r="0.88" fill="#4a52b4"/>
<circle cx="796.7" cy="618.8" r="0.88" fill="#4a52b4"/>
<circle cx="791.6" cy="616.4" r="0.88" fill="#4a52b4"/>
<circle cx="785.3" cy="612.9" r="0.88" fill="#4a52b4"/>
<circle cx="793.9" cy="611.0" r="0.88" fill="#4a52b4"/>
<circle cx="784.2" cy="623.0" r="0.88" fill="#4a52b4"/>
<circle cx="798.5" cy="616.5" r="0.88" fill="#4a52b4"/>
<circle cx="792.2" cy="615.9" r="0.88" fill="#4a52b4"/>
<circle cx="791.6" cy="621.0" r="0.75" fill="#4a52b4"/>
<circle cx="780.7" cy="629.4" r="0.75" fill="#4a52b4"/>
<circle cx="791.7" cy="622.7" r="0.75" fill="#4a52b4"/>
<circle cx="781.9" cy="620.5" r="0.75" fill="#4a52b4"/>
<circle cx="774.7" cy="619.1" r="0.75" fill="#4a52b4"/>
<circle cx="780.7" cy="633.1" r="0.75" fill="#4a52b4"/>
<circle cx="774.4" cy="619.5" r="0.75" fill="#4a52b4"/>
<circle cx="776.7" cy="628.2" r="0.75" fill="#4a52b4"/>
<circle cx="785.6" cy="613.6" r="0.75" fill="#4a52b4"/>
<circle cx="782.9" cy="616.0" r="0.75" fill="#4a52b4"/>
<circle cx="785.8" cy="616.3" r="0.75" fill="#4a52b4"/>
<circle cx="771.3" cy="618.5" r="0.75" fill="#4a52b4"/>
<circle cx="779.5" cy="616.0" r="0.75" fill="#4a52b4"/>
<circle cx="781.7" cy="626.3" r="0.75" fill="#4a52b4"/>
<circle cx="801.2" cy="614.1" r="0.92" fill="#c4573f"/>
<circle cx="801.6" cy="610.2" r="0.92" fill="#c4573f"/>
<circle cx="800.6" cy="613.3" r="0.92" fill="#c4573f"/>
<circle cx="796.3" cy="616.9" r="0.92" fill="#c4573f"/>
<circle cx="797.7" cy="612.0" r="0.92" fill="#c4573f"/>
<circle cx="799.7" cy="614.2" r="0.92" fill="#c4573f"/>
<circle cx="802.1" cy="614.5" r="0.92" fill="#c4573f"/>
<circle cx="800.0" cy="616.3" r="0.92" fill="#c4573f"/>
<circle cx="801.0" cy="611.7" r="0.92" fill="#c4573f"/>
<circle cx="801.7" cy="615.9" r="0.92" fill="#c4573f"/>
<circle cx="802.6" cy="615.1" r="0.92" fill="#c4573f"/>
<circle cx="802.5" cy="616.8" r="0.92" fill="#c4573f"/>
<circle cx="806.5" cy="612.4" r="0.92" fill="#c4573f"/>
<circle cx="799.3" cy="620.5" r="0.92" fill="#c4573f"/>
<circle cx="797.3" cy="609.8" r="0.92" fill="#c4573f"/>
<circle cx="795.6" cy="617.3" r="0.92" fill="#c4573f"/>
<circle cx="804.6" cy="615.3" r="0.92" fill="#c4573f"/>
<circle cx="801.8" cy="618.3" r="0.92" fill="#c4573f"/>
<circle cx="799.6" cy="611.7" r="0.92" fill="#c4573f"/>
<circle cx="801.1" cy="614.0" r="0.92" fill="#c4573f"/>
<circle cx="801.3" cy="614.6" r="0.92" fill="#c4573f"/>
<circle cx="797.7" cy="620.6" r="0.92" fill="#c4573f"/>
<circle cx="800.2" cy="616.0" r="0.92" fill="#c4573f"/>
<circle cx="798.9" cy="614.8" r="0.92" fill="#c4573f"/>
<circle cx="797.9" cy="608.7" r="0.92" fill="#c4573f"/>
<circle cx="802.4" cy="614.9" r="0.92" fill="#c4573f"/>
<circle cx="795.0" cy="608.2" r="0.92" fill="#c4573f"/>
<circle cx="797.9" cy="611.5" r="0.92" fill="#c4573f"/>
<circle cx="800.8" cy="613.2" r="0.92" fill="#c4573f"/>
<circle cx="805.3" cy="613.6" r="0.92" fill="#c4573f"/>
<circle cx="796.0" cy="604.8" r="0.75" fill="#c4573f"/>
<circle cx="785.5" cy="599.5" r="0.75" fill="#c4573f"/>
<circle cx="793.3" cy="603.4" r="0.75" fill="#c4573f"/>
<circle cx="798.3" cy="605.1" r="0.75" fill="#c4573f"/>
<circle cx="800.7" cy="600.5" r="0.75" fill="#c4573f"/>
<circle cx="798.2" cy="603.3" r="0.75" fill="#c4573f"/>
<circle cx="797.1" cy="605.6" r="0.75" fill="#c4573f"/>
<circle cx="795.9" cy="605.1" r="0.75" fill="#c4573f"/>
<circle cx="796.9" cy="609.1" r="0.75" fill="#c4573f"/>
<circle cx="796.6" cy="605.5" r="0.75" fill="#c4573f"/>
<circle cx="830.6" cy="600.5" r="0.8" fill="#c4573f"/>
<circle cx="818.1" cy="602.3" r="0.8" fill="#c4573f"/>
<circle cx="809.0" cy="600.8" r="0.8" fill="#c4573f"/>
<circle cx="819.5" cy="599.8" r="0.8" fill="#c4573f"/>
<circle cx="820.8" cy="601.1" r="0.8" fill="#c4573f"/>
<circle cx="822.1" cy="595.4" r="0.8" fill="#c4573f"/>
<circle cx="817.6" cy="595.8" r="0.8" fill="#c4573f"/>
<circle cx="822.4" cy="598.5" r="0.8" fill="#c4573f"/>
<circle cx="807.2" cy="598.4" r="0.8" fill="#c4573f"/>
<circle cx="809.0" cy="601.9" r="0.8" fill="#c4573f"/>
<circle cx="813.0" cy="589.3" r="0.8" fill="#c4573f"/>
<circle cx="812.7" cy="602.1" r="0.8" fill="#c4573f"/>
<circle cx="817.0" cy="595.5" r="0.8" fill="#c4573f"/>
<circle cx="818.9" cy="600.3" r="0.8" fill="#c4573f"/>
<circle cx="826.4" cy="608.7" r="0.75" fill="#d9873c"/>
<circle cx="823.1" cy="603.6" r="0.75" fill="#d9873c"/>
<circle cx="822.9" cy="606.9" r="0.75" fill="#d9873c"/>
<circle cx="822.0" cy="607.3" r="0.75" fill="#d9873c"/>
<circle cx="818.5" cy="607.7" r="0.75" fill="#d9873c"/>
<circle cx="849.1" cy="624.6" r="0.8" fill="#d9873c"/>
<circle cx="848.5" cy="621.7" r="0.8" fill="#d9873c"/>
<circle cx="850.3" cy="626.5" r="0.8" fill="#d9873c"/>
<circle cx="847.4" cy="624.5" r="0.8" fill="#d9873c"/>
<circle cx="845.2" cy="624.9" r="0.8" fill="#d9873c"/>
<circle cx="849.1" cy="617.3" r="0.8" fill="#d9873c"/>
<circle cx="854.8" cy="619.0" r="0.8" fill="#d9873c"/>
<circle cx="849.4" cy="617.1" r="0.8" fill="#d9873c"/>
<circle cx="840.4" cy="625.9" r="0.8" fill="#d9873c"/>
<circle cx="842.0" cy="613.7" r="0.8" fill="#d9873c"/>
<circle cx="847.9" cy="616.1" r="0.8" fill="#d9873c"/>
<circle cx="848.0" cy="631.2" r="0.8" fill="#d9873c"/>
<circle cx="836.0" cy="575.9" r="0.8" fill="#c4573f"/>
<circle cx="840.8" cy="575.6" r="0.8" fill="#c4573f"/>
<circle cx="837.4" cy="578.7" r="0.8" fill="#c4573f"/>
<circle cx="837.6" cy="575.9" r="0.8" fill="#c4573f"/>
<circle cx="838.6" cy="571.8" r="0.8" fill="#c4573f"/>
<circle cx="839.6" cy="575.1" r="0.8" fill="#c4573f"/>
<circle cx="841.2" cy="576.7" r="0.8" fill="#c4573f"/>
<circle cx="837.3" cy="607.5" r="0.7" fill="#4a52b4"/>
<circle cx="824.7" cy="613.1" r="0.7" fill="#4a52b4"/>
<circle cx="822.9" cy="616.6" r="0.7" fill="#4a52b4"/>
<circle cx="827.5" cy="615.6" r="0.7" fill="#4a52b4"/>
<circle cx="818.3" cy="611.2" r="0.7" fill="#4a52b4"/>
<circle cx="811.9" cy="535.8" r="0.9" fill="#7070a8"/>
<circle cx="817.4" cy="531.9" r="0.7" fill="#8a8aa8"/>
<circle cx="797.8" cy="550.2" r="0.7" fill="#9a9ab8"/>
<circle cx="796.2" cy="560" r="0.7" fill="#b0a0a8"/>
<circle cx="786.4" cy="570.2" r="0.75" fill="#4a52b4"/>
<circle cx="785" cy="574" r="0.88" fill="#4a52b4"/>
<circle cx="787.5" cy="577" r="0.75" fill="#4a52b4"/>
<circle cx="830.6" cy="569.8" r="0.8" fill="#c4573f"/>
<circle cx="834.1" cy="572.2" r="0.8" fill="#c4573f"/>
<circle cx="771.2" cy="663.4" r="1.2" fill="#4a52b4"/>
<circle cx="791.1" cy="670.4" r="0.88" fill="#4a52b4"/>
<circle cx="791" cy="675" r="0.6" fill="#9a9ab8"/>
<circle cx="741.6" cy="730.7" r="0.88" fill="#4a52b4"/>
<circle cx="766" cy="634" r="0.88" fill="#4a52b4"/>
<circle cx="770" cy="637" r="0.88" fill="#4a52b4"/>
<circle cx="772" cy="628" r="0.75" fill="#4a52b4"/>
<circle cx="768" cy="615" r="0.75" fill="#4a52b4"/>
<circle cx="769" cy="605" r="0.75" fill="#4a52b4"/>
<circle cx="765" cy="587" r="0.7" fill="#4a52b4"/>
<circle cx="757" cy="596" r="0.75" fill="#c4573f"/>
<circle cx="792" cy="642" r="0.7" fill="#c4573f"/>
<circle cx="792" cy="645" r="0.7" fill="#c4573f"/>
<circle cx="812" cy="585" r="0.75" fill="#4a52b4"/>
<circle cx="838" cy="593" r="0.88" fill="#4a52b4"/>
<circle cx="827" cy="590" r="0.75" fill="#4a52b4"/>
<circle cx="800" cy="620" r="0.7" fill="#c4573f"/>
<circle cx="804" cy="622" r="0.7" fill="#c4573f"/>
<circle cx="808" cy="618" r="0.7" fill="#c4573f"/>
<circle cx="812" cy="612" r="0.75" fill="#c4573f"/>
<circle cx="862" cy="622" r="0.5" fill="#4a52b4"/>
<circle cx="853" cy="615" r="0.5" fill="#4a52b4"/>
<circle cx="760" cy="655" r="0.6" fill="#c8c8d8"/>
<circle cx="791.5" cy="607.5" r="4.1" fill="#3f50b2"/>
<circle cx="805.1" cy="638.6" r="4.4" fill="#eea132"/>
<circle cx="830.5" cy="643.7" r="4.3" fill="#58c052"/>
<path d="M796.9 645.3L834.4 610.7" stroke="#111" stroke-width="1.35" stroke-linecap="round"/>
<path d="M823.9 650.7L837.8 636.1" stroke="#111" stroke-width="1.2" stroke-linecap="round"/>
<circle cx="805.1" cy="638.6" r="0.9" fill="#111"/><circle cx="830.5" cy="643.7" r="0.9" fill="#111"/>
</g>
<rect x="648.3" y="481.6" width="314.4" height="313.6" fill="none" stroke="#3a3a3a" stroke-width="1.1"/>
<path d="M655.5 795.2v-4.5M655.5 481.6v4.5" stroke="#3a3a3a" stroke-width="1"/>
<text x="654.3" y="808.6" font-size="10.4" fill="#111" stroke="#111" stroke-width="0.35" text-anchor="middle">−67</text>
<path d="M690.5 795.2v-4.5M690.5 481.6v4.5" stroke="#3a3a3a" stroke-width="1"/>
<text x="689.3" y="808.6" font-size="10.4" fill="#111" stroke="#111" stroke-width="0.35" text-anchor="middle">−66.8</text>
<path d="M725.5 795.2v-4.5M725.5 481.6v4.5" stroke="#3a3a3a" stroke-width="1"/>
<text x="724.3" y="808.6" font-size="10.4" fill="#111" stroke="#111" stroke-width="0.35" text-anchor="middle">−66.6</text>
<path d="M760.5 795.2v-4.5M760.5 481.6v4.5" stroke="#3a3a3a" stroke-width="1"/>
<text x="759.3" y="808.6" font-size="10.4" fill="#111" stroke="#111" stroke-width="0.35" text-anchor="middle">−66.4</text>
<path d="M795.5 795.2v-4.5M795.5 481.6v4.5" stroke="#3a3a3a" stroke-width="1"/>
<text x="794.3" y="808.6" font-size="10.4" fill="#111" stroke="#111" stroke-width="0.35" text-anchor="middle">−66.2</text>
<path d="M830.5 795.2v-4.5M830.5 481.6v4.5" stroke="#3a3a3a" stroke-width="1"/>
<text x="829.3" y="808.6" font-size="10.4" fill="#111" stroke="#111" stroke-width="0.35" text-anchor="middle">−66</text>
<path d="M865.5 795.2v-4.5M865.5 481.6v4.5" stroke="#3a3a3a" stroke-width="1"/>
<text x="864.3" y="808.6" font-size="10.4" fill="#111" stroke="#111" stroke-width="0.35" text-anchor="middle">−65.8</text>
<path d="M900.5 795.2v-4.5M900.5 481.6v4.5" stroke="#3a3a3a" stroke-width="1"/>
<text x="899.3" y="808.6" font-size="10.4" fill="#111" stroke="#111" stroke-width="0.35" text-anchor="middle">−65.6</text>
<path d="M935.5 795.2v-4.5M935.5 481.6v4.5" stroke="#3a3a3a" stroke-width="1"/>
<text x="934.3" y="808.6" font-size="10.4" fill="#111" stroke="#111" stroke-width="0.35" text-anchor="middle">−65.4</text>
<path d="M648.3 778.9h4M962.7 778.9h-4" stroke="#3a3a3a" stroke-width="1"/>
<text x="642.3" y="782.5" font-size="10.4" fill="#111" stroke="#111" stroke-width="0.35" text-anchor="end">1.8</text>
<path d="M648.3 761.4h4M962.7 761.4h-4" stroke="#3a3a3a" stroke-width="1"/>
<text x="642.3" y="765.0" font-size="10.4" fill="#111" stroke="#111" stroke-width="0.35" text-anchor="end">1.9</text>
<path d="M648.3 744.0h4M962.7 744.0h-4" stroke="#3a3a3a" stroke-width="1"/>
<text x="642.3" y="747.6" font-size="10.4" fill="#111" stroke="#111" stroke-width="0.35" text-anchor="end">2</text>
<path d="M648.3 726.5h4M962.7 726.5h-4" stroke="#3a3a3a" stroke-width="1"/>
<text x="642.3" y="730.1" font-size="10.4" fill="#111" stroke="#111" stroke-width="0.35" text-anchor="end">2.1</text>
<path d="M648.3 709.0h4M962.7 709.0h-4" stroke="#3a3a3a" stroke-width="1"/>
<text x="642.3" y="712.6" font-size="10.4" fill="#111" stroke="#111" stroke-width="0.35" text-anchor="end">2.2</text>
<path d="M648.3 691.5h4M962.7 691.5h-4" stroke="#3a3a3a" stroke-width="1"/>
<text x="642.3" y="695.1" font-size="10.4" fill="#111" stroke="#111" stroke-width="0.35" text-anchor="end">2.3</text>
<path d="M648.3 674.0h4M962.7 674.0h-4" stroke="#3a3a3a" stroke-width="1"/>
<text x="642.3" y="677.6" font-size="10.4" fill="#111" stroke="#111" stroke-width="0.35" text-anchor="end">2.4</text>
<path d="M648.3 656.5h4M962.7 656.5h-4" stroke="#3a3a3a" stroke-width="1"/>
<text x="642.3" y="660.1" font-size="10.4" fill="#111" stroke="#111" stroke-width="0.35" text-anchor="end">2.5</text>
<path d="M648.3 639.0h4M962.7 639.0h-4" stroke="#3a3a3a" stroke-width="1"/>
<text x="642.3" y="642.6" font-size="10.4" fill="#111" stroke="#111" stroke-width="0.35" text-anchor="end">2.6</text>
<path d="M648.3 621.5h4M962.7 621.5h-4" stroke="#3a3a3a" stroke-width="1"/>
<text x="642.3" y="625.1" font-size="10.4" fill="#111" stroke="#111" stroke-width="0.35" text-anchor="end">2.7</text>
<path d="M648.3 604.0h4M962.7 604.0h-4" stroke="#3a3a3a" stroke-width="1"/>
<text x="642.3" y="607.6" font-size="10.4" fill="#111" stroke="#111" stroke-width="0.35" text-anchor="end">2.8</text>
<path d="M648.3 586.5h4M962.7 586.5h-4" stroke="#3a3a3a" stroke-width="1"/>
<text x="642.3" y="590.1" font-size="10.4" fill="#111" stroke="#111" stroke-width="0.35" text-anchor="end">2.9</text>
<path d="M648.3 569.1h4M962.7 569.1h-4" stroke="#3a3a3a" stroke-width="1"/>
<text x="642.3" y="572.7" font-size="10.4" fill="#111" stroke="#111" stroke-width="0.35" text-anchor="end">3</text>
<path d="M648.3 551.6h4M962.7 551.6h-4" stroke="#3a3a3a" stroke-width="1"/>
<text x="642.3" y="555.2" font-size="10.4" fill="#111" stroke="#111" stroke-width="0.35" text-anchor="end">3.1</text>
<path d="M648.3 534.1h4M962.7 534.1h-4" stroke="#3a3a3a" stroke-width="1"/>
<text x="642.3" y="537.7" font-size="10.4" fill="#111" stroke="#111" stroke-width="0.35" text-anchor="end">3.2</text>
<path d="M648.3 516.6h4M962.7 516.6h-4" stroke="#3a3a3a" stroke-width="1"/>
<text x="642.3" y="520.2" font-size="10.4" fill="#111" stroke="#111" stroke-width="0.35" text-anchor="end">3.3</text>
<path d="M648.3 499.1h4M962.7 499.1h-4" stroke="#3a3a3a" stroke-width="1"/>
<text x="642.3" y="502.7" font-size="10.4" fill="#111" stroke="#111" stroke-width="0.35" text-anchor="end">3.4</text>
<path d="M648.3 481.6h4M962.7 481.6h-4" stroke="#3a3a3a" stroke-width="1"/>
<text x="642.3" y="485.2" font-size="10.4" fill="#111" stroke="#111" stroke-width="0.35" text-anchor="end">3.5</text>
<text x="802.5" y="822.5" font-size="10" fill="#111" stroke="#111" stroke-width="0.2" text-anchor="middle">Longitude (deg)</text>
<text transform="translate(618.5,638) rotate(-90)" font-size="10" fill="#111" stroke="#111" stroke-width="0.2" text-anchor="middle">Latitude (deg)</text>
<text x="609.4" y="469" font-size="10" fill="#111" stroke="#111" stroke-width="0.2" textLength="392" lengthAdjust="spacingAndGlyphs">MXGS−162 : DOY−306 : 2018.11.02−05:09:31 : TGF within 3600 sec and 100 km</text>
</g>
</svg>
</body></html>
